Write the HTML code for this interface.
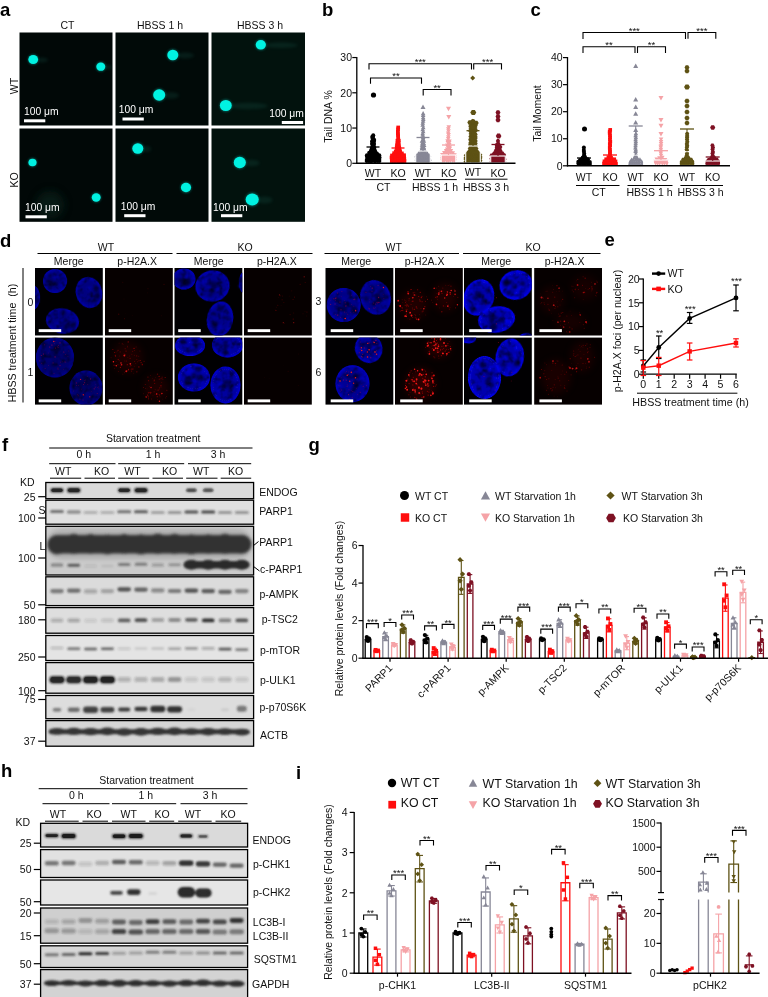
<!DOCTYPE html>
<html lang="en"><head><meta charset="utf-8"><title>Figure</title>
<style>
html,body{margin:0;padding:0;background:#fff}
svg{display:block}
svg text{font-family:"Liberation Sans",Arial,Helvetica,sans-serif;font-size:10.5px;fill:#111}
</style></head><body>
<svg width="768" height="997" viewBox="0 0 768 997">
<defs>
<filter id="b03" x="-20%" y="-20%" width="140%" height="140%"><feGaussianBlur stdDeviation="0.35"/></filter>
<filter id="b06" x="-30%" y="-30%" width="160%" height="160%"><feGaussianBlur stdDeviation="0.6"/></filter>
<filter id="b1" x="-30%" y="-50%" width="160%" height="200%"><feGaussianBlur stdDeviation="1"/></filter>
<filter id="b15" x="-30%" y="-60%" width="160%" height="220%"><feGaussianBlur stdDeviation="1.5"/></filter>
<filter id="b2" x="-30%" y="-60%" width="160%" height="220%"><feGaussianBlur stdDeviation="2.2"/></filter>
<filter id="b4" x="-50%" y="-50%" width="200%" height="200%"><feGaussianBlur stdDeviation="4"/></filter>
<filter id="mot" x="0" y="0" width="100%" height="100%"><feTurbulence type="fractalNoise" baseFrequency="0.17" numOctaves="2" seed="4" result="n"/><feColorMatrix in="n" type="matrix" values="0 0 0 0 0  0 0 0 0 0  2.8 0 0 0 -0.55  0 0 0 0 1" result="n2"/><feComposite in="SourceGraphic" in2="n2" operator="arithmetic" k1="1.0" k2="0.3" k3="0" k4="0"/></filter>
<clipPath id="ca00"><rect x="19.5" y="32.5" width="93" height="93"/></clipPath>
<clipPath id="ca01"><rect x="19.5" y="128.5" width="93" height="93.3"/></clipPath>
<clipPath id="ca10"><rect x="115.5" y="32.5" width="93" height="93"/></clipPath>
<clipPath id="ca11"><rect x="115.5" y="128.5" width="93" height="93.3"/></clipPath>
<clipPath id="ca20"><rect x="211.5" y="32.5" width="93.5" height="93"/></clipPath>
<clipPath id="ca21"><rect x="211.5" y="128.5" width="93.5" height="93.3"/></clipPath>
<clipPath id="cd000"><rect x="35" y="268" width="67.8" height="67.5"/></clipPath>
<clipPath id="cd001"><rect x="35" y="337.6" width="67.8" height="67"/></clipPath>
<clipPath id="cd010"><rect x="105" y="268" width="67.8" height="67.5"/></clipPath>
<clipPath id="cd011"><rect x="105" y="337.6" width="67.8" height="67"/></clipPath>
<clipPath id="cd020"><rect x="174.5" y="268" width="67.8" height="67.5"/></clipPath>
<clipPath id="cd021"><rect x="174.5" y="337.6" width="67.8" height="67"/></clipPath>
<clipPath id="cd030"><rect x="244" y="268" width="67.8" height="67.5"/></clipPath>
<clipPath id="cd031"><rect x="244" y="337.6" width="67.8" height="67"/></clipPath>
<clipPath id="cd100"><rect x="325.5" y="268" width="67.8" height="67.5"/></clipPath>
<clipPath id="cd101"><rect x="325.5" y="337.6" width="67.8" height="67"/></clipPath>
<clipPath id="cd110"><rect x="395" y="268" width="67.8" height="67.5"/></clipPath>
<clipPath id="cd111"><rect x="395" y="337.6" width="67.8" height="67"/></clipPath>
<clipPath id="cd120"><rect x="464" y="268" width="67.8" height="67.5"/></clipPath>
<clipPath id="cd121"><rect x="464" y="337.6" width="67.8" height="67"/></clipPath>
<clipPath id="cd130"><rect x="534.2" y="268" width="67.8" height="67.5"/></clipPath>
<clipPath id="cd131"><rect x="534.2" y="337.6" width="67.8" height="67"/></clipPath>
<clipPath id="cb1"><rect x="45.8" y="482.5" width="207.8" height="16.2"/></clipPath>
<clipPath id="cb2"><rect x="45.8" y="500.2" width="207.8" height="24"/></clipPath>
<clipPath id="cb3"><rect x="45.8" y="526.3" width="207.8" height="48.7"/></clipPath>
<clipPath id="cb4"><rect x="45.8" y="576.8" width="207.8" height="28.8"/></clipPath>
<clipPath id="cb5"><rect x="45.8" y="607.6" width="207.8" height="25.6"/></clipPath>
<clipPath id="cb6"><rect x="45.8" y="635.5" width="207.8" height="25"/></clipPath>
<clipPath id="cb7"><rect x="45.8" y="662.6" width="207.8" height="30.6"/></clipPath>
<clipPath id="cb8"><rect x="45.8" y="695.5" width="207.8" height="23.2"/></clipPath>
<clipPath id="cb9"><rect x="45.8" y="720.6" width="207.8" height="25.6"/></clipPath>
<clipPath id="cb10"><rect x="40.6" y="823.3" width="207" height="23.7"/></clipPath>
<clipPath id="cb11"><rect x="40.6" y="849.6" width="207" height="27.9"/></clipPath>
<clipPath id="cb12"><rect x="40.6" y="880" width="207" height="25"/></clipPath>
<clipPath id="cb13"><rect x="40.6" y="908" width="207" height="35.2"/></clipPath>
<clipPath id="cb14"><rect x="40.6" y="945.8" width="207" height="21.7"/></clipPath>
<clipPath id="cb15"><rect x="40.6" y="969.6" width="207" height="30.4"/></clipPath>
</defs>
<rect width="768" height="997" fill="#fff"/>
<text x="0" y="16" font-weight="bold" style="font-size:18.5px;fill:#000">a</text>
<rect x="19.5" y="32.5" width="93" height="93" fill="#010807"/>
<rect x="19.5" y="128.5" width="93" height="93.3" fill="#010807"/>
<rect x="115.5" y="32.5" width="93" height="93" fill="#010a08"/>
<rect x="115.5" y="128.5" width="93" height="93.3" fill="#010a08"/>
<rect x="211.5" y="32.5" width="93.5" height="93" fill="#02120d"/>
<rect x="211.5" y="128.5" width="93.5" height="93.3" fill="#02120d"/>
<text x="67.5" y="28.5" text-anchor="middle">CT</text>
<text x="160" y="28.5" text-anchor="middle">HBSS 1 h</text>
<text x="260" y="28.5" text-anchor="middle">HBSS 3 h</text>
<text x="18" y="86" text-anchor="middle" transform="rotate(-90 18 86)">WT</text>
<text x="18" y="180" text-anchor="middle" transform="rotate(-90 18 180)">KO</text>
<g clip-path="url(#ca01)"><circle cx="50" cy="205" r="14" fill="#0c2a22" opacity="0.55" filter="url(#b4)"/></g>
<g clip-path="url(#ca00)"><ellipse cx="41.9" cy="60" rx="6" ry="2.59" fill="#1c6a5c" opacity="0.2" filter="url(#b15)"/><circle cx="33.2" cy="59.5" r="5.3" fill="#0aa89c" opacity="0.5" filter="url(#b1)"/><ellipse cx="33.2" cy="59.5" rx="4.89" ry="4.56" fill="#00f2e2" filter="url(#b03)"/></g>
<g clip-path="url(#ca00)"><ellipse cx="107.6" cy="67.2" rx="4.5" ry="2.37" fill="#1c6a5c" opacity="0.2" filter="url(#b15)"/><circle cx="100.8" cy="66.7" r="4.9" fill="#0aa89c" opacity="0.5" filter="url(#b1)"/><ellipse cx="100.8" cy="66.7" rx="4.47" ry="4.17" fill="#00f2e2" filter="url(#b03)"/></g>
<g clip-path="url(#ca10)"><ellipse cx="185.1" cy="55.5" rx="9" ry="2.92" fill="#1c6a5c" opacity="0.2" filter="url(#b15)"/><circle cx="172.8" cy="55" r="5.9" fill="#0aa89c" opacity="0.5" filter="url(#b1)"/><ellipse cx="172.8" cy="55" rx="5.51" ry="5.14" fill="#00f2e2" filter="url(#b03)"/></g>
<g clip-path="url(#ca10)"><ellipse cx="171" cy="95.5" rx="8" ry="3.19" fill="#1c6a5c" opacity="0.2" filter="url(#b15)"/><circle cx="159.2" cy="95" r="6.4" fill="#0aa89c" opacity="0.5" filter="url(#b1)"/><ellipse cx="159.2" cy="95" rx="6.03" ry="5.63" fill="#00f2e2" filter="url(#b03)"/></g>
<g clip-path="url(#ca20)"><ellipse cx="280.7" cy="45.3" rx="17" ry="2.7" fill="#1c6a5c" opacity="0.2" filter="url(#b15)"/><circle cx="260.8" cy="44.8" r="5.5" fill="#0aa89c" opacity="0.5" filter="url(#b1)"/><ellipse cx="260.8" cy="44.8" rx="5.1" ry="4.75" fill="#00f2e2" filter="url(#b03)"/></g>
<g clip-path="url(#ca20)"><ellipse cx="248.5" cy="106" rx="19" ry="3.14" fill="#1c6a5c" opacity="0.2" filter="url(#b15)"/><circle cx="225.8" cy="105.5" r="6.3" fill="#0aa89c" opacity="0.5" filter="url(#b1)"/><ellipse cx="225.8" cy="105.5" rx="5.93" ry="5.53" fill="#00f2e2" filter="url(#b03)"/></g>
<g clip-path="url(#ca01)"><circle cx="32.5" cy="162.5" r="4.5" fill="#0aa89c" opacity="0.5" filter="url(#b1)"/><ellipse cx="32.5" cy="162.5" rx="4.06" ry="3.78" fill="#00f2e2" filter="url(#b03)"/></g>
<g clip-path="url(#ca01)"><circle cx="96.2" cy="197.5" r="4.9" fill="#0aa89c" opacity="0.5" filter="url(#b1)"/><ellipse cx="96.2" cy="197.5" rx="4.47" ry="4.17" fill="#00f2e2" filter="url(#b03)"/></g>
<g clip-path="url(#ca11)"><ellipse cx="146.1" cy="149" rx="5" ry="2.92" fill="#1c6a5c" opacity="0.2" filter="url(#b15)"/><circle cx="137.8" cy="148.5" r="5.9" fill="#0aa89c" opacity="0.5" filter="url(#b1)"/><ellipse cx="137.8" cy="148.5" rx="5.51" ry="5.14" fill="#00f2e2" filter="url(#b03)"/></g>
<g clip-path="url(#ca11)"><circle cx="186" cy="187.5" r="5.5" fill="#0aa89c" opacity="0.5" filter="url(#b1)"/><ellipse cx="186" cy="187.5" rx="5.1" ry="4.75" fill="#00f2e2" filter="url(#b03)"/></g>
<g clip-path="url(#ca21)"><ellipse cx="251.6" cy="163" rx="8" ry="3.19" fill="#1c6a5c" opacity="0.2" filter="url(#b15)"/><circle cx="239.8" cy="162.5" r="6.4" fill="#0aa89c" opacity="0.5" filter="url(#b1)"/><ellipse cx="239.8" cy="162.5" rx="6.03" ry="5.63" fill="#00f2e2" filter="url(#b03)"/></g>
<g clip-path="url(#ca21)"><ellipse cx="264.5" cy="200" rx="8" ry="3.47" fill="#1c6a5c" opacity="0.2" filter="url(#b15)"/><circle cx="252.2" cy="199.5" r="6.9" fill="#0aa89c" opacity="0.5" filter="url(#b1)"/><ellipse cx="252.2" cy="199.5" rx="6.55" ry="6.11" fill="#00f2e2" filter="url(#b03)"/></g>
<rect x="24" y="119.3" width="21.3" height="3" fill="#fff"/>
<text x="24" y="114.5" style="font-size:10.3px;fill:#fff">100 μm</text>
<rect x="122.5" y="117.5" width="21.3" height="3" fill="#fff"/>
<text x="118.8" y="113" style="font-size:10.3px;fill:#fff">100 μm</text>
<rect x="281.8" y="121" width="21.3" height="3" fill="#fff"/>
<text x="269.3" y="116.6" style="font-size:10.3px;fill:#fff">100 μm</text>
<rect x="25.5" y="215.3" width="21.3" height="3" fill="#fff"/>
<text x="25" y="211" style="font-size:10.3px;fill:#fff">100 μm</text>
<rect x="124.2" y="214.2" width="21.3" height="3" fill="#fff"/>
<text x="120.8" y="210" style="font-size:10.3px;fill:#fff">100 μm</text>
<rect x="221" y="214.2" width="21.3" height="3" fill="#fff"/>
<text x="213" y="210.7" style="font-size:10.3px;fill:#fff">100 μm</text>
<text x="322" y="16" font-weight="bold" style="font-size:18.5px;fill:#000">b</text>
<text x="332" y="116.5" text-anchor="middle" transform="rotate(-90 332 116.5)">Tail DNA %</text>
<line x1="352.3" y1="163.3" x2="356.8" y2="163.3" stroke="#000" stroke-width="1.2"/>
<text x="352" y="167" text-anchor="end">0</text>
<line x1="352.3" y1="128.05" x2="356.8" y2="128.05" stroke="#000" stroke-width="1.2"/>
<text x="352" y="131.75" text-anchor="end">10</text>
<line x1="352.3" y1="92.8" x2="356.8" y2="92.8" stroke="#000" stroke-width="1.2"/>
<text x="352" y="96.5" text-anchor="end">20</text>
<line x1="352.3" y1="57.55" x2="356.8" y2="57.55" stroke="#000" stroke-width="1.2"/>
<text x="352" y="61.25" text-anchor="end">30</text>
<circle cx="366.67" cy="161.06" r="2" fill="#000"/><circle cx="368.81" cy="161.02" r="2" fill="#000"/><circle cx="371.02" cy="161.45" r="2" fill="#000"/><circle cx="372.71" cy="160.83" r="2" fill="#000"/><circle cx="374.91" cy="161.31" r="2" fill="#000"/><circle cx="377.41" cy="161.12" r="2" fill="#000"/><circle cx="379.37" cy="161.12" r="2" fill="#000"/><circle cx="366.91" cy="159.38" r="2" fill="#000"/><circle cx="368.97" cy="158.81" r="2" fill="#000"/><circle cx="370.96" cy="158.91" r="2" fill="#000"/><circle cx="373.1" cy="159.45" r="2" fill="#000"/><circle cx="375.21" cy="159.03" r="2" fill="#000"/><circle cx="377" cy="159.48" r="2" fill="#000"/><circle cx="379.39" cy="159.12" r="2" fill="#000"/><circle cx="366.96" cy="156.8" r="2" fill="#000"/><circle cx="369.01" cy="156.76" r="2" fill="#000"/><circle cx="370.88" cy="156.86" r="2" fill="#000"/><circle cx="372.97" cy="156.75" r="2" fill="#000"/><circle cx="375.28" cy="157.42" r="2" fill="#000"/><circle cx="376.9" cy="157.33" r="2" fill="#000"/><circle cx="379.45" cy="157.15" r="2" fill="#000"/><circle cx="366.9" cy="155.26" r="2" fill="#000"/><circle cx="368.89" cy="155.19" r="2" fill="#000"/><circle cx="370.85" cy="155.03" r="2" fill="#000"/><circle cx="373.05" cy="154.78" r="2" fill="#000"/><circle cx="375.17" cy="154.76" r="2" fill="#000"/><circle cx="377.33" cy="154.71" r="2" fill="#000"/><circle cx="379.27" cy="155.37" r="2" fill="#000"/><circle cx="369.16" cy="152.73" r="2" fill="#000"/><circle cx="371.22" cy="153.04" r="2" fill="#000"/><circle cx="373.13" cy="153.33" r="2" fill="#000"/><circle cx="375.23" cy="153.04" r="2" fill="#000"/><circle cx="376.92" cy="153.45" r="2" fill="#000"/><circle cx="370.94" cy="150.71" r="2" fill="#000"/><circle cx="372.75" cy="150.86" r="2" fill="#000"/><circle cx="375.22" cy="151.38" r="2" fill="#000"/><circle cx="371.62" cy="148.88" r="2" fill="#000"/><circle cx="374.48" cy="149.46" r="2" fill="#000"/><circle cx="372.05" cy="147.46" r="2" fill="#000"/><circle cx="374.15" cy="147.24" r="2" fill="#000"/><circle cx="372.33" cy="144.72" r="2" fill="#000"/><circle cx="373.9" cy="144.7" r="2" fill="#000"/><circle cx="372.06" cy="143.44" r="2" fill="#000"/><circle cx="373.89" cy="143.47" r="2" fill="#000"/><circle cx="372.03" cy="141.17" r="2" fill="#000"/><circle cx="373.86" cy="141.38" r="2" fill="#000"/><circle cx="372.73" cy="138.81" r="2" fill="#000"/><circle cx="372.89" cy="136.73" r="2" fill="#000"/><circle cx="373.24" cy="135.2" r="2" fill="#000"/><circle cx="373.5" cy="95" r="2.6" fill="#000"/><circle cx="372.5" cy="137" r="2.3" fill="#000"/><circle cx="374" cy="140" r="2.2" fill="#000"/>
<line x1="373" y1="147" x2="373" y2="155" stroke="#000" stroke-width="1.1"/>
<line x1="366.5" y1="147" x2="379.5" y2="147" stroke="#000" stroke-width="1.3"/>
<rect x="389.96" y="159.24" width="3.68" height="3.68" fill="#ff0d0d"/><rect x="392.13" y="159.18" width="3.68" height="3.68" fill="#ff0d0d"/><rect x="394.14" y="159.16" width="3.68" height="3.68" fill="#ff0d0d"/><rect x="396.42" y="159.25" width="3.68" height="3.68" fill="#ff0d0d"/><rect x="398.18" y="159.08" width="3.68" height="3.68" fill="#ff0d0d"/><rect x="400.12" y="159.42" width="3.68" height="3.68" fill="#ff0d0d"/><rect x="402.62" y="159.24" width="3.68" height="3.68" fill="#ff0d0d"/><rect x="390.02" y="157.65" width="3.68" height="3.68" fill="#ff0d0d"/><rect x="391.99" y="157.2" width="3.68" height="3.68" fill="#ff0d0d"/><rect x="393.81" y="157.17" width="3.68" height="3.68" fill="#ff0d0d"/><rect x="396.24" y="157.61" width="3.68" height="3.68" fill="#ff0d0d"/><rect x="398.29" y="157.29" width="3.68" height="3.68" fill="#ff0d0d"/><rect x="400.38" y="157.38" width="3.68" height="3.68" fill="#ff0d0d"/><rect x="402.46" y="157.07" width="3.68" height="3.68" fill="#ff0d0d"/><rect x="389.7" y="155.61" width="3.68" height="3.68" fill="#ff0d0d"/><rect x="392.15" y="154.89" width="3.68" height="3.68" fill="#ff0d0d"/><rect x="393.95" y="155.29" width="3.68" height="3.68" fill="#ff0d0d"/><rect x="396.22" y="155.4" width="3.68" height="3.68" fill="#ff0d0d"/><rect x="398.14" y="155.41" width="3.68" height="3.68" fill="#ff0d0d"/><rect x="400.2" y="155.18" width="3.68" height="3.68" fill="#ff0d0d"/><rect x="402.21" y="155.36" width="3.68" height="3.68" fill="#ff0d0d"/><rect x="390.15" y="153.64" width="3.68" height="3.68" fill="#ff0d0d"/><rect x="392.09" y="153.07" width="3.68" height="3.68" fill="#ff0d0d"/><rect x="393.99" y="153.48" width="3.68" height="3.68" fill="#ff0d0d"/><rect x="396.34" y="153.47" width="3.68" height="3.68" fill="#ff0d0d"/><rect x="398.03" y="153.31" width="3.68" height="3.68" fill="#ff0d0d"/><rect x="400.39" y="153.58" width="3.68" height="3.68" fill="#ff0d0d"/><rect x="402.22" y="153.39" width="3.68" height="3.68" fill="#ff0d0d"/><rect x="392.31" y="151.31" width="3.68" height="3.68" fill="#ff0d0d"/><rect x="394.35" y="151.52" width="3.68" height="3.68" fill="#ff0d0d"/><rect x="396.06" y="151.14" width="3.68" height="3.68" fill="#ff0d0d"/><rect x="398.42" y="151.3" width="3.68" height="3.68" fill="#ff0d0d"/><rect x="400.05" y="151.56" width="3.68" height="3.68" fill="#ff0d0d"/><rect x="393.9" y="149.51" width="3.68" height="3.68" fill="#ff0d0d"/><rect x="396.34" y="148.99" width="3.68" height="3.68" fill="#ff0d0d"/><rect x="398.24" y="149.44" width="3.68" height="3.68" fill="#ff0d0d"/><rect x="395.08" y="147.15" width="3.68" height="3.68" fill="#ff0d0d"/><rect x="397.6" y="147.38" width="3.68" height="3.68" fill="#ff0d0d"/><rect x="394.91" y="145.43" width="3.68" height="3.68" fill="#ff0d0d"/><rect x="397.36" y="145.44" width="3.68" height="3.68" fill="#ff0d0d"/><rect x="395.17" y="143.33" width="3.68" height="3.68" fill="#ff0d0d"/><rect x="397.01" y="143.33" width="3.68" height="3.68" fill="#ff0d0d"/><rect x="395.58" y="141.54" width="3.68" height="3.68" fill="#ff0d0d"/><rect x="396.69" y="140.91" width="3.68" height="3.68" fill="#ff0d0d"/><rect x="395.6" y="138.87" width="3.68" height="3.68" fill="#ff0d0d"/><rect x="396.91" y="138.9" width="3.68" height="3.68" fill="#ff0d0d"/><rect x="396.42" y="137.48" width="3.68" height="3.68" fill="#ff0d0d"/><rect x="396.31" y="134.99" width="3.68" height="3.68" fill="#ff0d0d"/><rect x="396.26" y="133.24" width="3.68" height="3.68" fill="#ff0d0d"/><rect x="396.03" y="131.39" width="3.68" height="3.68" fill="#ff0d0d"/><rect x="396" y="129.61" width="3.68" height="3.68" fill="#ff0d0d"/><rect x="396.21" y="127.43" width="3.68" height="3.68" fill="#ff0d0d"/><rect x="396.35" y="125.62" width="3.68" height="3.68" fill="#ff0d0d"/>
<line x1="398" y1="148" x2="398" y2="156" stroke="#ff0d0d" stroke-width="1.1"/>
<line x1="391.5" y1="148" x2="404.5" y2="148" stroke="#ff0d0d" stroke-width="1.3"/>
<polygon points="417.07,158.65 419.37,162.79 414.77,162.79" fill="#878796"/><polygon points="419.14,158.48 421.44,162.62 416.84,162.62" fill="#878796"/><polygon points="421.18,158.74 423.48,162.88 418.88,162.88" fill="#878796"/><polygon points="422.71,158.6 425.01,162.74 420.41,162.74" fill="#878796"/><polygon points="424.86,158.96 427.16,163.1 422.56,163.1" fill="#878796"/><polygon points="427.21,158.78 429.51,162.92 424.91,162.92" fill="#878796"/><polygon points="429.12,158.45 431.42,162.59 426.82,162.59" fill="#878796"/><polygon points="416.9,156.93 419.2,161.07 414.6,161.07" fill="#878796"/><polygon points="418.74,156.51 421.04,160.65 416.44,160.65" fill="#878796"/><polygon points="420.93,156.57 423.23,160.71 418.63,160.71" fill="#878796"/><polygon points="422.91,157.04 425.21,161.18 420.61,161.18" fill="#878796"/><polygon points="425.08,156.55 427.38,160.69 422.78,160.69" fill="#878796"/><polygon points="426.92,156.57 429.22,160.71 424.62,160.71" fill="#878796"/><polygon points="429.42,156.56 431.72,160.7 427.12,160.7" fill="#878796"/><polygon points="417.02,155.19 419.32,159.33 414.72,159.33" fill="#878796"/><polygon points="418.96,154.51 421.26,158.65 416.66,158.65" fill="#878796"/><polygon points="420.67,154.98 422.97,159.12 418.37,159.12" fill="#878796"/><polygon points="422.86,154.78 425.16,158.92 420.56,158.92" fill="#878796"/><polygon points="425.01,154.82 427.31,158.96 422.71,158.96" fill="#878796"/><polygon points="427.28,155.2 429.58,159.34 424.98,159.34" fill="#878796"/><polygon points="428.9,155.1 431.2,159.24 426.6,159.24" fill="#878796"/><polygon points="416.6,153.15 418.9,157.29 414.3,157.29" fill="#878796"/><polygon points="419.17,152.52 421.47,156.66 416.87,156.66" fill="#878796"/><polygon points="420.69,152.8 422.99,156.94 418.39,156.94" fill="#878796"/><polygon points="422.89,152.95 425.19,157.09 420.59,157.09" fill="#878796"/><polygon points="424.97,152.68 427.27,156.82 422.67,156.82" fill="#878796"/><polygon points="427.17,152.91 429.47,157.05 424.87,157.05" fill="#878796"/><polygon points="428.99,152.94 431.29,157.08 426.69,157.08" fill="#878796"/><polygon points="418.72,150.76 421.02,154.9 416.42,154.9" fill="#878796"/><polygon points="421.1,150.9 423.4,155.04 418.8,155.04" fill="#878796"/><polygon points="422.75,151.06 425.05,155.2 420.45,155.2" fill="#878796"/><polygon points="424.95,150.72 427.25,154.86 422.65,154.86" fill="#878796"/><polygon points="427.22,150.9 429.52,155.04 424.92,155.04" fill="#878796"/><polygon points="420.91,148.7 423.21,152.84 418.61,152.84" fill="#878796"/><polygon points="422.96,148.9 425.26,153.04 420.66,153.04" fill="#878796"/><polygon points="425.27,148.64 427.57,152.78 422.97,152.78" fill="#878796"/><polygon points="421.69,146.64 423.99,150.78 419.39,150.78" fill="#878796"/><polygon points="424.24,147 426.54,151.14 421.94,151.14" fill="#878796"/><polygon points="422,144.64 424.3,148.78 419.7,148.78" fill="#878796"/><polygon points="423.77,144.86 426.07,149 421.47,149" fill="#878796"/><polygon points="422.06,142.5 424.36,146.64 419.76,146.64" fill="#878796"/><polygon points="424.16,142.9 426.46,147.04 421.86,147.04" fill="#878796"/><polygon points="422.41,140.57 424.71,144.71 420.11,144.71" fill="#878796"/><polygon points="423.69,140.83 425.99,144.97 421.39,144.97" fill="#878796"/><polygon points="421.98,138.55 424.28,142.69 419.68,142.69" fill="#878796"/><polygon points="423.89,138.49 426.19,142.63 421.59,142.63" fill="#878796"/><polygon points="423.18,136.67 425.48,140.81 420.88,140.81" fill="#878796"/><polygon points="423.14,134.75 425.44,138.89 420.84,138.89" fill="#878796"/><polygon points="422.76,132.73 425.06,136.87 420.46,136.87" fill="#878796"/><polygon points="422.7,131.09 425,135.23 420.4,135.23" fill="#878796"/><polygon points="423.16,129.16 425.46,133.3 420.86,133.3" fill="#878796"/><polygon points="422.76,127.12 425.06,131.26 420.46,131.26" fill="#878796"/><polygon points="423.23,125.06 425.53,129.2 420.93,129.2" fill="#878796"/><polygon points="422.71,122.53 425.01,126.67 420.41,126.67" fill="#878796"/><polygon points="422.77,120.52 425.07,124.66 420.47,124.66" fill="#878796"/><polygon points="423.1,118.53 425.4,122.67 420.8,122.67" fill="#878796"/><polygon points="423.27,116.74 425.57,120.88 420.97,120.88" fill="#878796"/><polygon points="423.18,115.17 425.48,119.31 420.88,119.31" fill="#878796"/><polygon points="423.16,112.79 425.46,116.93 420.86,116.93" fill="#878796"/><polygon points="423.13,111.11 425.43,115.25 420.83,115.25" fill="#878796"/><polygon points="423,104.47 425.53,109.02 420.47,109.02" fill="#878796"/>
<rect x="415.7" y="151" width="14.6" height="12" fill="none" stroke="#fff" stroke-width="1.1"/>
<line x1="423" y1="137.5" x2="423" y2="151" stroke="#878796" stroke-width="1.1"/>
<line x1="416.5" y1="137.5" x2="429.5" y2="137.5" stroke="#878796" stroke-width="1.3"/>
<polygon points="442.48,163.05 444.78,158.91 440.18,158.91" fill="#f5a3a7"/><polygon points="444.12,163.54 446.42,159.4 441.82,159.4" fill="#f5a3a7"/><polygon points="446.48,163.14 448.78,159 444.18,159" fill="#f5a3a7"/><polygon points="448.35,163.66 450.65,159.52 446.05,159.52" fill="#f5a3a7"/><polygon points="450.41,163.31 452.71,159.17 448.11,159.17" fill="#f5a3a7"/><polygon points="452.77,163.49 455.07,159.35 450.47,159.35" fill="#f5a3a7"/><polygon points="454.59,163.48 456.89,159.34 452.29,159.34" fill="#f5a3a7"/><polygon points="442.24,161.47 444.54,157.33 439.94,157.33" fill="#f5a3a7"/><polygon points="444.14,161.4 446.44,157.26 441.84,157.26" fill="#f5a3a7"/><polygon points="446.73,161.47 449.03,157.33 444.43,157.33" fill="#f5a3a7"/><polygon points="448.65,161.67 450.95,157.53 446.35,157.53" fill="#f5a3a7"/><polygon points="450.67,161.2 452.97,157.06 448.37,157.06" fill="#f5a3a7"/><polygon points="452.72,161.39 455.02,157.25 450.42,157.25" fill="#f5a3a7"/><polygon points="454.66,161.29 456.96,157.15 452.36,157.15" fill="#f5a3a7"/><polygon points="442.57,159.68 444.87,155.54 440.27,155.54" fill="#f5a3a7"/><polygon points="444.14,159.2 446.44,155.06 441.84,155.06" fill="#f5a3a7"/><polygon points="446.69,159.39 448.99,155.25 444.39,155.25" fill="#f5a3a7"/><polygon points="448.47,159.22 450.77,155.08 446.17,155.08" fill="#f5a3a7"/><polygon points="450.37,159.59 452.67,155.45 448.07,155.45" fill="#f5a3a7"/><polygon points="452.43,159.33 454.73,155.19 450.13,155.19" fill="#f5a3a7"/><polygon points="454.56,159.61 456.86,155.47 452.26,155.47" fill="#f5a3a7"/><polygon points="442.44,157.04 444.74,152.9 440.14,152.9" fill="#f5a3a7"/><polygon points="444.26,157.24 446.56,153.1 441.96,153.1" fill="#f5a3a7"/><polygon points="446.39,157.12 448.69,152.98 444.09,152.98" fill="#f5a3a7"/><polygon points="448.55,157.59 450.85,153.45 446.25,153.45" fill="#f5a3a7"/><polygon points="450.39,157.78 452.69,153.64 448.09,153.64" fill="#f5a3a7"/><polygon points="452.6,157.49 454.9,153.35 450.3,153.35" fill="#f5a3a7"/><polygon points="454.47,157.51 456.77,153.37 452.17,153.37" fill="#f5a3a7"/><polygon points="444.34,155.18 446.64,151.04 442.04,151.04" fill="#f5a3a7"/><polygon points="446.26,155.01 448.56,150.87 443.96,150.87" fill="#f5a3a7"/><polygon points="448.49,155.32 450.79,151.18 446.19,151.18" fill="#f5a3a7"/><polygon points="450.51,155.13 452.81,150.99 448.21,150.99" fill="#f5a3a7"/><polygon points="452.75,155.35 455.05,151.21 450.45,151.21" fill="#f5a3a7"/><polygon points="446.22,153.22 448.52,149.08 443.92,149.08" fill="#f5a3a7"/><polygon points="448.71,153.48 451.01,149.34 446.41,149.34" fill="#f5a3a7"/><polygon points="450.91,153.03 453.21,148.89 448.61,148.89" fill="#f5a3a7"/><polygon points="447.22,151.62 449.52,147.48 444.92,147.48" fill="#f5a3a7"/><polygon points="449.6,151.23 451.9,147.09 447.3,147.09" fill="#f5a3a7"/><polygon points="447.58,149.03 449.88,144.89 445.28,144.89" fill="#f5a3a7"/><polygon points="449.74,149.61 452.04,145.47 447.44,145.47" fill="#f5a3a7"/><polygon points="447.42,147.59 449.72,143.45 445.12,143.45" fill="#f5a3a7"/><polygon points="449.21,147.24 451.51,143.1 446.91,143.1" fill="#f5a3a7"/><polygon points="447.89,145.08 450.19,140.94 445.59,140.94" fill="#f5a3a7"/><polygon points="449.18,145.11 451.48,140.97 446.88,140.97" fill="#f5a3a7"/><polygon points="447.6,143.46 449.9,139.32 445.3,139.32" fill="#f5a3a7"/><polygon points="449.43,143.73 451.73,139.59 447.13,139.59" fill="#f5a3a7"/><polygon points="448.26,141.13 450.56,136.99 445.96,136.99" fill="#f5a3a7"/><polygon points="448.38,139.51 450.68,135.37 446.08,135.37" fill="#f5a3a7"/><polygon points="448.55,137.26 450.85,133.12 446.25,133.12" fill="#f5a3a7"/><polygon points="448.2,135.53 450.5,131.39 445.9,131.39" fill="#f5a3a7"/><polygon points="448.46,133.41 450.76,129.27 446.16,129.27" fill="#f5a3a7"/><polygon points="448.33,131.33 450.63,127.19 446.03,127.19" fill="#f5a3a7"/><polygon points="448.77,129.49 451.07,125.35 446.47,125.35" fill="#f5a3a7"/><polygon points="448.5,111.23 451.03,106.68 445.97,106.68" fill="#f5a3a7"/><polygon points="448.8,119.53 451.33,114.98 446.27,114.98" fill="#f5a3a7"/>
<rect x="441.2" y="155" width="14.6" height="8" fill="none" stroke="#fff" stroke-width="1.1"/>
<line x1="448.5" y1="145" x2="448.5" y2="155" stroke="#f5a3a7" stroke-width="1.1"/>
<line x1="442" y1="145" x2="455" y2="145" stroke="#f5a3a7" stroke-width="1.3"/>
<polygon points="466.03,158.9 468.53,161.4 466.03,163.9 463.53,161.4" fill="#5e5214"/><polygon points="467.86,158.47 470.36,160.97 467.86,163.47 465.36,160.97" fill="#5e5214"/><polygon points="469.77,158.29 472.27,160.79 469.77,163.29 467.27,160.79" fill="#5e5214"/><polygon points="472.25,158.92 474.75,161.42 472.25,163.92 469.75,161.42" fill="#5e5214"/><polygon points="474.26,158.7 476.76,161.2 474.26,163.7 471.76,161.2" fill="#5e5214"/><polygon points="476.16,158.39 478.66,160.89 476.16,163.39 473.66,160.89" fill="#5e5214"/><polygon points="477.88,158.46 480.38,160.96 477.88,163.46 475.38,160.96" fill="#5e5214"/><polygon points="480.09,158.36 482.59,160.86 480.09,163.36 477.59,160.86" fill="#5e5214"/><polygon points="465.86,156.4 468.36,158.9 465.86,161.4 463.36,158.9" fill="#5e5214"/><polygon points="468.28,156.46 470.78,158.96 468.28,161.46 465.78,158.96" fill="#5e5214"/><polygon points="470.02,156.91 472.52,159.41 470.02,161.91 467.52,159.41" fill="#5e5214"/><polygon points="472,156.72 474.5,159.22 472,161.72 469.5,159.22" fill="#5e5214"/><polygon points="474.13,156.46 476.63,158.96 474.13,161.46 471.63,158.96" fill="#5e5214"/><polygon points="476.04,156.85 478.54,159.35 476.04,161.85 473.54,159.35" fill="#5e5214"/><polygon points="478.09,156.5 480.59,159 478.09,161.5 475.59,159" fill="#5e5214"/><polygon points="479.81,156.29 482.31,158.79 479.81,161.29 477.31,158.79" fill="#5e5214"/><polygon points="466.09,154.9 468.59,157.4 466.09,159.9 463.59,157.4" fill="#5e5214"/><polygon points="468.26,154.89 470.76,157.39 468.26,159.89 465.76,157.39" fill="#5e5214"/><polygon points="469.9,154.42 472.4,156.92 469.9,159.42 467.4,156.92" fill="#5e5214"/><polygon points="472.06,154.56 474.56,157.06 472.06,159.56 469.56,157.06" fill="#5e5214"/><polygon points="474.09,154.63 476.59,157.13 474.09,159.63 471.59,157.13" fill="#5e5214"/><polygon points="475.89,154.86 478.39,157.36 475.89,159.86 473.39,157.36" fill="#5e5214"/><polygon points="477.74,154.43 480.24,156.93 477.74,159.43 475.24,156.93" fill="#5e5214"/><polygon points="480.15,154.57 482.65,157.07 480.15,159.57 477.65,157.07" fill="#5e5214"/><polygon points="466.14,152.71 468.64,155.21 466.14,157.71 463.64,155.21" fill="#5e5214"/><polygon points="467.86,152.69 470.36,155.19 467.86,157.69 465.36,155.19" fill="#5e5214"/><polygon points="470.22,152.97 472.72,155.47 470.22,157.97 467.72,155.47" fill="#5e5214"/><polygon points="472,152.8 474.5,155.3 472,157.8 469.5,155.3" fill="#5e5214"/><polygon points="474.16,152.72 476.66,155.22 474.16,157.72 471.66,155.22" fill="#5e5214"/><polygon points="475.9,152.68 478.4,155.18 475.9,157.68 473.4,155.18" fill="#5e5214"/><polygon points="478.02,152.38 480.52,154.88 478.02,157.38 475.52,154.88" fill="#5e5214"/><polygon points="479.91,152.32 482.41,154.82 479.91,157.32 477.41,154.82" fill="#5e5214"/><polygon points="467.6,150.78 470.1,153.28 467.6,155.78 465.1,153.28" fill="#5e5214"/><polygon points="469.66,150.91 472.16,153.41 469.66,155.91 467.16,153.41" fill="#5e5214"/><polygon points="472.13,150.42 474.63,152.92 472.13,155.42 469.63,152.92" fill="#5e5214"/><polygon points="473.84,150.85 476.34,153.35 473.84,155.85 471.34,153.35" fill="#5e5214"/><polygon points="476.05,150.41 478.55,152.91 476.05,155.41 473.55,152.91" fill="#5e5214"/><polygon points="478.36,150.4 480.86,152.9 478.36,155.4 475.86,152.9" fill="#5e5214"/><polygon points="469.21,148.88 471.71,151.38 469.21,153.88 466.71,151.38" fill="#5e5214"/><polygon points="471.02,148.85 473.52,151.35 471.02,153.85 468.52,151.35" fill="#5e5214"/><polygon points="473.02,148.55 475.52,151.05 473.02,153.55 470.52,151.05" fill="#5e5214"/><polygon points="474.74,148.8 477.24,151.3 474.74,153.8 472.24,151.3" fill="#5e5214"/><polygon points="477.02,148.98 479.52,151.48 477.02,153.98 474.52,151.48" fill="#5e5214"/><polygon points="470.14,146.29 472.64,148.79 470.14,151.29 467.64,148.79" fill="#5e5214"/><polygon points="472.25,146.69 474.75,149.19 472.25,151.69 469.75,149.19" fill="#5e5214"/><polygon points="474.05,146.53 476.55,149.03 474.05,151.53 471.55,149.03" fill="#5e5214"/><polygon points="476.13,146.22 478.63,148.72 476.13,151.22 473.63,148.72" fill="#5e5214"/><polygon points="470.67,144.76 473.17,147.26 470.67,149.76 468.17,147.26" fill="#5e5214"/><polygon points="473.22,144.61 475.72,147.11 473.22,149.61 470.72,147.11" fill="#5e5214"/><polygon points="475.5,144.42 478,146.92 475.5,149.42 473,146.92" fill="#5e5214"/><polygon points="470.4,142.38 472.9,144.88 470.4,147.38 467.9,144.88" fill="#5e5214"/><polygon points="473.1,142.61 475.6,145.11 473.1,147.61 470.6,145.11" fill="#5e5214"/><polygon points="475.31,142.63 477.81,145.13 475.31,147.63 472.81,145.13" fill="#5e5214"/><polygon points="470.59,140.58 473.09,143.08 470.59,145.58 468.09,143.08" fill="#5e5214"/><polygon points="472.72,140.6 475.22,143.1 472.72,145.6 470.22,143.1" fill="#5e5214"/><polygon points="475.31,140.64 477.81,143.14 475.31,145.64 472.81,143.14" fill="#5e5214"/><polygon points="470.86,138.23 473.36,140.73 470.86,143.23 468.36,140.73" fill="#5e5214"/><polygon points="473.24,138.89 475.74,141.39 473.24,143.89 470.74,141.39" fill="#5e5214"/><polygon points="475.36,138.5 477.86,141 475.36,143.5 472.86,141" fill="#5e5214"/><polygon points="470.57,136.71 473.07,139.21 470.57,141.71 468.07,139.21" fill="#5e5214"/><polygon points="472.84,136.94 475.34,139.44 472.84,141.94 470.34,139.44" fill="#5e5214"/><polygon points="475.18,136.26 477.68,138.76 475.18,141.26 472.68,138.76" fill="#5e5214"/><polygon points="470.75,134.3 473.25,136.8 470.75,139.3 468.25,136.8" fill="#5e5214"/><polygon points="473.12,134.89 475.62,137.39 473.12,139.89 470.62,137.39" fill="#5e5214"/><polygon points="475.36,134.52 477.86,137.02 475.36,139.52 472.86,137.02" fill="#5e5214"/><polygon points="471.12,132.43 473.62,134.93 471.12,137.43 468.62,134.93" fill="#5e5214"/><polygon points="473.14,132.73 475.64,135.23 473.14,137.73 470.64,135.23" fill="#5e5214"/><polygon points="475.32,132.25 477.82,134.75 475.32,137.25 472.82,134.75" fill="#5e5214"/><polygon points="471.08,130.65 473.58,133.15 471.08,135.65 468.58,133.15" fill="#5e5214"/><polygon points="473.15,130.61 475.65,133.11 473.15,135.61 470.65,133.11" fill="#5e5214"/><polygon points="474.9,130.97 477.4,133.47 474.9,135.97 472.4,133.47" fill="#5e5214"/><polygon points="470.61,128.84 473.11,131.34 470.61,133.84 468.11,131.34" fill="#5e5214"/><polygon points="472.8,128.6 475.3,131.1 472.8,133.6 470.3,131.1" fill="#5e5214"/><polygon points="475.25,128.57 477.75,131.07 475.25,133.57 472.75,131.07" fill="#5e5214"/><polygon points="470.82,126.48 473.32,128.98 470.82,131.48 468.32,128.98" fill="#5e5214"/><polygon points="472.88,126.63 475.38,129.13 472.88,131.63 470.38,129.13" fill="#5e5214"/><polygon points="475.29,126.68 477.79,129.18 475.29,131.68 472.79,129.18" fill="#5e5214"/><polygon points="470.67,124.28 473.17,126.78 470.67,129.28 468.17,126.78" fill="#5e5214"/><polygon points="473.13,124.71 475.63,127.21 473.13,129.71 470.63,127.21" fill="#5e5214"/><polygon points="475.06,124.58 477.56,127.08 475.06,129.58 472.56,127.08" fill="#5e5214"/><polygon points="470.92,122.82 473.42,125.32 470.92,127.82 468.42,125.32" fill="#5e5214"/><polygon points="472.7,122.83 475.2,125.33 472.7,127.83 470.2,125.33" fill="#5e5214"/><polygon points="475.3,122.89 477.8,125.39 475.3,127.89 472.8,125.39" fill="#5e5214"/><polygon points="472.98,120.84 475.48,123.34 472.98,125.84 470.48,123.34" fill="#5e5214"/><polygon points="472.83,118.86 475.33,121.36 472.83,123.86 470.33,121.36" fill="#5e5214"/><polygon points="472.7,75.5 475.2,78 472.7,80.5 470.2,78" fill="#5e5214"/><polygon points="476.32,112.5 474.81,115.12 471.79,115.12 470.28,112.5 471.79,109.88 474.81,109.88" fill="#5e5214"/><polygon points="472.7,122.5 471.35,124.84 468.65,124.84 467.3,122.5 468.65,120.16 471.35,120.16" fill="#5e5214"/><polygon points="478.7,123 477.35,125.34 474.65,125.34 473.3,123 474.65,120.66 477.35,120.66" fill="#5e5214"/><polygon points="475.7,121.5 474.35,123.84 471.65,123.84 470.3,121.5 471.65,119.16 474.35,119.16" fill="#5e5214"/><polygon points="475.7,127 474.35,129.34 471.65,129.34 470.3,127 471.65,124.66 474.35,124.66" fill="#5e5214"/>
<rect x="465.7" y="146" width="14.6" height="17" fill="none" stroke="#fff" stroke-width="1.1"/>
<line x1="473" y1="130.7" x2="473" y2="146" stroke="#5e5214" stroke-width="1.1"/>
<line x1="466.5" y1="130.7" x2="479.5" y2="130.7" stroke="#5e5214" stroke-width="1.3"/>
<polygon points="493.93,161.37 492.85,163.24 490.69,163.24 489.61,161.37 490.69,159.49 492.85,159.49" fill="#7e1123"/><polygon points="495.76,161.41 494.68,163.28 492.52,163.28 491.44,161.41 492.52,159.54 494.68,159.54" fill="#7e1123"/><polygon points="497.9,161.11 496.82,162.98 494.66,162.98 493.58,161.11 494.66,159.24 496.82,159.24" fill="#7e1123"/><polygon points="499.9,161.48 498.82,163.35 496.66,163.35 495.58,161.48 496.66,159.61 498.82,159.61" fill="#7e1123"/><polygon points="502.19,161.17 501.11,163.04 498.95,163.04 497.87,161.17 498.95,159.3 501.11,159.3" fill="#7e1123"/><polygon points="504.4,161.46 503.32,163.33 501.16,163.33 500.08,161.46 501.16,159.59 503.32,159.59" fill="#7e1123"/><polygon points="506.27,161.18 505.19,163.05 503.03,163.05 501.95,161.18 503.03,159.31 505.19,159.31" fill="#7e1123"/><polygon points="493.7,158.73 492.62,160.6 490.46,160.6 489.38,158.73 490.46,156.86 492.62,156.86" fill="#7e1123"/><polygon points="495.88,159.42 494.8,161.3 492.64,161.3 491.56,159.42 492.64,157.55 494.8,157.55" fill="#7e1123"/><polygon points="498.09,159.37 497.01,161.24 494.85,161.24 493.77,159.37 494.85,157.5 497.01,157.5" fill="#7e1123"/><polygon points="500.23,159.22 499.15,161.09 496.99,161.09 495.91,159.22 496.99,157.35 499.15,157.35" fill="#7e1123"/><polygon points="501.99,159.46 500.91,161.33 498.75,161.33 497.67,159.46 498.75,157.59 500.91,157.59" fill="#7e1123"/><polygon points="504.41,159.28 503.33,161.15 501.17,161.15 500.09,159.28 501.17,157.41 503.33,157.41" fill="#7e1123"/><polygon points="506.5,159.13 505.42,161 503.26,161 502.18,159.13 503.26,157.26 505.42,157.26" fill="#7e1123"/><polygon points="494.25,157.26 493.17,159.13 491.01,159.13 489.93,157.26 491.01,155.39 493.17,155.39" fill="#7e1123"/><polygon points="495.9,157.29 494.82,159.16 492.66,159.16 491.58,157.29 492.66,155.42 494.82,155.42" fill="#7e1123"/><polygon points="498.29,157 497.21,158.87 495.05,158.87 493.97,157 495.05,155.13 497.21,155.13" fill="#7e1123"/><polygon points="500.07,157.43 498.99,159.3 496.83,159.3 495.75,157.43 496.83,155.55 498.99,155.55" fill="#7e1123"/><polygon points="502.33,156.72 501.25,158.6 499.09,158.6 498.01,156.72 499.09,154.85 501.25,154.85" fill="#7e1123"/><polygon points="504.33,157.5 503.25,159.37 501.09,159.37 500.01,157.5 501.09,155.63 503.25,155.63" fill="#7e1123"/><polygon points="506.05,157.43 504.97,159.3 502.81,159.3 501.73,157.43 502.81,155.56 504.97,155.56" fill="#7e1123"/><polygon points="493.79,155.47 492.71,157.34 490.55,157.34 489.47,155.47 490.55,153.6 492.71,153.6" fill="#7e1123"/><polygon points="495.78,154.98 494.7,156.85 492.54,156.85 491.46,154.98 492.54,153.11 494.7,153.11" fill="#7e1123"/><polygon points="498.34,155.34 497.26,157.21 495.1,157.21 494.02,155.34 495.1,153.47 497.26,153.47" fill="#7e1123"/><polygon points="500.44,155.12 499.36,156.99 497.2,156.99 496.12,155.12 497.2,153.25 499.36,153.25" fill="#7e1123"/><polygon points="502.4,154.77 501.32,156.64 499.16,156.64 498.08,154.77 499.16,152.9 501.32,152.9" fill="#7e1123"/><polygon points="504.54,155.47 503.46,157.34 501.3,157.34 500.22,155.47 501.3,153.6 503.46,153.6" fill="#7e1123"/><polygon points="506.21,155.01 505.13,156.89 502.97,156.89 501.89,155.01 502.97,153.14 505.13,153.14" fill="#7e1123"/><polygon points="496.37,153.43 495.29,155.3 493.13,155.3 492.05,153.43 493.13,151.56 495.29,151.56" fill="#7e1123"/><polygon points="498.01,152.82 496.93,154.69 494.77,154.69 493.69,152.82 494.77,150.95 496.93,150.95" fill="#7e1123"/><polygon points="499.93,153.19 498.85,155.06 496.69,155.06 495.61,153.19 496.69,151.32 498.85,151.32" fill="#7e1123"/><polygon points="502.09,152.96 501.01,154.83 498.85,154.83 497.77,152.96 498.85,151.09 501.01,151.09" fill="#7e1123"/><polygon points="504.47,153.36 503.39,155.23 501.23,155.23 500.15,153.36 501.23,151.49 503.39,151.49" fill="#7e1123"/><polygon points="498.03,150.91 496.95,152.78 494.79,152.78 493.71,150.91 494.79,149.04 496.95,149.04" fill="#7e1123"/><polygon points="500.36,151.06 499.28,152.93 497.12,152.93 496.04,151.06 497.12,149.19 499.28,149.19" fill="#7e1123"/><polygon points="502.69,151.21 501.61,153.08 499.45,153.08 498.37,151.21 499.45,149.34 501.61,149.34" fill="#7e1123"/><polygon points="498.85,149.32 497.77,151.19 495.61,151.19 494.53,149.32 495.61,147.45 497.77,147.45" fill="#7e1123"/><polygon points="501.59,149.12 500.51,150.99 498.35,150.99 497.27,149.12 498.35,147.24 500.51,147.24" fill="#7e1123"/><polygon points="499,147.36 497.92,149.23 495.76,149.23 494.68,147.36 495.76,145.49 497.92,145.49" fill="#7e1123"/><polygon points="501.32,147.02 500.24,148.89 498.08,148.89 497,147.02 498.08,145.14 500.24,145.14" fill="#7e1123"/><polygon points="499.39,145.19 498.31,147.06 496.15,147.06 495.07,145.19 496.15,143.32 498.31,143.32" fill="#7e1123"/><polygon points="501.05,145.38 499.97,147.25 497.81,147.25 496.73,145.38 497.81,143.51 499.97,143.51" fill="#7e1123"/><polygon points="500.29,143.48 499.21,145.35 497.05,145.35 495.97,143.48 497.05,141.61 499.21,141.61" fill="#7e1123"/><polygon points="500.14,140.89 499.06,142.76 496.9,142.76 495.82,140.89 496.9,139.02 499.06,139.02" fill="#7e1123"/><polygon points="500.48,112.5 499.24,114.65 496.76,114.65 495.52,112.5 496.76,110.35 499.24,110.35" fill="#7e1123"/><polygon points="500.48,116.5 499.24,118.65 496.76,118.65 495.52,116.5 496.76,114.35 499.24,114.35" fill="#7e1123"/><polygon points="500.48,120 499.24,122.15 496.76,122.15 495.52,120 496.76,117.85 499.24,117.85" fill="#7e1123"/><polygon points="501.41,136 500,138.43 497.2,138.43 495.79,136 497.2,133.57 500,133.57" fill="#7e1123"/><polygon points="499.38,145 498.19,147.06 495.81,147.06 494.62,145 495.81,142.94 498.19,142.94" fill="#7e1123"/><polygon points="502.38,147 501.19,149.06 498.81,149.06 497.62,147 498.81,144.94 501.19,144.94" fill="#7e1123"/>
<rect x="490.7" y="156" width="14.6" height="7" fill="none" stroke="#fff" stroke-width="1.1"/>
<line x1="498" y1="144.5" x2="498" y2="156" stroke="#7e1123" stroke-width="1.1"/>
<line x1="491.5" y1="144.5" x2="504.5" y2="144.5" stroke="#7e1123" stroke-width="1.3"/>
<line x1="356.8" y1="57" x2="356.8" y2="163.9" stroke="#000" stroke-width="1.3"/>
<line x1="356.2" y1="163.3" x2="515.5" y2="163.3" stroke="#000" stroke-width="1.4"/>
<text x="373" y="177" text-anchor="middle">WT</text>
<text x="398" y="177" text-anchor="middle">KO</text>
<text x="423" y="177" text-anchor="middle">WT</text>
<text x="448.5" y="177" text-anchor="middle">KO</text>
<text x="473" y="176" text-anchor="middle">WT</text>
<text x="498" y="177" text-anchor="middle">KO</text>
<line x1="365" y1="179.6" x2="406" y2="179.6" stroke="#000" stroke-width="1"/>
<line x1="413" y1="179.6" x2="456.8" y2="179.6" stroke="#000" stroke-width="1"/>
<line x1="465" y1="179.2" x2="507.5" y2="179.2" stroke="#000" stroke-width="1"/>
<text x="383.5" y="190.5" text-anchor="middle">CT</text>
<text x="435" y="190.5" text-anchor="middle">HBSS 1 h</text>
<text x="486" y="190.5" text-anchor="middle">HBSS 3 h</text>
<path d="M369 69.5 V63.7 H471.5 V69.5" fill="none" stroke="#000" stroke-width="1.1"/>
<text x="420.25" y="65.1" text-anchor="middle" style="font-size:9.5px">***</text>
<path d="M473.7 69.5 V63.7 H501.5 V69.5" fill="none" stroke="#000" stroke-width="1.1"/>
<text x="487.6" y="65.1" text-anchor="middle" style="font-size:9.5px">***</text>
<path d="M370.5 83.8 V78 H421.5 V83.8" fill="none" stroke="#000" stroke-width="1.1"/>
<text x="396" y="79.4" text-anchor="middle" style="font-size:9.5px">**</text>
<path d="M423.2 95.5 V89.5 H451 V95.5" fill="none" stroke="#000" stroke-width="1.1"/>
<text x="437.1" y="90.9" text-anchor="middle" style="font-size:9.5px">**</text>
<text x="530.5" y="16" font-weight="bold" style="font-size:18.5px;fill:#000">c</text>
<text x="541" y="113.5" text-anchor="middle" transform="rotate(-90 541 113.5)">Tail Moment</text>
<line x1="563" y1="165.8" x2="567.5" y2="165.8" stroke="#000" stroke-width="1.2"/>
<text x="562.7" y="169.5" text-anchor="end">0</text>
<line x1="563" y1="138.75" x2="567.5" y2="138.75" stroke="#000" stroke-width="1.2"/>
<text x="562.7" y="142.45" text-anchor="end">10</text>
<line x1="563" y1="111.7" x2="567.5" y2="111.7" stroke="#000" stroke-width="1.2"/>
<text x="562.7" y="115.4" text-anchor="end">20</text>
<line x1="563" y1="84.65" x2="567.5" y2="84.65" stroke="#000" stroke-width="1.2"/>
<text x="562.7" y="88.35" text-anchor="end">30</text>
<line x1="563" y1="57.6" x2="567.5" y2="57.6" stroke="#000" stroke-width="1.2"/>
<text x="562.7" y="61.3" text-anchor="end">40</text>
<circle cx="578.41" cy="163.41" r="2" fill="#000"/><circle cx="580.78" cy="163.25" r="2" fill="#000"/><circle cx="583.01" cy="163.26" r="2" fill="#000"/><circle cx="584.85" cy="163.63" r="2" fill="#000"/><circle cx="587.67" cy="163.48" r="2" fill="#000"/><circle cx="589.91" cy="163.91" r="2" fill="#000"/><circle cx="578.31" cy="161.8" r="2" fill="#000"/><circle cx="580.63" cy="161.54" r="2" fill="#000"/><circle cx="582.57" cy="161.83" r="2" fill="#000"/><circle cx="585" cy="161.27" r="2" fill="#000"/><circle cx="587.56" cy="161.87" r="2" fill="#000"/><circle cx="589.84" cy="161.89" r="2" fill="#000"/><circle cx="580.01" cy="159.9" r="2" fill="#000"/><circle cx="581.67" cy="159.3" r="2" fill="#000"/><circle cx="583.83" cy="159.83" r="2" fill="#000"/><circle cx="586.32" cy="159.3" r="2" fill="#000"/><circle cx="587.93" cy="159.23" r="2" fill="#000"/><circle cx="582.72" cy="157.46" r="2" fill="#000"/><circle cx="585.12" cy="157.25" r="2" fill="#000"/><circle cx="584.11" cy="155.23" r="2" fill="#000"/><circle cx="584.24" cy="153.76" r="2" fill="#000"/><circle cx="583.92" cy="151.87" r="2" fill="#000"/><circle cx="583.79" cy="149.95" r="2" fill="#000"/><circle cx="583.88" cy="147.52" r="2" fill="#000"/><circle cx="584.5" cy="129" r="2.5" fill="#000"/>
<line x1="584" y1="158" x2="584" y2="164" stroke="#000" stroke-width="1.1"/>
<line x1="577" y1="158" x2="591" y2="158" stroke="#000" stroke-width="1.3"/>
<rect x="602.2" y="161.62" width="3.68" height="3.68" fill="#ff0d0d"/><rect x="604.66" y="161.91" width="3.68" height="3.68" fill="#ff0d0d"/><rect x="607.22" y="161.78" width="3.68" height="3.68" fill="#ff0d0d"/><rect x="609.18" y="161.78" width="3.68" height="3.68" fill="#ff0d0d"/><rect x="611.68" y="162.11" width="3.68" height="3.68" fill="#ff0d0d"/><rect x="614.11" y="162.14" width="3.68" height="3.68" fill="#ff0d0d"/><rect x="602.64" y="159.48" width="3.68" height="3.68" fill="#ff0d0d"/><rect x="604.47" y="159.53" width="3.68" height="3.68" fill="#ff0d0d"/><rect x="606.95" y="159.7" width="3.68" height="3.68" fill="#ff0d0d"/><rect x="609" y="160.12" width="3.68" height="3.68" fill="#ff0d0d"/><rect x="611.37" y="159.4" width="3.68" height="3.68" fill="#ff0d0d"/><rect x="613.64" y="159.56" width="3.68" height="3.68" fill="#ff0d0d"/><rect x="604.36" y="157.41" width="3.68" height="3.68" fill="#ff0d0d"/><rect x="606.04" y="157.88" width="3.68" height="3.68" fill="#ff0d0d"/><rect x="608.17" y="157.54" width="3.68" height="3.68" fill="#ff0d0d"/><rect x="609.95" y="157.56" width="3.68" height="3.68" fill="#ff0d0d"/><rect x="612.4" y="157.47" width="3.68" height="3.68" fill="#ff0d0d"/><rect x="606.58" y="155.4" width="3.68" height="3.68" fill="#ff0d0d"/><rect x="609.21" y="155.89" width="3.68" height="3.68" fill="#ff0d0d"/><rect x="608.23" y="153.43" width="3.68" height="3.68" fill="#ff0d0d"/><rect x="608.06" y="151.42" width="3.68" height="3.68" fill="#ff0d0d"/><rect x="608.19" y="149.91" width="3.68" height="3.68" fill="#ff0d0d"/><rect x="608.05" y="148.02" width="3.68" height="3.68" fill="#ff0d0d"/><rect x="607.91" y="146.04" width="3.68" height="3.68" fill="#ff0d0d"/><rect x="608.27" y="143.36" width="3.68" height="3.68" fill="#ff0d0d"/><rect x="607.96" y="142.12" width="3.68" height="3.68" fill="#ff0d0d"/><rect x="608.45" y="139.73" width="3.68" height="3.68" fill="#ff0d0d"/><rect x="608.1" y="137.97" width="3.68" height="3.68" fill="#ff0d0d"/><rect x="608.22" y="135.5" width="3.68" height="3.68" fill="#ff0d0d"/><rect x="608.13" y="133.82" width="3.68" height="3.68" fill="#ff0d0d"/><rect x="607.89" y="131.43" width="3.68" height="3.68" fill="#ff0d0d"/><rect x="607.88" y="129.77" width="3.68" height="3.68" fill="#ff0d0d"/><rect x="608.36" y="128.06" width="3.68" height="3.68" fill="#ff0d0d"/>
<line x1="610" y1="155" x2="610" y2="161" stroke="#ff0d0d" stroke-width="1.1"/>
<line x1="603" y1="155" x2="617" y2="155" stroke="#ff0d0d" stroke-width="1.3"/>
<polygon points="630.17,160.94 632.47,165.08 627.87,165.08" fill="#878796"/><polygon points="632.38,161.07 634.68,165.21 630.08,165.21" fill="#878796"/><polygon points="634.33,161.35 636.63,165.49 632.03,165.49" fill="#878796"/><polygon points="636.62,161.02 638.92,165.16 634.32,165.16" fill="#878796"/><polygon points="638.98,161.34 641.28,165.48 636.68,165.48" fill="#878796"/><polygon points="641.67,161.02 643.97,165.16 639.37,165.16" fill="#878796"/><polygon points="630.32,159.34 632.62,163.48 628.02,163.48" fill="#878796"/><polygon points="632.29,159.12 634.59,163.26 629.99,163.26" fill="#878796"/><polygon points="634.55,159.47 636.85,163.61 632.25,163.61" fill="#878796"/><polygon points="636.78,159.58 639.08,163.72 634.48,163.72" fill="#878796"/><polygon points="639.03,158.91 641.33,163.05 636.73,163.05" fill="#878796"/><polygon points="641.64,159.2 643.94,163.34 639.34,163.34" fill="#878796"/><polygon points="631.64,157.43 633.94,161.57 629.34,161.57" fill="#878796"/><polygon points="633.43,157.48 635.73,161.62 631.13,161.62" fill="#878796"/><polygon points="635.87,157.01 638.17,161.15 633.57,161.15" fill="#878796"/><polygon points="637.65,157.07 639.95,161.21 635.35,161.21" fill="#878796"/><polygon points="639.92,157.14 642.22,161.28 637.62,161.28" fill="#878796"/><polygon points="634.5,155.09 636.8,159.23 632.2,159.23" fill="#878796"/><polygon points="636.92,155.14 639.22,159.28 634.62,159.28" fill="#878796"/><polygon points="635.57,153.31 637.87,157.45 633.27,157.45" fill="#878796"/><polygon points="635.86,151.15 638.16,155.29 633.56,155.29" fill="#878796"/><polygon points="635.58,148.94 637.88,153.08 633.28,153.08" fill="#878796"/><polygon points="635.79,147.24 638.09,151.38 633.49,151.38" fill="#878796"/><polygon points="635.41,145.26 637.71,149.4 633.11,149.4" fill="#878796"/><polygon points="635.55,143.16 637.85,147.3 633.25,147.3" fill="#878796"/><polygon points="635.68,141.05 637.98,145.19 633.38,145.19" fill="#878796"/><polygon points="635.79,139.06 638.09,143.2 633.49,143.2" fill="#878796"/><polygon points="635.61,137.18 637.91,141.32 633.31,141.32" fill="#878796"/><polygon points="635.84,135.04 638.14,139.18 633.54,139.18" fill="#878796"/><polygon points="635.61,133.03 637.91,137.17 633.31,137.17" fill="#878796"/><polygon points="635.92,131.15 638.22,135.29 633.62,135.29" fill="#878796"/><polygon points="635.7,63.47 638.23,68.02 633.17,68.02" fill="#878796"/><polygon points="635.7,96.97 638.23,101.52 633.17,101.52" fill="#878796"/><polygon points="635.7,104.47 638.23,109.02 633.17,109.02" fill="#878796"/><polygon points="635.7,111.17 638.23,115.72 633.17,115.72" fill="#878796"/><polygon points="635.7,119.97 638.23,124.52 633.17,124.52" fill="#878796"/><polygon points="635.7,127.47 638.23,132.02 633.17,132.02" fill="#878796"/>
<rect x="627.7" y="155" width="16" height="10.5" fill="none" stroke="#fff" stroke-width="1.1"/>
<line x1="635.7" y1="126" x2="635.7" y2="155" stroke="#878796" stroke-width="1.1"/>
<line x1="628.7" y1="126" x2="642.7" y2="126" stroke="#878796" stroke-width="1.3"/>
<polygon points="655.62,165.53 657.92,161.39 653.32,161.39" fill="#f5a3a7"/><polygon points="657.61,165.88 659.91,161.74 655.31,161.74" fill="#f5a3a7"/><polygon points="659.67,165.63 661.97,161.49 657.37,161.49" fill="#f5a3a7"/><polygon points="662.4,165.92 664.7,161.78 660.1,161.78" fill="#f5a3a7"/><polygon points="664.51,165.72 666.81,161.58 662.21,161.58" fill="#f5a3a7"/><polygon points="666.8,166.16 669.1,162.02 664.5,162.02" fill="#f5a3a7"/><polygon points="655.5,163.84 657.8,159.7 653.2,159.7" fill="#f5a3a7"/><polygon points="657.7,163.96 660,159.82 655.4,159.82" fill="#f5a3a7"/><polygon points="659.94,163.68 662.24,159.54 657.64,159.54" fill="#f5a3a7"/><polygon points="662.22,163.72 664.52,159.58 659.92,159.58" fill="#f5a3a7"/><polygon points="664.12,164.17 666.42,160.03 661.82,160.03" fill="#f5a3a7"/><polygon points="666.63,163.78 668.93,159.64 664.33,159.64" fill="#f5a3a7"/><polygon points="656.77,161.75 659.07,157.61 654.47,157.61" fill="#f5a3a7"/><polygon points="659.05,162.27 661.35,158.13 656.75,158.13" fill="#f5a3a7"/><polygon points="660.98,162.12 663.28,157.98 658.68,157.98" fill="#f5a3a7"/><polygon points="662.76,162.19 665.06,158.05 660.46,158.05" fill="#f5a3a7"/><polygon points="664.95,162.15 667.25,158.01 662.65,158.01" fill="#f5a3a7"/><polygon points="659.52,160.27 661.82,156.13 657.22,156.13" fill="#f5a3a7"/><polygon points="662.28,160 664.58,155.86 659.98,155.86" fill="#f5a3a7"/><polygon points="661.07,157.83 663.37,153.69 658.77,153.69" fill="#f5a3a7"/><polygon points="660.84,155.58 663.14,151.44 658.54,151.44" fill="#f5a3a7"/><polygon points="660.7,153.98 663,149.84 658.4,149.84" fill="#f5a3a7"/><polygon points="660.87,151.97 663.17,147.83 658.57,147.83" fill="#f5a3a7"/><polygon points="660.77,149.63 663.07,145.49 658.47,145.49" fill="#f5a3a7"/><polygon points="660.92,148.27 663.22,144.13 658.62,144.13" fill="#f5a3a7"/><polygon points="661.07,146.22 663.37,142.08 658.77,142.08" fill="#f5a3a7"/><polygon points="661.03,144.03 663.33,139.89 658.73,139.89" fill="#f5a3a7"/><polygon points="661.05,141.53 663.35,137.39 658.75,137.39" fill="#f5a3a7"/><polygon points="661,100.53 663.53,95.98 658.47,95.98" fill="#f5a3a7"/><polygon points="661,122.53 663.53,117.98 658.47,117.98" fill="#f5a3a7"/><polygon points="661,128.23 663.53,123.68 658.47,123.68" fill="#f5a3a7"/><polygon points="661,136.53 663.53,131.98 658.47,131.98" fill="#f5a3a7"/>
<rect x="653" y="160" width="16" height="5.5" fill="none" stroke="#fff" stroke-width="1.1"/>
<line x1="661" y1="150.7" x2="661" y2="160" stroke="#f5a3a7" stroke-width="1.1"/>
<line x1="654" y1="150.7" x2="668" y2="150.7" stroke="#f5a3a7" stroke-width="1.3"/>
<polygon points="683.68,163.66 682.6,165.54 680.44,165.54 679.36,163.66 680.44,161.79 682.6,161.79" fill="#5e5214"/><polygon points="685.95,163.49 684.87,165.36 682.71,165.36 681.63,163.49 682.71,161.62 684.87,161.62" fill="#5e5214"/><polygon points="687.95,163.89 686.87,165.76 684.71,165.76 683.63,163.89 684.71,162.02 686.87,162.02" fill="#5e5214"/><polygon points="690.35,163.55 689.27,165.42 687.11,165.42 686.03,163.55 687.11,161.68 689.27,161.68" fill="#5e5214"/><polygon points="692.83,163.23 691.75,165.1 689.59,165.1 688.51,163.23 689.59,161.35 691.75,161.35" fill="#5e5214"/><polygon points="694.89,163.72 693.81,165.59 691.65,165.59 690.57,163.72 691.65,161.85 693.81,161.85" fill="#5e5214"/><polygon points="683.73,162 682.65,163.87 680.49,163.87 679.41,162 680.49,160.13 682.65,160.13" fill="#5e5214"/><polygon points="685.52,161.55 684.44,163.42 682.28,163.42 681.2,161.55 682.28,159.68 684.44,159.68" fill="#5e5214"/><polygon points="688.1,161.89 687.02,163.76 684.86,163.76 683.78,161.89 684.86,160.02 687.02,160.02" fill="#5e5214"/><polygon points="690.37,161.29 689.29,163.16 687.13,163.16 686.05,161.29 687.13,159.42 689.29,159.42" fill="#5e5214"/><polygon points="692.49,161.65 691.41,163.53 689.25,163.53 688.17,161.65 689.25,159.78 691.41,159.78" fill="#5e5214"/><polygon points="694.66,161.77 693.58,163.64 691.42,163.64 690.34,161.77 691.42,159.9 693.58,159.9" fill="#5e5214"/><polygon points="685.39,159.7 684.31,161.57 682.15,161.57 681.07,159.7 682.15,157.83 684.31,157.83" fill="#5e5214"/><polygon points="687.41,159.27 686.33,161.14 684.17,161.14 683.09,159.27 684.17,157.4 686.33,157.4" fill="#5e5214"/><polygon points="689.22,159.79 688.14,161.66 685.98,161.66 684.9,159.79 685.98,157.92 688.14,157.92" fill="#5e5214"/><polygon points="691.48,159.6 690.4,161.47 688.24,161.47 687.16,159.6 688.24,157.73 690.4,157.73" fill="#5e5214"/><polygon points="693.17,159.74 692.09,161.62 689.93,161.62 688.85,159.74 689.93,157.87 692.09,157.87" fill="#5e5214"/><polygon points="688.15,157.61 687.07,159.48 684.91,159.48 683.83,157.61 684.91,155.74 687.07,155.74" fill="#5e5214"/><polygon points="690.33,157.62 689.25,159.49 687.09,159.49 686.01,157.62 687.09,155.75 689.25,155.75" fill="#5e5214"/><polygon points="688.93,155.5 687.85,157.37 685.69,157.37 684.61,155.5 685.69,153.63 687.85,153.63" fill="#5e5214"/><polygon points="689.13,153.77 688.05,155.64 685.89,155.64 684.81,153.77 685.89,151.89 688.05,151.89" fill="#5e5214"/><polygon points="689.33,151.34 688.25,153.21 686.09,153.21 685.01,151.34 686.09,149.47 688.25,149.47" fill="#5e5214"/><polygon points="688.87,149.57 687.79,151.44 685.63,151.44 684.55,149.57 685.63,147.7 687.79,147.7" fill="#5e5214"/><polygon points="689.02,147.25 687.94,149.12 685.78,149.12 684.7,147.25 685.78,145.38 687.94,145.38" fill="#5e5214"/><polygon points="689.33,145.8 688.25,147.67 686.09,147.67 685.01,145.8 686.09,143.93 688.25,143.93" fill="#5e5214"/><polygon points="689.02,143.88 687.94,145.75 685.78,145.75 684.7,143.88 685.78,142.01 687.94,142.01" fill="#5e5214"/><polygon points="689.45,141.77 688.37,143.64 686.21,143.64 685.13,141.77 686.21,139.89 688.37,139.89" fill="#5e5214"/><polygon points="689.22,139.62 688.14,141.49 685.98,141.49 684.9,139.62 685.98,137.75 688.14,137.75" fill="#5e5214"/><polygon points="689.25,137.52 688.17,139.39 686.01,139.39 684.93,137.52 686.01,135.65 688.17,135.65" fill="#5e5214"/><polygon points="689.31,135.91 688.23,137.78 686.07,137.78 684.99,135.91 686.07,134.03 688.23,134.03" fill="#5e5214"/><polygon points="689.32,133.76 688.24,135.63 686.08,135.63 685,133.76 686.08,131.89 688.24,131.89" fill="#5e5214"/><polygon points="689.48,67.4 688.24,69.55 685.76,69.55 684.52,67.4 685.76,65.25 688.24,65.25" fill="#5e5214"/><polygon points="689.48,71 688.24,73.15 685.76,73.15 684.52,71 685.76,68.85 688.24,68.85" fill="#5e5214"/><polygon points="689.92,87 688.46,89.53 685.54,89.53 684.08,87 685.54,84.47 688.46,84.47" fill="#5e5214"/><polygon points="689.59,101 688.3,103.24 685.7,103.24 684.41,101 685.7,98.76 688.3,98.76" fill="#5e5214"/><polygon points="689.59,106 688.3,108.24 685.7,108.24 684.41,106 685.7,103.76 688.3,103.76" fill="#5e5214"/><polygon points="689.59,112 688.3,114.24 685.7,114.24 684.41,112 685.7,109.76 688.3,109.76" fill="#5e5214"/><polygon points="689.59,118 688.3,120.24 685.7,120.24 684.41,118 685.7,115.76 688.3,115.76" fill="#5e5214"/><polygon points="689.48,123 688.24,125.15 685.76,125.15 684.52,123 685.76,120.85 688.24,120.85" fill="#5e5214"/>
<rect x="679" y="151.6" width="16" height="13.9" fill="none" stroke="#fff" stroke-width="1.1"/>
<line x1="687" y1="129" x2="687" y2="151.6" stroke="#5e5214" stroke-width="1.1"/>
<line x1="680" y1="129" x2="694" y2="129" stroke="#5e5214" stroke-width="1.3"/>
<polygon points="709.21,163.73 708.13,165.6 705.97,165.6 704.89,163.73 705.97,161.86 708.13,161.86" fill="#7e1123"/><polygon points="711.34,163.58 710.26,165.45 708.1,165.45 707.02,163.58 708.1,161.71 710.26,161.71" fill="#7e1123"/><polygon points="713.71,163.71 712.63,165.58 710.47,165.58 709.39,163.71 710.47,161.84 712.63,161.84" fill="#7e1123"/><polygon points="716.14,163.53 715.06,165.4 712.9,165.4 711.82,163.53 712.9,161.66 715.06,161.66" fill="#7e1123"/><polygon points="717.98,163.8 716.9,165.67 714.74,165.67 713.66,163.8 714.74,161.93 716.9,161.93" fill="#7e1123"/><polygon points="720.5,163.27 719.42,165.14 717.26,165.14 716.18,163.27 717.26,161.4 719.42,161.4" fill="#7e1123"/><polygon points="709.43,161.56 708.35,163.43 706.19,163.43 705.11,161.56 706.19,159.69 708.35,159.69" fill="#7e1123"/><polygon points="711.17,161.38 710.09,163.25 707.93,163.25 706.85,161.38 707.93,159.51 710.09,159.51" fill="#7e1123"/><polygon points="713.68,161.54 712.6,163.41 710.44,163.41 709.36,161.54 710.44,159.67 712.6,159.67" fill="#7e1123"/><polygon points="716.12,161.49 715.04,163.36 712.88,163.36 711.8,161.49 712.88,159.62 715.04,159.62" fill="#7e1123"/><polygon points="718.25,161.27 717.17,163.14 715.01,163.14 713.93,161.27 715.01,159.4 717.17,159.4" fill="#7e1123"/><polygon points="720.46,161.69 719.38,163.56 717.22,163.56 716.14,161.69 717.22,159.82 719.38,159.82" fill="#7e1123"/><polygon points="711.01,159.84 709.93,161.71 707.77,161.71 706.69,159.84 707.77,157.97 709.93,157.97" fill="#7e1123"/><polygon points="712.71,159.34 711.63,161.21 709.47,161.21 708.39,159.34 709.47,157.47 711.63,157.47" fill="#7e1123"/><polygon points="714.6,159.33 713.52,161.2 711.36,161.2 710.28,159.33 711.36,157.46 713.52,157.46" fill="#7e1123"/><polygon points="717.01,159.65 715.93,161.52 713.77,161.52 712.69,159.65 713.77,157.78 715.93,157.78" fill="#7e1123"/><polygon points="718.79,159.38 717.71,161.25 715.55,161.25 714.47,159.38 715.55,157.5 717.71,157.5" fill="#7e1123"/><polygon points="713.81,157.89 712.73,159.76 710.57,159.76 709.49,157.89 710.57,156.02 712.73,156.02" fill="#7e1123"/><polygon points="716.15,157.56 715.07,159.43 712.91,159.43 711.83,157.56 712.91,155.69 715.07,155.69" fill="#7e1123"/><polygon points="714.86,155.74 713.78,157.61 711.62,157.61 710.54,155.74 711.62,153.86 713.78,153.86" fill="#7e1123"/><polygon points="714.65,153.53 713.57,155.4 711.41,155.4 710.33,153.53 711.41,151.66 713.57,151.66" fill="#7e1123"/><polygon points="715.05,151.95 713.97,153.82 711.81,153.82 710.73,151.95 711.81,150.07 713.97,150.07" fill="#7e1123"/><polygon points="714.7,149.34 713.62,151.21 711.46,151.21 710.38,149.34 711.46,147.47 713.62,147.47" fill="#7e1123"/><polygon points="715.04,147.47 713.96,149.34 711.8,149.34 710.72,147.47 711.8,145.6 713.96,145.6" fill="#7e1123"/><polygon points="714.58,145.42 713.5,147.29 711.34,147.29 710.26,145.42 711.34,143.55 713.5,143.55" fill="#7e1123"/><polygon points="715.29,127.5 714,129.74 711.4,129.74 710.11,127.5 711.4,125.26 714,125.26" fill="#7e1123"/>
<rect x="704.7" y="161" width="16" height="4.5" fill="none" stroke="#fff" stroke-width="1.1"/>
<line x1="712.7" y1="157" x2="712.7" y2="161" stroke="#7e1123" stroke-width="1.1"/>
<line x1="705.7" y1="157" x2="719.7" y2="157" stroke="#7e1123" stroke-width="1.3"/>
<line x1="567.5" y1="57" x2="567.5" y2="166.4" stroke="#000" stroke-width="1.3"/>
<line x1="566.9" y1="165.8" x2="730" y2="165.8" stroke="#000" stroke-width="1.4"/>
<text x="584" y="181.2" text-anchor="middle">WT</text>
<text x="610" y="181.2" text-anchor="middle">KO</text>
<text x="635.7" y="181.2" text-anchor="middle">WT</text>
<text x="661" y="181.2" text-anchor="middle">KO</text>
<text x="687" y="181.2" text-anchor="middle">WT</text>
<text x="712.7" y="181.2" text-anchor="middle">KO</text>
<line x1="576" y1="185.5" x2="619.5" y2="185.5" stroke="#000" stroke-width="1"/>
<line x1="627.5" y1="185.5" x2="672.5" y2="185.5" stroke="#000" stroke-width="1"/>
<line x1="680.4" y1="185.5" x2="723" y2="185.5" stroke="#000" stroke-width="1"/>
<text x="598.7" y="196.2" text-anchor="middle">CT</text>
<text x="649.5" y="196.2" text-anchor="middle">HBSS 1 h</text>
<text x="700.5" y="196.2" text-anchor="middle">HBSS 3 h</text>
<path d="M583 39 V32.5 H685.5 V39" fill="none" stroke="#000" stroke-width="1.1"/>
<text x="634.25" y="33.9" text-anchor="middle" style="font-size:9.5px">***</text>
<path d="M688 38.8 V32.5 H715.8 V38.8" fill="none" stroke="#000" stroke-width="1.1"/>
<text x="701.9" y="33.9" text-anchor="middle" style="font-size:9.5px">***</text>
<path d="M583 53 V46.7 H635 V53" fill="none" stroke="#000" stroke-width="1.1"/>
<text x="609" y="48.1" text-anchor="middle" style="font-size:9.5px">**</text>
<path d="M637.5 53 V46.7 H665.5 V53" fill="none" stroke="#000" stroke-width="1.1"/>
<text x="651.5" y="48.1" text-anchor="middle" style="font-size:9.5px">**</text>
<text x="0" y="247" font-weight="bold" style="font-size:18.5px;fill:#000">d</text>
<text x="106" y="250.6" text-anchor="middle">WT</text>
<line x1="37.5" y1="253.5" x2="172.5" y2="253.5" stroke="#000" stroke-width="1"/>
<text x="245" y="250.6" text-anchor="middle">KO</text>
<line x1="176.5" y1="253.5" x2="312.5" y2="253.5" stroke="#000" stroke-width="1"/>
<text x="393.7" y="250.6" text-anchor="middle">WT</text>
<line x1="324.5" y1="253.5" x2="459" y2="253.5" stroke="#000" stroke-width="1"/>
<text x="533" y="250.6" text-anchor="middle">KO</text>
<line x1="463" y1="253.5" x2="600.5" y2="253.5" stroke="#000" stroke-width="1"/>
<text x="68.7" y="264.5" text-anchor="middle">Merge</text>
<text x="137.2" y="264.5" text-anchor="middle">p-H2A.X</text>
<text x="208.7" y="264.5" text-anchor="middle">Merge</text>
<text x="276.8" y="264.5" text-anchor="middle">p-H2A.X</text>
<text x="356.2" y="264.5" text-anchor="middle">Merge</text>
<text x="424.6" y="264.5" text-anchor="middle">p-H2A.X</text>
<text x="496.2" y="264.5" text-anchor="middle">Merge</text>
<text x="564.6" y="264.5" text-anchor="middle">p-H2A.X</text>
<line x1="23" y1="268" x2="23" y2="402.5" stroke="#000" stroke-width="1"/>
<text x="16" y="343" text-anchor="middle" transform="rotate(-90 16 343)" style="font-size:10.6px">HBSS treatment time&#160;&#160;(h)</text>
<text x="30.5" y="306.3" text-anchor="middle">0</text>
<text x="30.5" y="375.5" text-anchor="middle">1</text>
<text x="318.3" y="305" text-anchor="middle">3</text>
<text x="318.3" y="375.5" text-anchor="middle">6</text>
<rect x="35" y="268" width="67.8" height="67.5" fill="#010002"/>
<rect x="35" y="337.6" width="67.8" height="67" fill="#010002"/>
<rect x="105" y="268" width="67.8" height="67.5" fill="#060000"/>
<rect x="105" y="337.6" width="67.8" height="67" fill="#060000"/>
<rect x="174.5" y="268" width="67.8" height="67.5" fill="#010002"/>
<rect x="174.5" y="337.6" width="67.8" height="67" fill="#010002"/>
<rect x="244" y="268" width="67.8" height="67.5" fill="#060000"/>
<rect x="244" y="337.6" width="67.8" height="67" fill="#060000"/>
<rect x="325.5" y="268" width="67.8" height="67.5" fill="#010002"/>
<rect x="325.5" y="337.6" width="67.8" height="67" fill="#010002"/>
<rect x="395" y="268" width="67.8" height="67.5" fill="#060000"/>
<rect x="395" y="337.6" width="67.8" height="67" fill="#060000"/>
<rect x="464" y="268" width="67.8" height="67.5" fill="#010002"/>
<rect x="464" y="337.6" width="67.8" height="67" fill="#010002"/>
<rect x="534.2" y="268" width="67.8" height="67.5" fill="#060000"/>
<rect x="534.2" y="337.6" width="67.8" height="67" fill="#060000"/>
<g clip-path="url(#cd000)"><g filter="url(#mot)"><g transform="rotate(0 55 281)"><ellipse cx="55" cy="281" rx="12" ry="12" fill="#0d0d96" filter="url(#b06)"/><ellipse cx="55" cy="281" rx="9.8" ry="9.8" fill="#08086c" opacity="0.9" filter="url(#b15)"/><ellipse cx="49.88" cy="282.59" rx="3.85" ry="2.35" fill="#010126" opacity="0.62" filter="url(#b1)"/><ellipse cx="49.44" cy="280.73" rx="1.85" ry="1.92" fill="#0d0d96" opacity="0.6" filter="url(#b1)"/><ellipse cx="50.13" cy="275.84" rx="2.19" ry="2.09" fill="#010126" opacity="0.62" filter="url(#b1)"/><ellipse cx="61.08" cy="284.89" rx="2.82" ry="1.26" fill="#0d0d96" opacity="0.6" filter="url(#b1)"/><ellipse cx="63.32" cy="280.04" rx="3.31" ry="2.58" fill="#010126" opacity="0.62" filter="url(#b1)"/><ellipse cx="55.72" cy="282.1" rx="2.5" ry="1.28" fill="#0d0d96" opacity="0.6" filter="url(#b1)"/><ellipse cx="56.1" cy="283.79" rx="2.06" ry="2.34" fill="#010126" opacity="0.62" filter="url(#b1)"/><ellipse cx="48.05" cy="283.74" rx="2.49" ry="2.1" fill="#0d0d96" opacity="0.6" filter="url(#b1)"/><ellipse cx="48.87" cy="281.02" rx="2.91" ry="2.05" fill="#010126" opacity="0.62" filter="url(#b1)"/><ellipse cx="63.61" cy="280.85" rx="3.1" ry="2.19" fill="#0d0d96" opacity="0.6" filter="url(#b1)"/><ellipse cx="53.84" cy="283.67" rx="2.58" ry="1.71" fill="#010126" opacity="0.62" filter="url(#b1)"/><ellipse cx="55.42" cy="276.84" rx="3.11" ry="1.74" fill="#0d0d96" opacity="0.6" filter="url(#b1)"/></g><g transform="rotate(-15 89 292.5)"><ellipse cx="89" cy="292.5" rx="13" ry="15.5" fill="#0d0d96" filter="url(#b06)"/><ellipse cx="89" cy="292.5" rx="10.8" ry="13.3" fill="#08086c" opacity="0.9" filter="url(#b15)"/><ellipse cx="96.84" cy="289.95" rx="2" ry="1.94" fill="#010126" opacity="0.62" filter="url(#b1)"/><ellipse cx="93.29" cy="289.24" rx="3.36" ry="1.76" fill="#0d0d96" opacity="0.6" filter="url(#b1)"/><ellipse cx="94.71" cy="295.86" rx="3.56" ry="2.03" fill="#010126" opacity="0.62" filter="url(#b1)"/><ellipse cx="92.4" cy="294.97" rx="3.33" ry="2.26" fill="#0d0d96" opacity="0.6" filter="url(#b1)"/><ellipse cx="91.42" cy="295.14" rx="2.2" ry="1.7" fill="#010126" opacity="0.62" filter="url(#b1)"/><ellipse cx="89.79" cy="289.38" rx="2.56" ry="1.83" fill="#0d0d96" opacity="0.6" filter="url(#b1)"/><ellipse cx="91.63" cy="300.49" rx="2.26" ry="2.63" fill="#010126" opacity="0.62" filter="url(#b1)"/><ellipse cx="92.49" cy="296.24" rx="1.9" ry="1.58" fill="#0d0d96" opacity="0.6" filter="url(#b1)"/><ellipse cx="96.64" cy="290.79" rx="2.61" ry="3.02" fill="#010126" opacity="0.62" filter="url(#b1)"/><ellipse cx="90.1" cy="297.68" rx="3.12" ry="2.1" fill="#0d0d96" opacity="0.6" filter="url(#b1)"/><ellipse cx="96.49" cy="299.02" rx="2.43" ry="2.01" fill="#010126" opacity="0.62" filter="url(#b1)"/><ellipse cx="89.55" cy="287.83" rx="2.06" ry="1.3" fill="#0d0d96" opacity="0.6" filter="url(#b1)"/></g><g transform="rotate(10 62.5 321)"><ellipse cx="62.5" cy="321" rx="16.5" ry="12.5" fill="#0d0d96" filter="url(#b06)"/><ellipse cx="62.5" cy="321" rx="14.3" ry="10.3" fill="#08086c" opacity="0.9" filter="url(#b15)"/><ellipse cx="68.92" cy="324.09" rx="2.49" ry="2.56" fill="#010126" opacity="0.62" filter="url(#b1)"/><ellipse cx="58.15" cy="324.44" rx="3.32" ry="1.88" fill="#0d0d96" opacity="0.6" filter="url(#b1)"/><ellipse cx="53.11" cy="317.42" rx="2.37" ry="1.85" fill="#010126" opacity="0.62" filter="url(#b1)"/><ellipse cx="70.89" cy="316.85" rx="1.97" ry="1.47" fill="#0d0d96" opacity="0.6" filter="url(#b1)"/><ellipse cx="61.73" cy="312.48" rx="2.39" ry="3.12" fill="#010126" opacity="0.62" filter="url(#b1)"/><ellipse cx="68.26" cy="316.99" rx="2.3" ry="1.35" fill="#0d0d96" opacity="0.6" filter="url(#b1)"/><ellipse cx="73.66" cy="323.1" rx="2.48" ry="2.73" fill="#010126" opacity="0.62" filter="url(#b1)"/><ellipse cx="62.07" cy="328.63" rx="2.63" ry="1.61" fill="#0d0d96" opacity="0.6" filter="url(#b1)"/><ellipse cx="66.58" cy="327.09" rx="2.14" ry="1.97" fill="#010126" opacity="0.62" filter="url(#b1)"/><ellipse cx="52.84" cy="318.15" rx="2.67" ry="1.59" fill="#0d0d96" opacity="0.6" filter="url(#b1)"/><ellipse cx="65.74" cy="319.59" rx="2.03" ry="2.03" fill="#010126" opacity="0.62" filter="url(#b1)"/><ellipse cx="60.36" cy="321.58" rx="1.83" ry="1.72" fill="#0d0d96" opacity="0.6" filter="url(#b1)"/></g><g transform="rotate(0 33 297.5)"><ellipse cx="33" cy="297.5" rx="7" ry="12" fill="#0d0d96" filter="url(#b06)"/><ellipse cx="33" cy="297.5" rx="4.8" ry="9.8" fill="#08086c" opacity="0.9" filter="url(#b15)"/><ellipse cx="31.86" cy="296.55" rx="2.72" ry="3.03" fill="#010126" opacity="0.62" filter="url(#b1)"/><ellipse cx="36.52" cy="296.74" rx="2.81" ry="2.02" fill="#0d0d96" opacity="0.6" filter="url(#b1)"/><ellipse cx="33.54" cy="298.63" rx="2.04" ry="3.06" fill="#010126" opacity="0.62" filter="url(#b1)"/><ellipse cx="31.51" cy="289.54" rx="1.54" ry="2.09" fill="#0d0d96" opacity="0.6" filter="url(#b1)"/><ellipse cx="29.15" cy="298.25" rx="2.64" ry="3.2" fill="#010126" opacity="0.62" filter="url(#b1)"/><ellipse cx="35.73" cy="299.9" rx="2.9" ry="2.46" fill="#0d0d96" opacity="0.6" filter="url(#b1)"/><ellipse cx="32.69" cy="291.09" rx="3.59" ry="3.06" fill="#010126" opacity="0.62" filter="url(#b1)"/><ellipse cx="30.81" cy="302.56" rx="3.21" ry="2.42" fill="#0d0d96" opacity="0.6" filter="url(#b1)"/><ellipse cx="29.42" cy="301.03" rx="3.73" ry="2.52" fill="#010126" opacity="0.62" filter="url(#b1)"/><ellipse cx="31.33" cy="294.65" rx="2.61" ry="2.05" fill="#0d0d96" opacity="0.6" filter="url(#b1)"/><ellipse cx="36.04" cy="300.38" rx="3.99" ry="3.01" fill="#010126" opacity="0.62" filter="url(#b1)"/><ellipse cx="32.67" cy="293.45" rx="2.9" ry="2.01" fill="#0d0d96" opacity="0.6" filter="url(#b1)"/></g></g></g>
<g clip-path="url(#cd020)"><g filter="url(#mot)"><g transform="rotate(0 184 279)"><ellipse cx="184" cy="279" rx="11.5" ry="10.5" fill="#0f0fa2" filter="url(#b06)"/><ellipse cx="184" cy="279" rx="9.3" ry="8.3" fill="#090978" opacity="0.9" filter="url(#b15)"/><ellipse cx="177.37" cy="281.38" rx="2.17" ry="2.8" fill="#010126" opacity="0.62" filter="url(#b1)"/><ellipse cx="189.34" cy="279.92" rx="2.41" ry="1.52" fill="#0f0fa2" opacity="0.6" filter="url(#b1)"/><ellipse cx="182.49" cy="274.94" rx="3.23" ry="3.07" fill="#010126" opacity="0.62" filter="url(#b1)"/><ellipse cx="183.96" cy="280.12" rx="2.07" ry="2.15" fill="#0f0fa2" opacity="0.6" filter="url(#b1)"/><ellipse cx="184.69" cy="281.06" rx="3.81" ry="2.66" fill="#010126" opacity="0.62" filter="url(#b1)"/><ellipse cx="176.99" cy="281.45" rx="2.12" ry="2.13" fill="#0f0fa2" opacity="0.6" filter="url(#b1)"/><ellipse cx="185.34" cy="282.65" rx="3.61" ry="3.06" fill="#010126" opacity="0.62" filter="url(#b1)"/><ellipse cx="186.83" cy="276.57" rx="2.61" ry="1.64" fill="#0f0fa2" opacity="0.6" filter="url(#b1)"/><ellipse cx="187.08" cy="282.23" rx="3.67" ry="2.96" fill="#010126" opacity="0.62" filter="url(#b1)"/><ellipse cx="182.07" cy="271.98" rx="2.03" ry="1.44" fill="#0f0fa2" opacity="0.6" filter="url(#b1)"/><ellipse cx="181.04" cy="279.87" rx="2.43" ry="2.26" fill="#010126" opacity="0.62" filter="url(#b1)"/><ellipse cx="180.71" cy="275.98" rx="2.1" ry="2.37" fill="#0f0fa2" opacity="0.6" filter="url(#b1)"/></g><g transform="rotate(-10 212.5 286)"><ellipse cx="212.5" cy="286" rx="17" ry="15.5" fill="#0f0fa2" filter="url(#b06)"/><ellipse cx="212.5" cy="286" rx="14.8" ry="13.3" fill="#090978" opacity="0.9" filter="url(#b15)"/><ellipse cx="218.93" cy="285.32" rx="2.15" ry="1.65" fill="#010126" opacity="0.62" filter="url(#b1)"/><ellipse cx="213.99" cy="284.6" rx="2.85" ry="2" fill="#0f0fa2" opacity="0.6" filter="url(#b1)"/><ellipse cx="208.87" cy="294.54" rx="2.04" ry="1.82" fill="#010126" opacity="0.62" filter="url(#b1)"/><ellipse cx="210.62" cy="286.5" rx="3.08" ry="1.53" fill="#0f0fa2" opacity="0.6" filter="url(#b1)"/><ellipse cx="213.89" cy="287.55" rx="3.26" ry="2.31" fill="#010126" opacity="0.62" filter="url(#b1)"/><ellipse cx="206.6" cy="280.29" rx="3.03" ry="2.54" fill="#0f0fa2" opacity="0.6" filter="url(#b1)"/><ellipse cx="210.97" cy="282.83" rx="2.95" ry="1.89" fill="#010126" opacity="0.62" filter="url(#b1)"/><ellipse cx="219.16" cy="286.41" rx="2.86" ry="1.45" fill="#0f0fa2" opacity="0.6" filter="url(#b1)"/><ellipse cx="211.76" cy="290.83" rx="3.39" ry="2.43" fill="#010126" opacity="0.62" filter="url(#b1)"/><ellipse cx="205.21" cy="280.21" rx="2.25" ry="2.31" fill="#0f0fa2" opacity="0.6" filter="url(#b1)"/><ellipse cx="214.67" cy="284.67" rx="3.87" ry="2.76" fill="#010126" opacity="0.62" filter="url(#b1)"/><ellipse cx="216.94" cy="290.3" rx="2.69" ry="2.47" fill="#0f0fa2" opacity="0.6" filter="url(#b1)"/></g><g transform="rotate(10 220 319)"><ellipse cx="220" cy="319" rx="13" ry="17.5" fill="#0f0fa2" filter="url(#b06)"/><ellipse cx="220" cy="319" rx="10.8" ry="15.3" fill="#090978" opacity="0.9" filter="url(#b15)"/><ellipse cx="215.8" cy="324.54" rx="3.76" ry="2.87" fill="#010126" opacity="0.62" filter="url(#b1)"/><ellipse cx="224.73" cy="316.65" rx="2.74" ry="1.49" fill="#0f0fa2" opacity="0.6" filter="url(#b1)"/><ellipse cx="218.6" cy="308.54" rx="3.28" ry="2.75" fill="#010126" opacity="0.62" filter="url(#b1)"/><ellipse cx="221.96" cy="330.21" rx="3.36" ry="2.57" fill="#0f0fa2" opacity="0.6" filter="url(#b1)"/><ellipse cx="212.53" cy="316.64" rx="2.64" ry="3.06" fill="#010126" opacity="0.62" filter="url(#b1)"/><ellipse cx="222.53" cy="314.64" rx="1.66" ry="1.82" fill="#0f0fa2" opacity="0.6" filter="url(#b1)"/><ellipse cx="212.88" cy="315.88" rx="2.97" ry="1.65" fill="#010126" opacity="0.62" filter="url(#b1)"/><ellipse cx="220.66" cy="316.72" rx="3.02" ry="1.44" fill="#0f0fa2" opacity="0.6" filter="url(#b1)"/><ellipse cx="216.11" cy="327.87" rx="2.28" ry="1.84" fill="#010126" opacity="0.62" filter="url(#b1)"/><ellipse cx="212.91" cy="318.02" rx="3.1" ry="2.17" fill="#0f0fa2" opacity="0.6" filter="url(#b1)"/><ellipse cx="224.96" cy="316.61" rx="3.9" ry="1.74" fill="#010126" opacity="0.62" filter="url(#b1)"/><ellipse cx="220.99" cy="326.34" rx="2.05" ry="2.22" fill="#0f0fa2" opacity="0.6" filter="url(#b1)"/></g><g transform="rotate(0 243 282.5)"><ellipse cx="243" cy="282.5" rx="4" ry="10" fill="#0f0fa2" filter="url(#b06)"/><ellipse cx="243" cy="282.5" rx="1.8" ry="7.8" fill="#090978" opacity="0.9" filter="url(#b15)"/><ellipse cx="241.91" cy="279.26" rx="3.69" ry="2.5" fill="#010126" opacity="0.62" filter="url(#b1)"/><ellipse cx="242.49" cy="285.62" rx="3.11" ry="2.46" fill="#0f0fa2" opacity="0.6" filter="url(#b1)"/><ellipse cx="243.65" cy="288.56" rx="3.94" ry="2.44" fill="#010126" opacity="0.62" filter="url(#b1)"/><ellipse cx="242.19" cy="281.51" rx="2.52" ry="1.9" fill="#0f0fa2" opacity="0.6" filter="url(#b1)"/><ellipse cx="242.63" cy="281.78" rx="3.94" ry="2.43" fill="#010126" opacity="0.62" filter="url(#b1)"/><ellipse cx="241.07" cy="286" rx="2.57" ry="1.89" fill="#0f0fa2" opacity="0.6" filter="url(#b1)"/><ellipse cx="242.79" cy="281.19" rx="3.08" ry="2.26" fill="#010126" opacity="0.62" filter="url(#b1)"/><ellipse cx="245.59" cy="280.68" rx="2.01" ry="1.86" fill="#0f0fa2" opacity="0.6" filter="url(#b1)"/><ellipse cx="244.03" cy="285.14" rx="3.63" ry="3.04" fill="#010126" opacity="0.62" filter="url(#b1)"/><ellipse cx="241.83" cy="282.94" rx="1.86" ry="2.07" fill="#0f0fa2" opacity="0.6" filter="url(#b1)"/><ellipse cx="243.64" cy="281.68" rx="3.56" ry="1.64" fill="#010126" opacity="0.62" filter="url(#b1)"/><ellipse cx="243.33" cy="284.76" rx="2.81" ry="1.65" fill="#0f0fa2" opacity="0.6" filter="url(#b1)"/></g></g></g>
<g clip-path="url(#cd010)"><g filter="url(#b03)"><circle cx="124.51" cy="318.65" r="0.55" fill="#f41818" opacity="0.17"/><circle cx="124.01" cy="299.04" r="0.51" fill="#d00808" opacity="0.1"/><circle cx="125.31" cy="313.59" r="0.4" fill="#d00808" opacity="0.08"/><circle cx="122.7" cy="282.42" r="0.61" fill="#d00808" opacity="0.11"/><circle cx="147.96" cy="288.64" r="0.59" fill="#d00808" opacity="0.14"/><circle cx="132.24" cy="315.42" r="0.42" fill="#d00808" opacity="0.14"/><circle cx="147.33" cy="292.85" r="0.57" fill="#d00808" opacity="0.08"/><circle cx="161.44" cy="315.66" r="0.59" fill="#d00808" opacity="0.07"/><circle cx="118.68" cy="314.27" r="0.66" fill="#f41818" opacity="0.2"/><circle cx="164.02" cy="284.32" r="0.6" fill="#f41818" opacity="0.2"/></g></g>
<g clip-path="url(#cd030)"><g filter="url(#b03)"><circle cx="275.1" cy="309.71" r="0.37" fill="#d00808" opacity="0.16"/><circle cx="303" cy="313.81" r="0.52" fill="#d00808" opacity="0.17"/><circle cx="293.25" cy="319.1" r="0.65" fill="#d00808" opacity="0.31"/><circle cx="293.7" cy="313.08" r="0.49" fill="#d00808" opacity="0.28"/><circle cx="284.3" cy="323.32" r="0.48" fill="#d00808" opacity="0.25"/><circle cx="305.02" cy="311.53" r="0.4" fill="#d00808" opacity="0.22"/><circle cx="289.21" cy="296.03" r="0.4" fill="#d00808" opacity="0.23"/><circle cx="306.93" cy="312.01" r="0.56" fill="#d00808" opacity="0.29"/><circle cx="282.11" cy="299.86" r="0.5" fill="#d00808" opacity="0.32"/><circle cx="293.07" cy="299.47" r="0.57" fill="#d00808" opacity="0.28"/><circle cx="294.5" cy="297.11" r="0.61" fill="#d00808" opacity="0.27"/><circle cx="291.67" cy="290.86" r="0.57" fill="#d00808" opacity="0.15"/><circle cx="283.3" cy="322.64" r="0.65" fill="#f41818" opacity="0.44"/><circle cx="283.82" cy="302.57" r="0.55" fill="#d00808" opacity="0.2"/><circle cx="282.68" cy="296.01" r="0.47" fill="#d00808" opacity="0.32"/><circle cx="280.53" cy="295.66" r="0.64" fill="#d00808" opacity="0.14"/><circle cx="278.4" cy="297.49" r="0.47" fill="#d00808" opacity="0.15"/><circle cx="293.71" cy="322.7" r="0.66" fill="#f41818" opacity="0.47"/><circle cx="277.8" cy="305.18" r="0.52" fill="#d00808" opacity="0.32"/><circle cx="279.5" cy="294.93" r="0.61" fill="#f41818" opacity="0.45"/><circle cx="306.67" cy="315.93" r="0.49" fill="#d00808" opacity="0.17"/><circle cx="275.93" cy="310.51" r="0.56" fill="#f41818" opacity="0.41"/><circle cx="276.27" cy="307.18" r="0.44" fill="#d00808" opacity="0.26"/><circle cx="281.1" cy="305.66" r="0.44" fill="#d00808" opacity="0.14"/><circle cx="290.12" cy="314.55" r="0.58" fill="#d00808" opacity="0.21"/><circle cx="304.14" cy="276.87" r="0.6" fill="#f41818" opacity="0.59"/><circle cx="305.11" cy="282.54" r="0.49" fill="#d00808" opacity="0.39"/><circle cx="300.17" cy="284.34" r="0.57" fill="#d00808" opacity="0.28"/></g></g>
<g clip-path="url(#cd001)"><g filter="url(#mot)"><g transform="rotate(0 55 357.5)"><ellipse cx="55" cy="357.5" rx="19" ry="20" fill="#0a0a7e" filter="url(#b06)"/><ellipse cx="55" cy="357.5" rx="16.8" ry="17.8" fill="#06065c" opacity="0.9" filter="url(#b15)"/><ellipse cx="66.41" cy="355.85" rx="3.21" ry="1.78" fill="#010126" opacity="0.62" filter="url(#b1)"/><ellipse cx="49.83" cy="352.13" rx="1.89" ry="1.27" fill="#0a0a7e" opacity="0.6" filter="url(#b1)"/><ellipse cx="51.69" cy="356.88" rx="2.89" ry="2.67" fill="#010126" opacity="0.62" filter="url(#b1)"/><ellipse cx="50.21" cy="358.95" rx="2.61" ry="1.79" fill="#0a0a7e" opacity="0.6" filter="url(#b1)"/><ellipse cx="56.41" cy="349.05" rx="4" ry="3.12" fill="#010126" opacity="0.62" filter="url(#b1)"/><ellipse cx="54.52" cy="352.57" rx="1.72" ry="2.45" fill="#0a0a7e" opacity="0.6" filter="url(#b1)"/><ellipse cx="56.96" cy="347.97" rx="2.72" ry="2.03" fill="#010126" opacity="0.62" filter="url(#b1)"/><ellipse cx="51.59" cy="349.24" rx="2.62" ry="2.09" fill="#0a0a7e" opacity="0.6" filter="url(#b1)"/><ellipse cx="55.08" cy="353.15" rx="2.5" ry="3.17" fill="#010126" opacity="0.62" filter="url(#b1)"/><ellipse cx="65.56" cy="350.95" rx="1.58" ry="1.29" fill="#0a0a7e" opacity="0.6" filter="url(#b1)"/><ellipse cx="54.1" cy="364.71" rx="3.25" ry="1.76" fill="#010126" opacity="0.62" filter="url(#b1)"/><ellipse cx="52.34" cy="356.75" rx="1.66" ry="2.15" fill="#0a0a7e" opacity="0.6" filter="url(#b1)"/></g><g transform="rotate(0 86 388)"><ellipse cx="86" cy="388" rx="16.5" ry="17.5" fill="#0a0a7e" filter="url(#b06)"/><ellipse cx="86" cy="388" rx="14.3" ry="15.3" fill="#06065c" opacity="0.9" filter="url(#b15)"/><ellipse cx="78.3" cy="385.33" rx="2.75" ry="2.37" fill="#010126" opacity="0.62" filter="url(#b1)"/><ellipse cx="87.27" cy="393.31" rx="2.92" ry="2.37" fill="#0a0a7e" opacity="0.6" filter="url(#b1)"/><ellipse cx="88.57" cy="389.37" rx="3.62" ry="2.6" fill="#010126" opacity="0.62" filter="url(#b1)"/><ellipse cx="86.44" cy="383.96" rx="2.31" ry="1.56" fill="#0a0a7e" opacity="0.6" filter="url(#b1)"/><ellipse cx="87.98" cy="382.64" rx="3.31" ry="3.18" fill="#010126" opacity="0.62" filter="url(#b1)"/><ellipse cx="82.69" cy="394.86" rx="2.92" ry="2.49" fill="#0a0a7e" opacity="0.6" filter="url(#b1)"/><ellipse cx="81.13" cy="390.53" rx="2.19" ry="3" fill="#010126" opacity="0.62" filter="url(#b1)"/><ellipse cx="88.2" cy="389.25" rx="2.57" ry="1.88" fill="#0a0a7e" opacity="0.6" filter="url(#b1)"/><ellipse cx="84.13" cy="383.42" rx="3.55" ry="1.72" fill="#010126" opacity="0.62" filter="url(#b1)"/><ellipse cx="87.93" cy="396.7" rx="1.66" ry="1.63" fill="#0a0a7e" opacity="0.6" filter="url(#b1)"/><ellipse cx="84.61" cy="378.84" rx="2.57" ry="1.83" fill="#010126" opacity="0.62" filter="url(#b1)"/><ellipse cx="80.32" cy="395.51" rx="2.2" ry="1.36" fill="#0a0a7e" opacity="0.6" filter="url(#b1)"/></g></g></g>
<g clip-path="url(#cd001)"><g filter="url(#b03)"><circle cx="51.92" cy="345.1" r="0.63" fill="#c0103a" opacity="0.68"/><circle cx="41.74" cy="363.31" r="0.45" fill="#c0103a" opacity="0.48"/><circle cx="68.86" cy="351.04" r="0.46" fill="#c0103a" opacity="0.46"/><circle cx="48.43" cy="365.6" r="0.41" fill="#c0103a" opacity="0.54"/><circle cx="58.4" cy="345.53" r="0.52" fill="#c0103a" opacity="0.39"/><circle cx="55.81" cy="341.57" r="0.36" fill="#c0103a" opacity="0.52"/><circle cx="43.4" cy="354.01" r="0.55" fill="#c0103a" opacity="0.64"/><circle cx="65.89" cy="362.42" r="0.38" fill="#c0103a" opacity="0.35"/><circle cx="53.73" cy="341.44" r="0.76" fill="#f41818" opacity="0.85"/><circle cx="54.63" cy="343.81" r="0.42" fill="#c0103a" opacity="0.62"/><circle cx="41.13" cy="355.52" r="0.45" fill="#c0103a" opacity="0.71"/><circle cx="49.71" cy="346.96" r="0.57" fill="#c0103a" opacity="0.6"/><circle cx="63.81" cy="351.93" r="0.55" fill="#c0103a" opacity="0.66"/><circle cx="59.99" cy="342.91" r="0.64" fill="#c0103a" opacity="0.57"/><circle cx="41.67" cy="355.38" r="0.48" fill="#c0103a" opacity="0.49"/><circle cx="63.37" cy="369.13" r="0.46" fill="#c0103a" opacity="0.38"/><circle cx="57.96" cy="368.13" r="0.64" fill="#c0103a" opacity="0.34"/><circle cx="53.06" cy="362.88" r="0.58" fill="#c0103a" opacity="0.39"/><circle cx="65.02" cy="361.89" r="0.62" fill="#c0103a" opacity="0.33"/><circle cx="60.33" cy="362.11" r="0.42" fill="#c0103a" opacity="0.61"/><circle cx="48.72" cy="353" r="0.43" fill="#c0103a" opacity="0.38"/><circle cx="55.4" cy="348.02" r="0.6" fill="#c0103a" opacity="0.51"/><circle cx="54.02" cy="373.48" r="0.45" fill="#c0103a" opacity="0.54"/><circle cx="65.7" cy="354.31" r="0.36" fill="#c0103a" opacity="0.7"/><circle cx="58.13" cy="347.49" r="0.5" fill="#c0103a" opacity="0.43"/><circle cx="67.95" cy="356.61" r="0.35" fill="#c0103a" opacity="0.51"/><circle cx="45.13" cy="368.47" r="0.53" fill="#c0103a" opacity="0.38"/><circle cx="60.02" cy="365.54" r="0.61" fill="#c0103a" opacity="0.52"/><circle cx="44.58" cy="344.68" r="0.51" fill="#c0103a" opacity="0.38"/><circle cx="55.07" cy="356.88" r="0.6" fill="#c0103a" opacity="0.65"/><circle cx="62.22" cy="361.87" r="0.38" fill="#c0103a" opacity="0.51"/><circle cx="39.67" cy="360.78" r="0.61" fill="#c0103a" opacity="0.44"/><circle cx="57.5" cy="346.85" r="0.38" fill="#c0103a" opacity="0.65"/><circle cx="58.05" cy="369.6" r="0.4" fill="#c0103a" opacity="0.65"/><circle cx="83.28" cy="394.72" r="0.68" fill="#f41818" opacity="0.83"/><circle cx="84.29" cy="380.39" r="0.38" fill="#c0103a" opacity="0.42"/><circle cx="73.59" cy="391.06" r="0.55" fill="#c0103a" opacity="0.28"/><circle cx="78.16" cy="395.65" r="0.52" fill="#c0103a" opacity="0.44"/><circle cx="98.92" cy="388.85" r="0.41" fill="#c0103a" opacity="0.5"/><circle cx="84.01" cy="395.72" r="0.44" fill="#c0103a" opacity="0.4"/><circle cx="77.74" cy="394.66" r="0.41" fill="#c0103a" opacity="0.54"/><circle cx="79.97" cy="399.1" r="0.57" fill="#c0103a" opacity="0.4"/><circle cx="87.83" cy="384.5" r="0.38" fill="#c0103a" opacity="0.52"/><circle cx="84.56" cy="382.68" r="0.6" fill="#c0103a" opacity="0.49"/><circle cx="91.22" cy="391.32" r="0.39" fill="#c0103a" opacity="0.43"/><circle cx="97.2" cy="393.5" r="0.5" fill="#c0103a" opacity="0.51"/><circle cx="87.22" cy="376.28" r="0.45" fill="#c0103a" opacity="0.43"/><circle cx="94.19" cy="388.8" r="0.64" fill="#c0103a" opacity="0.56"/><circle cx="80.56" cy="379.44" r="0.68" fill="#f41818" opacity="0.8"/><circle cx="83.52" cy="384.57" r="0.5" fill="#c0103a" opacity="0.56"/><circle cx="90.6" cy="378.94" r="0.58" fill="#c0103a" opacity="0.61"/><circle cx="78.63" cy="385.71" r="0.39" fill="#c0103a" opacity="0.54"/><circle cx="95.3" cy="387.2" r="0.6" fill="#c0103a" opacity="0.35"/><circle cx="95.67" cy="384.48" r="0.37" fill="#c0103a" opacity="0.37"/><circle cx="76.37" cy="383" r="0.63" fill="#c0103a" opacity="0.41"/><circle cx="81.55" cy="389.06" r="0.39" fill="#c0103a" opacity="0.61"/><circle cx="76.62" cy="385.39" r="0.43" fill="#c0103a" opacity="0.61"/><circle cx="97.74" cy="387.38" r="0.39" fill="#c0103a" opacity="0.58"/><circle cx="83.06" cy="399.96" r="0.52" fill="#c0103a" opacity="0.58"/><circle cx="89.79" cy="396.84" r="0.7" fill="#f41818" opacity="0.76"/><circle cx="98.55" cy="386.93" r="0.44" fill="#c0103a" opacity="0.52"/><circle cx="85.36" cy="379.99" r="0.59" fill="#c0103a" opacity="0.29"/></g></g>
<g clip-path="url(#cd011)"><ellipse cx="127.5" cy="357.5" rx="14.45" ry="15.3" fill="#6a0000" opacity="0.22" filter="url(#b4)"/><ellipse cx="156" cy="388" rx="11.9" ry="11.9" fill="#6a0000" opacity="0.22" filter="url(#b4)"/><g filter="url(#b03)"><circle cx="131.13" cy="369.2" r="0.47" fill="#d00808" opacity="0.52"/><circle cx="133.16" cy="369.01" r="0.52" fill="#d00808" opacity="0.42"/><circle cx="125.41" cy="354.78" r="0.39" fill="#d00808" opacity="0.66"/><circle cx="118.06" cy="350.26" r="0.54" fill="#d00808" opacity="0.56"/><circle cx="128.21" cy="341.91" r="0.65" fill="#d00808" opacity="0.62"/><circle cx="134.14" cy="348.39" r="0.52" fill="#d00808" opacity="0.64"/><circle cx="115.34" cy="355.4" r="0.62" fill="#d00808" opacity="0.42"/><circle cx="141.14" cy="362.66" r="0.57" fill="#d00808" opacity="0.53"/><circle cx="127.59" cy="347.56" r="0.37" fill="#d00808" opacity="0.35"/><circle cx="116.12" cy="361.69" r="0.37" fill="#d00808" opacity="0.56"/><circle cx="119.3" cy="356.07" r="0.47" fill="#d00808" opacity="0.39"/><circle cx="142.25" cy="364.66" r="0.55" fill="#d00808" opacity="0.63"/><circle cx="114.08" cy="365.18" r="0.57" fill="#d00808" opacity="0.51"/><circle cx="131.88" cy="354.26" r="0.39" fill="#d00808" opacity="0.5"/><circle cx="127.89" cy="357.37" r="0.44" fill="#d00808" opacity="0.42"/><circle cx="142.36" cy="364.03" r="0.47" fill="#d00808" opacity="0.43"/><circle cx="124.37" cy="355.53" r="0.97" fill="#f41818" opacity="0.84"/><circle cx="111.07" cy="357.7" r="0.49" fill="#d00808" opacity="0.38"/><circle cx="122.92" cy="374.1" r="0.41" fill="#d00808" opacity="0.62"/><circle cx="120.4" cy="367.33" r="0.61" fill="#d00808" opacity="0.68"/><circle cx="131.52" cy="371.17" r="0.61" fill="#d00808" opacity="0.32"/><circle cx="138.88" cy="366.98" r="0.62" fill="#d00808" opacity="0.63"/><circle cx="126.05" cy="351.07" r="0.63" fill="#d00808" opacity="0.47"/><circle cx="134.56" cy="361.55" r="0.56" fill="#d00808" opacity="0.37"/><circle cx="130.97" cy="365.42" r="0.59" fill="#d00808" opacity="0.44"/><circle cx="119.08" cy="343.11" r="0.42" fill="#d00808" opacity="0.41"/><circle cx="139.92" cy="350.93" r="0.54" fill="#d00808" opacity="0.33"/><circle cx="138.71" cy="356.19" r="0.51" fill="#d00808" opacity="0.31"/><circle cx="120.14" cy="351.89" r="0.59" fill="#d00808" opacity="0.33"/><circle cx="124.28" cy="372.77" r="0.43" fill="#d00808" opacity="0.51"/><circle cx="133.78" cy="373.2" r="0.36" fill="#d00808" opacity="0.47"/><circle cx="127.51" cy="346.34" r="0.5" fill="#d00808" opacity="0.37"/><circle cx="114.68" cy="352.54" r="0.55" fill="#d00808" opacity="0.6"/><circle cx="115.48" cy="356.18" r="0.56" fill="#d00808" opacity="0.5"/><circle cx="134.26" cy="355.23" r="0.4" fill="#d00808" opacity="0.53"/><circle cx="128.55" cy="369.39" r="0.59" fill="#d00808" opacity="0.6"/><circle cx="128.56" cy="370.04" r="0.52" fill="#d00808" opacity="0.49"/><circle cx="140.31" cy="360.56" r="0.52" fill="#d00808" opacity="0.63"/><circle cx="130.32" cy="363.84" r="0.85" fill="#f41818" opacity="0.88"/><circle cx="119.37" cy="360.82" r="0.37" fill="#d00808" opacity="0.64"/><circle cx="116.12" cy="351.96" r="0.42" fill="#d00808" opacity="0.35"/><circle cx="126.2" cy="360.94" r="0.54" fill="#d00808" opacity="0.5"/><circle cx="126.31" cy="371.25" r="0.95" fill="#f41818" opacity="0.81"/><circle cx="127.3" cy="364.69" r="0.6" fill="#d00808" opacity="0.6"/><circle cx="137.6" cy="361.82" r="0.41" fill="#d00808" opacity="0.67"/><circle cx="138.98" cy="360.79" r="0.65" fill="#d00808" opacity="0.35"/><circle cx="113.41" cy="361.83" r="0.77" fill="#f41818" opacity="0.99"/><circle cx="134.22" cy="366.26" r="0.48" fill="#d00808" opacity="0.33"/><circle cx="144.08" cy="361.34" r="0.57" fill="#d00808" opacity="0.39"/><circle cx="127.26" cy="370.87" r="0.49" fill="#d00808" opacity="0.65"/><circle cx="121.03" cy="365.39" r="0.53" fill="#d00808" opacity="0.31"/><circle cx="116.27" cy="365.82" r="0.8" fill="#f41818" opacity="0.94"/><circle cx="136.08" cy="347.07" r="0.49" fill="#d00808" opacity="0.45"/><circle cx="133.27" cy="348.22" r="0.41" fill="#d00808" opacity="0.43"/><circle cx="132.61" cy="369.7" r="0.41" fill="#d00808" opacity="0.38"/><circle cx="118.25" cy="359.53" r="0.65" fill="#d00808" opacity="0.56"/><circle cx="132.49" cy="351.3" r="0.37" fill="#d00808" opacity="0.56"/><circle cx="121.71" cy="364.67" r="0.75" fill="#f41818" opacity="0.83"/><circle cx="114.73" cy="368.29" r="0.43" fill="#d00808" opacity="0.44"/><circle cx="136.88" cy="371.81" r="0.58" fill="#d00808" opacity="0.57"/><circle cx="129.52" cy="356.08" r="0.47" fill="#d00808" opacity="0.33"/><circle cx="134.65" cy="350.56" r="0.51" fill="#d00808" opacity="0.32"/><circle cx="120.98" cy="362.94" r="0.75" fill="#f41818" opacity="0.92"/><circle cx="136.81" cy="359.49" r="0.51" fill="#d00808" opacity="0.35"/><circle cx="125.15" cy="348.66" r="0.55" fill="#d00808" opacity="0.35"/><circle cx="130.03" cy="366.65" r="0.47" fill="#d00808" opacity="0.45"/><circle cx="132.87" cy="351.1" r="0.45" fill="#d00808" opacity="0.38"/><circle cx="130.08" cy="358.21" r="0.52" fill="#d00808" opacity="0.61"/><circle cx="136.67" cy="355.97" r="0.63" fill="#d00808" opacity="0.38"/><circle cx="122.3" cy="343.87" r="0.61" fill="#d00808" opacity="0.39"/><circle cx="124.06" cy="353.52" r="0.47" fill="#d00808" opacity="0.32"/><circle cx="120.27" cy="364.41" r="0.43" fill="#d00808" opacity="0.36"/><circle cx="117.92" cy="364.65" r="0.55" fill="#d00808" opacity="0.39"/><circle cx="135.79" cy="363.31" r="0.4" fill="#d00808" opacity="0.52"/><circle cx="123.67" cy="344.74" r="0.36" fill="#d00808" opacity="0.45"/><circle cx="124.7" cy="360.9" r="0.37" fill="#d00808" opacity="0.49"/><circle cx="117.5" cy="351.19" r="0.43" fill="#d00808" opacity="0.31"/><circle cx="118.32" cy="371.44" r="0.43" fill="#d00808" opacity="0.55"/><circle cx="132.06" cy="368.84" r="0.64" fill="#d00808" opacity="0.44"/><circle cx="112.84" cy="349.48" r="0.54" fill="#d00808" opacity="0.53"/><circle cx="148.36" cy="392.8" r="0.6" fill="#d00808" opacity="0.6"/><circle cx="146.17" cy="397.04" r="0.71" fill="#f41818" opacity="0.84"/><circle cx="152.98" cy="395.84" r="0.39" fill="#d00808" opacity="0.35"/><circle cx="157.56" cy="399.44" r="0.35" fill="#d00808" opacity="0.48"/><circle cx="150.62" cy="392.24" r="0.55" fill="#d00808" opacity="0.48"/><circle cx="148.54" cy="380.63" r="0.64" fill="#d00808" opacity="0.4"/><circle cx="148.49" cy="398.83" r="0.56" fill="#d00808" opacity="0.53"/><circle cx="150.64" cy="375.34" r="0.4" fill="#d00808" opacity="0.5"/><circle cx="145.51" cy="388.63" r="0.44" fill="#d00808" opacity="0.55"/><circle cx="149.34" cy="386.57" r="0.45" fill="#d00808" opacity="0.34"/><circle cx="151.05" cy="387.58" r="0.71" fill="#f41818" opacity="0.74"/><circle cx="154.67" cy="383.49" r="0.58" fill="#d00808" opacity="0.45"/><circle cx="162.81" cy="399.11" r="0.37" fill="#d00808" opacity="0.37"/><circle cx="143.52" cy="387.44" r="0.56" fill="#d00808" opacity="0.37"/><circle cx="154.27" cy="380.18" r="0.58" fill="#d00808" opacity="0.58"/><circle cx="160.97" cy="378.7" r="0.56" fill="#d00808" opacity="0.5"/><circle cx="162.08" cy="377.04" r="0.46" fill="#d00808" opacity="0.52"/><circle cx="156.72" cy="393.97" r="0.76" fill="#f41818" opacity="0.95"/><circle cx="161.03" cy="387.04" r="0.48" fill="#d00808" opacity="0.51"/><circle cx="145.23" cy="396.19" r="0.36" fill="#d00808" opacity="0.54"/><circle cx="158.12" cy="389.95" r="0.57" fill="#d00808" opacity="0.64"/><circle cx="161.86" cy="393.51" r="0.75" fill="#f41818" opacity="0.84"/><circle cx="150.56" cy="393.57" r="0.6" fill="#d00808" opacity="0.38"/><circle cx="147.46" cy="394.93" r="0.64" fill="#d00808" opacity="0.42"/><circle cx="152.42" cy="378.3" r="0.39" fill="#d00808" opacity="0.34"/><circle cx="166.58" cy="396.43" r="0.5" fill="#d00808" opacity="0.32"/><circle cx="155.13" cy="389.74" r="0.39" fill="#d00808" opacity="0.51"/><circle cx="155" cy="394.6" r="0.46" fill="#d00808" opacity="0.37"/><circle cx="159.37" cy="389.12" r="0.44" fill="#d00808" opacity="0.31"/><circle cx="160.01" cy="396.87" r="0.41" fill="#d00808" opacity="0.59"/><circle cx="147.03" cy="388.9" r="0.47" fill="#d00808" opacity="0.3"/><circle cx="145.21" cy="384.48" r="0.43" fill="#d00808" opacity="0.62"/><circle cx="165.18" cy="377.48" r="0.6" fill="#d00808" opacity="0.54"/><circle cx="157.03" cy="390.05" r="0.39" fill="#d00808" opacity="0.31"/><circle cx="148.33" cy="397.42" r="0.5" fill="#d00808" opacity="0.28"/><circle cx="159.41" cy="401.28" r="0.75" fill="#f41818" opacity="0.91"/><circle cx="159.12" cy="376.41" r="0.59" fill="#d00808" opacity="0.58"/><circle cx="157.51" cy="374.18" r="0.64" fill="#d00808" opacity="0.42"/><circle cx="154.04" cy="381.27" r="0.36" fill="#d00808" opacity="0.49"/><circle cx="157.25" cy="396.64" r="0.55" fill="#d00808" opacity="0.57"/><circle cx="148.63" cy="396.41" r="0.43" fill="#d00808" opacity="0.61"/><circle cx="154.14" cy="391.87" r="0.57" fill="#d00808" opacity="0.36"/><circle cx="155.53" cy="377.66" r="0.4" fill="#d00808" opacity="0.32"/><circle cx="161.17" cy="394.48" r="0.35" fill="#d00808" opacity="0.46"/><circle cx="149.49" cy="392.54" r="0.64" fill="#d00808" opacity="0.35"/><circle cx="161.78" cy="382.57" r="0.38" fill="#d00808" opacity="0.64"/><circle cx="143.58" cy="393.86" r="0.47" fill="#d00808" opacity="0.53"/><circle cx="159.21" cy="394.58" r="0.63" fill="#d00808" opacity="0.4"/><circle cx="159.4" cy="395.64" r="0.39" fill="#d00808" opacity="0.51"/><circle cx="147.91" cy="395.8" r="0.53" fill="#d00808" opacity="0.6"/><circle cx="162.85" cy="379.27" r="0.52" fill="#d00808" opacity="0.32"/><circle cx="162.05" cy="378.07" r="0.55" fill="#d00808" opacity="0.43"/><circle cx="150.98" cy="392.46" r="0.52" fill="#d00808" opacity="0.47"/><circle cx="166.86" cy="390.23" r="0.53" fill="#d00808" opacity="0.49"/><circle cx="160.95" cy="385.71" r="0.65" fill="#d00808" opacity="0.55"/><circle cx="151.38" cy="399.09" r="0.47" fill="#d00808" opacity="0.59"/><circle cx="165.75" cy="397.95" r="0.42" fill="#d00808" opacity="0.58"/><circle cx="147.96" cy="377.09" r="0.59" fill="#d00808" opacity="0.46"/><circle cx="159.56" cy="387.85" r="0.56" fill="#d00808" opacity="0.37"/><circle cx="159.29" cy="379.16" r="0.61" fill="#d00808" opacity="0.35"/></g></g>
<g clip-path="url(#cd021)"><g filter="url(#mot)"><g transform="rotate(0 190 345.5)"><ellipse cx="190" cy="345.5" rx="15" ry="10.5" fill="#1212b8" filter="url(#b06)"/><ellipse cx="190" cy="345.5" rx="12.8" ry="8.3" fill="#0a0a88" opacity="0.9" filter="url(#b15)"/><ellipse cx="188.62" cy="350.65" rx="2.15" ry="2.49" fill="#010126" opacity="0.62" filter="url(#b1)"/><ellipse cx="191.39" cy="341.37" rx="1.96" ry="2.32" fill="#1212b8" opacity="0.6" filter="url(#b1)"/><ellipse cx="195.3" cy="340.7" rx="3.1" ry="3.05" fill="#010126" opacity="0.62" filter="url(#b1)"/><ellipse cx="190.84" cy="343.55" rx="2.2" ry="1.34" fill="#1212b8" opacity="0.6" filter="url(#b1)"/><ellipse cx="194.59" cy="346.26" rx="3.73" ry="2.93" fill="#010126" opacity="0.62" filter="url(#b1)"/><ellipse cx="192.36" cy="347" rx="2.24" ry="2.39" fill="#1212b8" opacity="0.6" filter="url(#b1)"/><ellipse cx="182.66" cy="340.87" rx="2.14" ry="3.18" fill="#010126" opacity="0.62" filter="url(#b1)"/><ellipse cx="191.98" cy="350.46" rx="3.17" ry="2.22" fill="#1212b8" opacity="0.6" filter="url(#b1)"/><ellipse cx="192.52" cy="350.6" rx="2.86" ry="1.62" fill="#010126" opacity="0.62" filter="url(#b1)"/><ellipse cx="187.64" cy="348.13" rx="2.7" ry="1.59" fill="#1212b8" opacity="0.6" filter="url(#b1)"/><ellipse cx="183.64" cy="342.15" rx="2.36" ry="1.8" fill="#010126" opacity="0.62" filter="url(#b1)"/><ellipse cx="187.97" cy="341.67" rx="1.75" ry="1.36" fill="#1212b8" opacity="0.6" filter="url(#b1)"/></g><g transform="rotate(0 227.5 345)"><ellipse cx="227.5" cy="345" rx="15.5" ry="12.5" fill="#1212b8" filter="url(#b06)"/><ellipse cx="227.5" cy="345" rx="13.3" ry="10.3" fill="#0a0a88" opacity="0.9" filter="url(#b15)"/><ellipse cx="234.4" cy="342.82" rx="2.72" ry="1.91" fill="#010126" opacity="0.62" filter="url(#b1)"/><ellipse cx="235.69" cy="344.76" rx="2.9" ry="1.7" fill="#1212b8" opacity="0.6" filter="url(#b1)"/><ellipse cx="225.48" cy="349.1" rx="2.29" ry="2.61" fill="#010126" opacity="0.62" filter="url(#b1)"/><ellipse cx="219.11" cy="348.47" rx="2.28" ry="1.84" fill="#1212b8" opacity="0.6" filter="url(#b1)"/><ellipse cx="216.91" cy="344.67" rx="2.69" ry="2.73" fill="#010126" opacity="0.62" filter="url(#b1)"/><ellipse cx="228.17" cy="350.71" rx="2.04" ry="2.42" fill="#1212b8" opacity="0.6" filter="url(#b1)"/><ellipse cx="225.29" cy="352.67" rx="3.35" ry="2.33" fill="#010126" opacity="0.62" filter="url(#b1)"/><ellipse cx="232.32" cy="343.27" rx="2.91" ry="2.04" fill="#1212b8" opacity="0.6" filter="url(#b1)"/><ellipse cx="225.45" cy="345.56" rx="2.84" ry="2.05" fill="#010126" opacity="0.62" filter="url(#b1)"/><ellipse cx="217.51" cy="348.15" rx="2.06" ry="2.17" fill="#1212b8" opacity="0.6" filter="url(#b1)"/><ellipse cx="225.66" cy="342.23" rx="2.82" ry="1.81" fill="#010126" opacity="0.62" filter="url(#b1)"/><ellipse cx="230.63" cy="343.04" rx="2.3" ry="1.68" fill="#1212b8" opacity="0.6" filter="url(#b1)"/></g><g transform="rotate(0 194 377.5)"><ellipse cx="194" cy="377.5" rx="16" ry="14" fill="#1212b8" filter="url(#b06)"/><ellipse cx="194" cy="377.5" rx="13.8" ry="11.8" fill="#0a0a88" opacity="0.9" filter="url(#b15)"/><ellipse cx="198.28" cy="369.56" rx="3.18" ry="2.47" fill="#010126" opacity="0.62" filter="url(#b1)"/><ellipse cx="202.51" cy="382.87" rx="1.67" ry="1.71" fill="#1212b8" opacity="0.6" filter="url(#b1)"/><ellipse cx="187.82" cy="382.95" rx="3.34" ry="2.15" fill="#010126" opacity="0.62" filter="url(#b1)"/><ellipse cx="202.81" cy="371.71" rx="1.54" ry="2.09" fill="#1212b8" opacity="0.6" filter="url(#b1)"/><ellipse cx="188.91" cy="378.38" rx="2.93" ry="2.11" fill="#010126" opacity="0.62" filter="url(#b1)"/><ellipse cx="190.36" cy="371.66" rx="3.34" ry="2.57" fill="#1212b8" opacity="0.6" filter="url(#b1)"/><ellipse cx="199.51" cy="377.26" rx="3.66" ry="2.64" fill="#010126" opacity="0.62" filter="url(#b1)"/><ellipse cx="190.49" cy="367.92" rx="1.63" ry="1.85" fill="#1212b8" opacity="0.6" filter="url(#b1)"/><ellipse cx="187.41" cy="381.63" rx="2.44" ry="3.18" fill="#010126" opacity="0.62" filter="url(#b1)"/><ellipse cx="195.33" cy="381.96" rx="1.77" ry="1.75" fill="#1212b8" opacity="0.6" filter="url(#b1)"/><ellipse cx="193.87" cy="375.38" rx="2.33" ry="2.64" fill="#010126" opacity="0.62" filter="url(#b1)"/><ellipse cx="187.57" cy="372.04" rx="1.98" ry="2.34" fill="#1212b8" opacity="0.6" filter="url(#b1)"/></g><g transform="rotate(0 225.5 385)"><ellipse cx="225.5" cy="385" rx="15" ry="18.5" fill="#1212b8" filter="url(#b06)"/><ellipse cx="225.5" cy="385" rx="12.8" ry="16.3" fill="#0a0a88" opacity="0.9" filter="url(#b15)"/><ellipse cx="224.43" cy="374.33" rx="2.24" ry="2.35" fill="#010126" opacity="0.62" filter="url(#b1)"/><ellipse cx="234.95" cy="386.16" rx="3.29" ry="2.45" fill="#1212b8" opacity="0.6" filter="url(#b1)"/><ellipse cx="230.21" cy="385.89" rx="3.07" ry="2.45" fill="#010126" opacity="0.62" filter="url(#b1)"/><ellipse cx="232.27" cy="392.01" rx="2.07" ry="1.91" fill="#1212b8" opacity="0.6" filter="url(#b1)"/><ellipse cx="230.31" cy="390.9" rx="2.26" ry="1.74" fill="#010126" opacity="0.62" filter="url(#b1)"/><ellipse cx="221.28" cy="384.61" rx="2.98" ry="1.55" fill="#1212b8" opacity="0.6" filter="url(#b1)"/><ellipse cx="223.78" cy="386.28" rx="2.44" ry="2.32" fill="#010126" opacity="0.62" filter="url(#b1)"/><ellipse cx="220.1" cy="382.47" rx="3.12" ry="1.35" fill="#1212b8" opacity="0.6" filter="url(#b1)"/><ellipse cx="227.22" cy="382.06" rx="3.94" ry="2.44" fill="#010126" opacity="0.62" filter="url(#b1)"/><ellipse cx="219.52" cy="389.93" rx="3.14" ry="2.55" fill="#1212b8" opacity="0.6" filter="url(#b1)"/><ellipse cx="224.13" cy="386.02" rx="2.31" ry="2.91" fill="#010126" opacity="0.62" filter="url(#b1)"/><ellipse cx="224.69" cy="375.03" rx="1.8" ry="1.94" fill="#1212b8" opacity="0.6" filter="url(#b1)"/></g></g></g>
<g clip-path="url(#cd031)"><g filter="url(#b03)"><circle cx="288.17" cy="371.48" r="0.64" fill="#d00808" opacity="0.1"/><circle cx="283.08" cy="365.6" r="0.37" fill="#d00808" opacity="0.07"/><circle cx="298.3" cy="385.47" r="0.5" fill="#d00808" opacity="0.1"/><circle cx="298.37" cy="354.06" r="0.5" fill="#d00808" opacity="0.11"/><circle cx="269.23" cy="378.43" r="0.43" fill="#d00808" opacity="0.08"/><circle cx="264.42" cy="377.45" r="0.48" fill="#d00808" opacity="0.08"/></g></g>
<g clip-path="url(#cd100)"><g filter="url(#mot)"><g transform="rotate(0 343.7 305)"><ellipse cx="343.7" cy="305" rx="17" ry="17" fill="#0e0e9c" filter="url(#b06)"/><ellipse cx="343.7" cy="305" rx="14.8" ry="14.8" fill="#080874" opacity="0.9" filter="url(#b15)"/><ellipse cx="353.7" cy="308.22" rx="2.12" ry="2.44" fill="#010126" opacity="0.62" filter="url(#b1)"/><ellipse cx="338.05" cy="303.27" rx="1.92" ry="1.34" fill="#0e0e9c" opacity="0.6" filter="url(#b1)"/><ellipse cx="340.23" cy="308.62" rx="2.97" ry="1.97" fill="#010126" opacity="0.62" filter="url(#b1)"/><ellipse cx="343.66" cy="298.16" rx="1.52" ry="1.77" fill="#0e0e9c" opacity="0.6" filter="url(#b1)"/><ellipse cx="345.43" cy="304.62" rx="3.19" ry="3.14" fill="#010126" opacity="0.62" filter="url(#b1)"/><ellipse cx="338.39" cy="310.99" rx="2.2" ry="1.62" fill="#0e0e9c" opacity="0.6" filter="url(#b1)"/><ellipse cx="337.57" cy="300" rx="2.63" ry="2.4" fill="#010126" opacity="0.62" filter="url(#b1)"/><ellipse cx="334.1" cy="304.04" rx="1.6" ry="1.33" fill="#0e0e9c" opacity="0.6" filter="url(#b1)"/><ellipse cx="343.65" cy="309.55" rx="3.59" ry="2.28" fill="#010126" opacity="0.62" filter="url(#b1)"/><ellipse cx="347.48" cy="300.41" rx="2.04" ry="2.15" fill="#0e0e9c" opacity="0.6" filter="url(#b1)"/><ellipse cx="354.07" cy="311.17" rx="3.66" ry="2.13" fill="#010126" opacity="0.62" filter="url(#b1)"/><ellipse cx="339.46" cy="314.43" rx="3" ry="2.1" fill="#0e0e9c" opacity="0.6" filter="url(#b1)"/></g><g transform="rotate(-20 375.5 297.5)"><ellipse cx="375.5" cy="297.5" rx="15" ry="17.5" fill="#0e0e9c" filter="url(#b06)"/><ellipse cx="375.5" cy="297.5" rx="12.8" ry="15.3" fill="#080874" opacity="0.9" filter="url(#b15)"/><ellipse cx="383.56" cy="301" rx="2.1" ry="2.6" fill="#010126" opacity="0.62" filter="url(#b1)"/><ellipse cx="365.91" cy="293.72" rx="2.71" ry="1.23" fill="#0e0e9c" opacity="0.6" filter="url(#b1)"/><ellipse cx="383.28" cy="293.5" rx="3.16" ry="1.61" fill="#010126" opacity="0.62" filter="url(#b1)"/><ellipse cx="375.04" cy="291.23" rx="2.79" ry="2.58" fill="#0e0e9c" opacity="0.6" filter="url(#b1)"/><ellipse cx="377.4" cy="296.21" rx="3.56" ry="2.3" fill="#010126" opacity="0.62" filter="url(#b1)"/><ellipse cx="375.54" cy="291.65" rx="2.35" ry="1.81" fill="#0e0e9c" opacity="0.6" filter="url(#b1)"/><ellipse cx="378.8" cy="301.02" rx="3.47" ry="1.71" fill="#010126" opacity="0.62" filter="url(#b1)"/><ellipse cx="382.41" cy="304.68" rx="2.77" ry="1.97" fill="#0e0e9c" opacity="0.6" filter="url(#b1)"/><ellipse cx="377.47" cy="299.48" rx="2.62" ry="3.13" fill="#010126" opacity="0.62" filter="url(#b1)"/><ellipse cx="366.13" cy="293.18" rx="1.9" ry="1.78" fill="#0e0e9c" opacity="0.6" filter="url(#b1)"/><ellipse cx="366.43" cy="295.06" rx="2.25" ry="3" fill="#010126" opacity="0.62" filter="url(#b1)"/><ellipse cx="373.74" cy="297.86" rx="2.32" ry="1.73" fill="#0e0e9c" opacity="0.6" filter="url(#b1)"/></g></g></g>
<g clip-path="url(#cd100)"><g filter="url(#b03)"><circle cx="337.5" cy="293.02" r="0.56" fill="#c0103a" opacity="0.47"/><circle cx="344.5" cy="300.53" r="0.4" fill="#c0103a" opacity="0.55"/><circle cx="346.15" cy="312.87" r="0.45" fill="#c0103a" opacity="0.55"/><circle cx="335.04" cy="303.92" r="0.6" fill="#c0103a" opacity="0.46"/><circle cx="335.3" cy="300.14" r="0.45" fill="#c0103a" opacity="0.6"/><circle cx="344.44" cy="312.12" r="0.52" fill="#c0103a" opacity="0.42"/><circle cx="355.4" cy="309.99" r="0.56" fill="#c0103a" opacity="0.49"/><circle cx="335.95" cy="297.96" r="0.62" fill="#c0103a" opacity="0.5"/><circle cx="336.99" cy="305.57" r="0.38" fill="#c0103a" opacity="0.44"/><circle cx="345.2" cy="302.85" r="0.52" fill="#c0103a" opacity="0.54"/><circle cx="340.99" cy="309.73" r="0.58" fill="#c0103a" opacity="0.64"/><circle cx="353.84" cy="312.14" r="0.41" fill="#c0103a" opacity="0.53"/><circle cx="339.94" cy="301.91" r="0.52" fill="#c0103a" opacity="0.68"/><circle cx="354.01" cy="299.62" r="0.64" fill="#c0103a" opacity="0.61"/><circle cx="340.42" cy="317.54" r="0.43" fill="#c0103a" opacity="0.42"/><circle cx="353.88" cy="306.31" r="0.44" fill="#c0103a" opacity="0.42"/><circle cx="350.31" cy="312.17" r="0.44" fill="#c0103a" opacity="0.43"/><circle cx="330.63" cy="304.26" r="0.61" fill="#c0103a" opacity="0.66"/><circle cx="335.71" cy="298.47" r="0.51" fill="#c0103a" opacity="0.58"/><circle cx="354.46" cy="298.98" r="0.37" fill="#c0103a" opacity="0.69"/><circle cx="335.63" cy="314.45" r="0.49" fill="#c0103a" opacity="0.47"/><circle cx="341.9" cy="291.52" r="0.52" fill="#c0103a" opacity="0.46"/><circle cx="345.23" cy="318.56" r="0.79" fill="#f41818" opacity="0.99"/><circle cx="355.67" cy="310.79" r="0.76" fill="#f41818" opacity="0.84"/><circle cx="351.47" cy="304.43" r="0.37" fill="#c0103a" opacity="0.58"/><circle cx="345.9" cy="306" r="0.64" fill="#c0103a" opacity="0.59"/><circle cx="351.29" cy="295.19" r="0.37" fill="#c0103a" opacity="0.53"/><circle cx="347.77" cy="314.31" r="0.5" fill="#c0103a" opacity="0.39"/><circle cx="341.16" cy="296.32" r="0.37" fill="#c0103a" opacity="0.51"/><circle cx="330.78" cy="300.14" r="0.39" fill="#c0103a" opacity="0.44"/><circle cx="337.7" cy="315.08" r="0.64" fill="#c0103a" opacity="0.7"/><circle cx="355.25" cy="299.1" r="0.36" fill="#c0103a" opacity="0.51"/><circle cx="333.93" cy="298.77" r="0.53" fill="#c0103a" opacity="0.69"/><circle cx="352.34" cy="310.21" r="0.36" fill="#c0103a" opacity="0.36"/><circle cx="383.46" cy="287.43" r="0.7" fill="#f41818" opacity="0.98"/><circle cx="372.22" cy="288.16" r="0.58" fill="#c0103a" opacity="0.61"/><circle cx="378.63" cy="297.52" r="0.64" fill="#c0103a" opacity="0.62"/><circle cx="369.69" cy="301.96" r="0.35" fill="#c0103a" opacity="0.59"/><circle cx="374.8" cy="308.18" r="0.45" fill="#c0103a" opacity="0.56"/><circle cx="369.92" cy="299.4" r="0.4" fill="#c0103a" opacity="0.35"/><circle cx="375.33" cy="307.19" r="0.45" fill="#c0103a" opacity="0.39"/><circle cx="372.03" cy="291.62" r="0.43" fill="#c0103a" opacity="0.63"/><circle cx="377.82" cy="303.68" r="0.45" fill="#c0103a" opacity="0.58"/><circle cx="370.58" cy="286.45" r="0.37" fill="#c0103a" opacity="0.59"/><circle cx="375.7" cy="304.03" r="0.65" fill="#c0103a" opacity="0.44"/><circle cx="368.41" cy="307.99" r="0.47" fill="#c0103a" opacity="0.35"/><circle cx="378.09" cy="285.49" r="0.59" fill="#c0103a" opacity="0.44"/><circle cx="373.37" cy="307.99" r="0.49" fill="#c0103a" opacity="0.61"/><circle cx="383.94" cy="298.36" r="0.37" fill="#c0103a" opacity="0.65"/><circle cx="378.88" cy="302.48" r="0.64" fill="#c0103a" opacity="0.65"/><circle cx="369.19" cy="308.82" r="0.56" fill="#c0103a" opacity="0.66"/><circle cx="377.06" cy="302.33" r="0.61" fill="#c0103a" opacity="0.58"/><circle cx="383.17" cy="294.52" r="0.39" fill="#c0103a" opacity="0.4"/><circle cx="378.47" cy="296.09" r="0.45" fill="#c0103a" opacity="0.32"/><circle cx="373.71" cy="303.11" r="0.51" fill="#c0103a" opacity="0.5"/><circle cx="365.95" cy="292.48" r="0.63" fill="#c0103a" opacity="0.33"/></g></g>
<g clip-path="url(#cd110)"><ellipse cx="413.5" cy="305" rx="13.6" ry="13.6" fill="#6a0000" opacity="0.25" filter="url(#b4)"/><ellipse cx="445" cy="297.5" rx="11.9" ry="13.6" fill="#6a0000" opacity="0.25" filter="url(#b4)"/><g filter="url(#b03)"><circle cx="414.25" cy="309.37" r="0.58" fill="#d00808" opacity="0.73"/><circle cx="407.09" cy="304.86" r="0.52" fill="#d00808" opacity="0.46"/><circle cx="417.65" cy="289.78" r="0.53" fill="#d00808" opacity="0.69"/><circle cx="406.68" cy="306.53" r="0.64" fill="#d00808" opacity="0.34"/><circle cx="414.28" cy="294.9" r="0.75" fill="#f41818" opacity="0.9"/><circle cx="412.85" cy="297.67" r="0.77" fill="#f41818" opacity="1"/><circle cx="400.57" cy="305.09" r="0.4" fill="#d00808" opacity="0.34"/><circle cx="412.41" cy="308.07" r="0.54" fill="#d00808" opacity="0.49"/><circle cx="401.05" cy="307.16" r="0.46" fill="#d00808" opacity="0.71"/><circle cx="404.47" cy="299.98" r="0.49" fill="#d00808" opacity="0.47"/><circle cx="420.11" cy="300.99" r="0.61" fill="#d00808" opacity="0.71"/><circle cx="419.46" cy="314.73" r="0.44" fill="#d00808" opacity="0.41"/><circle cx="412.19" cy="297.35" r="0.4" fill="#d00808" opacity="0.74"/><circle cx="412.45" cy="309.87" r="0.45" fill="#d00808" opacity="0.57"/><circle cx="398.13" cy="305.29" r="0.46" fill="#d00808" opacity="0.33"/><circle cx="405.2" cy="305.2" r="0.54" fill="#d00808" opacity="0.53"/><circle cx="423.03" cy="311.04" r="0.54" fill="#d00808" opacity="0.75"/><circle cx="411.51" cy="315.46" r="0.94" fill="#f41818" opacity="0.92"/><circle cx="420.28" cy="292.42" r="0.62" fill="#d00808" opacity="0.55"/><circle cx="402.84" cy="310.35" r="0.5" fill="#d00808" opacity="0.54"/><circle cx="409.81" cy="319.2" r="0.45" fill="#d00808" opacity="0.42"/><circle cx="416.68" cy="319.26" r="0.64" fill="#d00808" opacity="0.72"/><circle cx="407.81" cy="291.9" r="0.59" fill="#d00808" opacity="0.68"/><circle cx="419.96" cy="317.91" r="0.42" fill="#d00808" opacity="0.73"/><circle cx="424.83" cy="306.64" r="0.59" fill="#d00808" opacity="0.59"/><circle cx="426.58" cy="296.77" r="0.37" fill="#d00808" opacity="0.62"/><circle cx="425.76" cy="315.06" r="0.44" fill="#d00808" opacity="0.41"/><circle cx="408.69" cy="291.93" r="0.54" fill="#d00808" opacity="0.39"/><circle cx="412.93" cy="301.17" r="0.58" fill="#d00808" opacity="0.67"/><circle cx="421.94" cy="296.37" r="0.54" fill="#d00808" opacity="0.54"/><circle cx="406.39" cy="311.32" r="0.75" fill="#f41818" opacity="1"/><circle cx="415.23" cy="317.82" r="0.56" fill="#d00808" opacity="0.55"/><circle cx="410.14" cy="312.65" r="0.89" fill="#f41818" opacity="1"/><circle cx="422.09" cy="301.71" r="0.62" fill="#d00808" opacity="0.46"/><circle cx="425.51" cy="301.23" r="0.58" fill="#d00808" opacity="0.47"/><circle cx="411.39" cy="316.37" r="0.36" fill="#d00808" opacity="0.7"/><circle cx="402.76" cy="302.59" r="0.42" fill="#d00808" opacity="0.42"/><circle cx="406.62" cy="301.19" r="0.37" fill="#d00808" opacity="0.35"/><circle cx="406.37" cy="314.17" r="0.54" fill="#d00808" opacity="0.51"/><circle cx="407.04" cy="309.3" r="0.64" fill="#d00808" opacity="0.38"/><circle cx="401.42" cy="310.43" r="0.52" fill="#d00808" opacity="0.61"/><circle cx="427.56" cy="299.22" r="0.51" fill="#d00808" opacity="0.76"/><circle cx="406.64" cy="303.8" r="0.37" fill="#d00808" opacity="0.4"/><circle cx="405.57" cy="302.37" r="0.57" fill="#d00808" opacity="0.47"/><circle cx="414.84" cy="292.19" r="0.49" fill="#d00808" opacity="0.52"/><circle cx="422.15" cy="311.84" r="0.62" fill="#d00808" opacity="0.36"/><circle cx="420.99" cy="308.58" r="0.48" fill="#d00808" opacity="0.39"/><circle cx="402.69" cy="310.47" r="0.47" fill="#d00808" opacity="0.61"/><circle cx="408.22" cy="293.61" r="0.91" fill="#f41818" opacity="0.89"/><circle cx="423.87" cy="308.71" r="0.72" fill="#f41818" opacity="0.97"/><circle cx="408.4" cy="306.03" r="0.61" fill="#d00808" opacity="0.54"/><circle cx="405.84" cy="300.3" r="0.39" fill="#d00808" opacity="0.46"/><circle cx="416.21" cy="319.64" r="0.47" fill="#d00808" opacity="0.5"/><circle cx="419.64" cy="299.69" r="0.56" fill="#d00808" opacity="0.52"/><circle cx="406.48" cy="312.91" r="0.44" fill="#d00808" opacity="0.6"/><circle cx="406.03" cy="309.68" r="0.49" fill="#d00808" opacity="0.53"/><circle cx="421.32" cy="297.57" r="0.62" fill="#d00808" opacity="0.75"/><circle cx="415.73" cy="295.11" r="0.57" fill="#d00808" opacity="0.46"/><circle cx="410.93" cy="289.62" r="0.55" fill="#d00808" opacity="0.52"/><circle cx="409.15" cy="298.76" r="0.51" fill="#d00808" opacity="0.75"/><circle cx="406.16" cy="316.33" r="0.82" fill="#f41818" opacity="1"/><circle cx="412.76" cy="317.51" r="0.47" fill="#d00808" opacity="0.76"/><circle cx="418.54" cy="319.43" r="0.87" fill="#f41818" opacity="1"/><circle cx="418.7" cy="296.45" r="0.56" fill="#d00808" opacity="0.66"/><circle cx="413.21" cy="292.83" r="0.56" fill="#d00808" opacity="0.57"/><circle cx="398.21" cy="300.66" r="0.93" fill="#f41818" opacity="0.95"/><circle cx="411.18" cy="289.58" r="0.52" fill="#d00808" opacity="0.56"/><circle cx="406.96" cy="305.21" r="0.62" fill="#d00808" opacity="0.62"/><circle cx="410.02" cy="318.94" r="0.39" fill="#d00808" opacity="0.59"/><circle cx="402.22" cy="307.89" r="0.52" fill="#d00808" opacity="0.74"/><circle cx="405.13" cy="316.15" r="0.79" fill="#f41818" opacity="1"/><circle cx="408.13" cy="291.46" r="0.43" fill="#d00808" opacity="0.49"/><circle cx="411.08" cy="304.43" r="0.55" fill="#d00808" opacity="0.4"/><circle cx="407.91" cy="318.86" r="0.42" fill="#d00808" opacity="0.41"/><circle cx="416.96" cy="308.16" r="0.57" fill="#d00808" opacity="0.45"/><circle cx="400.19" cy="305.93" r="0.95" fill="#f41818" opacity="1"/><circle cx="416.74" cy="318.02" r="0.45" fill="#d00808" opacity="0.71"/><circle cx="415.68" cy="315.8" r="0.48" fill="#d00808" opacity="0.68"/><circle cx="402.19" cy="299.71" r="0.42" fill="#d00808" opacity="0.43"/><circle cx="408.96" cy="300.77" r="0.45" fill="#d00808" opacity="0.52"/><circle cx="400.29" cy="311.12" r="0.55" fill="#d00808" opacity="0.41"/><circle cx="405.26" cy="315.63" r="0.61" fill="#d00808" opacity="0.71"/><circle cx="414.93" cy="314.55" r="0.57" fill="#d00808" opacity="0.35"/><circle cx="412.15" cy="301.23" r="0.51" fill="#d00808" opacity="0.58"/><circle cx="416.28" cy="306.89" r="0.65" fill="#d00808" opacity="0.59"/><circle cx="447.26" cy="294.44" r="0.7" fill="#f41818" opacity="0.94"/><circle cx="448.27" cy="304.97" r="0.56" fill="#d00808" opacity="0.42"/><circle cx="437.63" cy="299.26" r="0.46" fill="#d00808" opacity="0.44"/><circle cx="445.06" cy="306.15" r="0.35" fill="#d00808" opacity="0.42"/><circle cx="438.92" cy="292.98" r="0.83" fill="#f41818" opacity="0.88"/><circle cx="437.2" cy="296.85" r="0.58" fill="#d00808" opacity="0.54"/><circle cx="438.7" cy="286.3" r="0.47" fill="#d00808" opacity="0.45"/><circle cx="435.42" cy="297.23" r="0.51" fill="#d00808" opacity="0.6"/><circle cx="450.16" cy="292.75" r="0.75" fill="#f41818" opacity="0.77"/><circle cx="448.14" cy="285.42" r="0.41" fill="#d00808" opacity="0.63"/><circle cx="450.94" cy="286.14" r="0.57" fill="#d00808" opacity="0.47"/><circle cx="436.69" cy="304.66" r="0.65" fill="#d00808" opacity="0.65"/><circle cx="446.94" cy="293.74" r="0.64" fill="#d00808" opacity="0.51"/><circle cx="437.24" cy="296.69" r="0.51" fill="#d00808" opacity="0.68"/><circle cx="457.41" cy="304.79" r="0.72" fill="#f41818" opacity="0.86"/><circle cx="442.01" cy="293.42" r="0.63" fill="#d00808" opacity="0.46"/><circle cx="445.81" cy="285.23" r="0.4" fill="#d00808" opacity="0.47"/><circle cx="454.3" cy="289.77" r="0.48" fill="#d00808" opacity="0.51"/><circle cx="439.49" cy="307.91" r="0.36" fill="#d00808" opacity="0.38"/><circle cx="441.4" cy="291.34" r="0.81" fill="#f41818" opacity="0.85"/><circle cx="455.09" cy="294.33" r="0.8" fill="#f41818" opacity="0.83"/><circle cx="449.66" cy="284.97" r="0.37" fill="#d00808" opacity="0.31"/><circle cx="446.54" cy="291.77" r="0.36" fill="#d00808" opacity="0.36"/><circle cx="431.49" cy="300.11" r="0.43" fill="#d00808" opacity="0.61"/><circle cx="449.47" cy="309.18" r="0.63" fill="#d00808" opacity="0.31"/><circle cx="437.01" cy="293.69" r="0.43" fill="#d00808" opacity="0.57"/><circle cx="448.9" cy="307.84" r="0.42" fill="#d00808" opacity="0.4"/><circle cx="454.97" cy="290.96" r="0.73" fill="#f41818" opacity="0.83"/><circle cx="441.82" cy="311.75" r="0.64" fill="#d00808" opacity="0.55"/><circle cx="438.97" cy="290.39" r="0.5" fill="#d00808" opacity="0.32"/><circle cx="436.34" cy="298.01" r="0.36" fill="#d00808" opacity="0.31"/><circle cx="453.48" cy="296.42" r="0.39" fill="#d00808" opacity="0.52"/><circle cx="450.1" cy="294.01" r="0.5" fill="#d00808" opacity="0.59"/><circle cx="438.72" cy="294.4" r="0.81" fill="#f41818" opacity="0.78"/><circle cx="446.68" cy="295.3" r="0.77" fill="#f41818" opacity="0.98"/><circle cx="436.15" cy="288.08" r="0.57" fill="#d00808" opacity="0.32"/><circle cx="447.44" cy="292.02" r="0.71" fill="#f41818" opacity="0.77"/><circle cx="451.17" cy="290.58" r="0.71" fill="#f41818" opacity="0.98"/><circle cx="434.22" cy="288.4" r="0.72" fill="#f41818" opacity="0.84"/><circle cx="446.7" cy="302.49" r="0.54" fill="#d00808" opacity="0.36"/><circle cx="450.02" cy="307.71" r="0.39" fill="#d00808" opacity="0.51"/><circle cx="436.29" cy="297.02" r="0.36" fill="#d00808" opacity="0.53"/><circle cx="447.83" cy="306.19" r="0.83" fill="#f41818" opacity="0.91"/><circle cx="436.98" cy="304.89" r="0.39" fill="#d00808" opacity="0.44"/><circle cx="442.76" cy="288.08" r="0.62" fill="#d00808" opacity="0.31"/><circle cx="443.38" cy="305.96" r="0.59" fill="#d00808" opacity="0.57"/><circle cx="450.36" cy="294.34" r="0.61" fill="#d00808" opacity="0.59"/><circle cx="455.53" cy="307.79" r="0.61" fill="#d00808" opacity="0.44"/><circle cx="434.18" cy="287.89" r="0.52" fill="#d00808" opacity="0.64"/><circle cx="457.82" cy="297.36" r="0.64" fill="#d00808" opacity="0.35"/><circle cx="436.36" cy="304.35" r="0.82" fill="#f41818" opacity="0.78"/><circle cx="439.88" cy="291.39" r="0.53" fill="#d00808" opacity="0.37"/><circle cx="432.74" cy="302.32" r="0.43" fill="#d00808" opacity="0.44"/><circle cx="442.88" cy="290.97" r="0.41" fill="#d00808" opacity="0.51"/><circle cx="444.75" cy="297.95" r="0.7" fill="#f41818" opacity="0.85"/></g></g>
<g clip-path="url(#cd120)"><g filter="url(#mot)"><g transform="rotate(20 478.7 297.5)"><ellipse cx="478.7" cy="297.5" rx="15" ry="18.5" fill="#1717d8" filter="url(#b06)"/><ellipse cx="478.7" cy="297.5" rx="12.8" ry="16.3" fill="#0b0b94" opacity="0.9" filter="url(#b15)"/><ellipse cx="477.02" cy="310.56" rx="3.28" ry="1.7" fill="#010126" opacity="0.62" filter="url(#b1)"/><ellipse cx="477.92" cy="293.09" rx="2.41" ry="2.21" fill="#1717d8" opacity="0.6" filter="url(#b1)"/><ellipse cx="485.01" cy="287.62" rx="2.84" ry="2.11" fill="#010126" opacity="0.62" filter="url(#b1)"/><ellipse cx="475.18" cy="300.77" rx="2.91" ry="1.85" fill="#1717d8" opacity="0.6" filter="url(#b1)"/><ellipse cx="477.55" cy="294.2" rx="3.57" ry="3.15" fill="#010126" opacity="0.62" filter="url(#b1)"/><ellipse cx="480.81" cy="306.03" rx="1.81" ry="1.25" fill="#1717d8" opacity="0.6" filter="url(#b1)"/><ellipse cx="475.95" cy="299.54" rx="3.46" ry="2.52" fill="#010126" opacity="0.62" filter="url(#b1)"/><ellipse cx="473.88" cy="285.99" rx="1.61" ry="1.34" fill="#1717d8" opacity="0.6" filter="url(#b1)"/><ellipse cx="484.33" cy="299.09" rx="3.65" ry="2.69" fill="#010126" opacity="0.62" filter="url(#b1)"/><ellipse cx="469.66" cy="294.07" rx="2.21" ry="1.36" fill="#1717d8" opacity="0.6" filter="url(#b1)"/><ellipse cx="477.6" cy="295.84" rx="2.46" ry="1.65" fill="#010126" opacity="0.62" filter="url(#b1)"/><ellipse cx="479.8" cy="299.69" rx="2.51" ry="1.38" fill="#1717d8" opacity="0.6" filter="url(#b1)"/></g><g transform="rotate(-15 516 285)"><ellipse cx="516" cy="285" rx="16.5" ry="14.5" fill="#1717d8" filter="url(#b06)"/><ellipse cx="516" cy="285" rx="14.3" ry="12.3" fill="#0b0b94" opacity="0.9" filter="url(#b15)"/><ellipse cx="507.96" cy="279.65" rx="2.69" ry="1.79" fill="#010126" opacity="0.62" filter="url(#b1)"/><ellipse cx="511.66" cy="277.97" rx="3.18" ry="1.98" fill="#1717d8" opacity="0.6" filter="url(#b1)"/><ellipse cx="506.87" cy="280.47" rx="3.35" ry="3.16" fill="#010126" opacity="0.62" filter="url(#b1)"/><ellipse cx="513.8" cy="293.19" rx="2.7" ry="1.86" fill="#1717d8" opacity="0.6" filter="url(#b1)"/><ellipse cx="522.51" cy="285.39" rx="2.53" ry="2.56" fill="#010126" opacity="0.62" filter="url(#b1)"/><ellipse cx="509.14" cy="284.65" rx="1.61" ry="1.38" fill="#1717d8" opacity="0.6" filter="url(#b1)"/><ellipse cx="509.24" cy="280.29" rx="3.98" ry="2.87" fill="#010126" opacity="0.62" filter="url(#b1)"/><ellipse cx="514.43" cy="290.37" rx="2.46" ry="2.33" fill="#1717d8" opacity="0.6" filter="url(#b1)"/><ellipse cx="507.28" cy="290.99" rx="2.97" ry="2.24" fill="#010126" opacity="0.62" filter="url(#b1)"/><ellipse cx="510.74" cy="285.6" rx="3.4" ry="1.26" fill="#1717d8" opacity="0.6" filter="url(#b1)"/><ellipse cx="514.01" cy="286.28" rx="3.36" ry="1.84" fill="#010126" opacity="0.62" filter="url(#b1)"/><ellipse cx="519.54" cy="289.23" rx="2.64" ry="2.27" fill="#1717d8" opacity="0.6" filter="url(#b1)"/></g><g transform="rotate(-10 496.5 319.5)"><ellipse cx="496.5" cy="319.5" rx="18.5" ry="13" fill="#1717d8" filter="url(#b06)"/><ellipse cx="496.5" cy="319.5" rx="16.3" ry="10.8" fill="#0b0b94" opacity="0.9" filter="url(#b15)"/><ellipse cx="491.58" cy="320.76" rx="2.74" ry="3.02" fill="#010126" opacity="0.62" filter="url(#b1)"/><ellipse cx="496.95" cy="320.85" rx="3.18" ry="1.88" fill="#1717d8" opacity="0.6" filter="url(#b1)"/><ellipse cx="498.8" cy="321.27" rx="3.78" ry="2.8" fill="#010126" opacity="0.62" filter="url(#b1)"/><ellipse cx="505.32" cy="322.15" rx="1.91" ry="1.82" fill="#1717d8" opacity="0.6" filter="url(#b1)"/><ellipse cx="494.57" cy="318.45" rx="3.87" ry="2.14" fill="#010126" opacity="0.62" filter="url(#b1)"/><ellipse cx="503.18" cy="325.46" rx="1.71" ry="1.25" fill="#1717d8" opacity="0.6" filter="url(#b1)"/><ellipse cx="492.3" cy="315.35" rx="3.8" ry="2.87" fill="#010126" opacity="0.62" filter="url(#b1)"/><ellipse cx="497.14" cy="321.1" rx="2.65" ry="1.86" fill="#1717d8" opacity="0.6" filter="url(#b1)"/><ellipse cx="492.61" cy="327.75" rx="2.42" ry="2.63" fill="#010126" opacity="0.62" filter="url(#b1)"/><ellipse cx="507.64" cy="323.39" rx="3.3" ry="2.07" fill="#1717d8" opacity="0.6" filter="url(#b1)"/><ellipse cx="492.17" cy="325.95" rx="3.81" ry="2.87" fill="#010126" opacity="0.62" filter="url(#b1)"/><ellipse cx="503.88" cy="320.86" rx="1.77" ry="1.96" fill="#1717d8" opacity="0.6" filter="url(#b1)"/></g><g transform="rotate(0 526 338.5)"><ellipse cx="526" cy="338.5" rx="8" ry="5" fill="#1717d8" filter="url(#b06)"/><ellipse cx="526" cy="338.5" rx="5.8" ry="2.8" fill="#0b0b94" opacity="0.9" filter="url(#b15)"/><ellipse cx="530.84" cy="337.51" rx="2.5" ry="2.48" fill="#010126" opacity="0.62" filter="url(#b1)"/><ellipse cx="525.33" cy="339.43" rx="2.91" ry="2.26" fill="#1717d8" opacity="0.6" filter="url(#b1)"/><ellipse cx="524.51" cy="340.04" rx="3.39" ry="2.76" fill="#010126" opacity="0.62" filter="url(#b1)"/><ellipse cx="524.65" cy="338.7" rx="1.68" ry="1.44" fill="#1717d8" opacity="0.6" filter="url(#b1)"/><ellipse cx="527.5" cy="336.69" rx="3.29" ry="2.18" fill="#010126" opacity="0.62" filter="url(#b1)"/><ellipse cx="524.86" cy="339.27" rx="3.35" ry="2.05" fill="#1717d8" opacity="0.6" filter="url(#b1)"/><ellipse cx="528.96" cy="340.44" rx="3.2" ry="2.58" fill="#010126" opacity="0.62" filter="url(#b1)"/><ellipse cx="526.47" cy="336.13" rx="3.17" ry="2.56" fill="#1717d8" opacity="0.6" filter="url(#b1)"/><ellipse cx="522.66" cy="339.89" rx="2.75" ry="2.26" fill="#010126" opacity="0.62" filter="url(#b1)"/><ellipse cx="523.33" cy="340.37" rx="2.17" ry="1.69" fill="#1717d8" opacity="0.6" filter="url(#b1)"/><ellipse cx="528.71" cy="336.05" rx="3.35" ry="2.95" fill="#010126" opacity="0.62" filter="url(#b1)"/><ellipse cx="522.99" cy="340.14" rx="1.98" ry="1.64" fill="#1717d8" opacity="0.6" filter="url(#b1)"/></g></g></g>
<g clip-path="url(#cd120)"><g filter="url(#b03)"><circle cx="515.02" cy="315.2" r="0.44" fill="#e0102a" opacity="0.42"/><circle cx="503.99" cy="308.32" r="0.62" fill="#e0102a" opacity="0.31"/><circle cx="496.39" cy="323.77" r="0.61" fill="#e0102a" opacity="0.41"/><circle cx="485.93" cy="303.88" r="0.48" fill="#e0102a" opacity="0.38"/><circle cx="496.42" cy="297.7" r="0.59" fill="#e0102a" opacity="0.4"/></g></g>
<g clip-path="url(#cd130)"><ellipse cx="552" cy="300" rx="11.9" ry="13.6" fill="#6a0000" opacity="0.16" filter="url(#b4)"/><ellipse cx="585" cy="288" rx="12.75" ry="11.9" fill="#6a0000" opacity="0.16" filter="url(#b4)"/><ellipse cx="570" cy="322" rx="15.3" ry="9.35" fill="#6a0000" opacity="0.16" filter="url(#b4)"/><g filter="url(#b06)"><circle cx="553.74" cy="305.17" r="0.94" fill="#f41818" opacity="0.65"/><circle cx="561.38" cy="301.02" r="0.45" fill="#d00808" opacity="0.22"/><circle cx="544.69" cy="304.54" r="0.46" fill="#d00808" opacity="0.46"/><circle cx="559.15" cy="291.04" r="0.59" fill="#d00808" opacity="0.23"/><circle cx="547.91" cy="298.25" r="0.82" fill="#f41818" opacity="0.57"/><circle cx="562.63" cy="299.35" r="0.64" fill="#d00808" opacity="0.41"/><circle cx="546.12" cy="291.29" r="0.55" fill="#d00808" opacity="0.25"/><circle cx="543.15" cy="298.09" r="0.56" fill="#d00808" opacity="0.4"/><circle cx="540.73" cy="293.99" r="0.38" fill="#d00808" opacity="0.25"/><circle cx="557.36" cy="301.87" r="0.44" fill="#d00808" opacity="0.33"/><circle cx="541.73" cy="302.61" r="0.58" fill="#d00808" opacity="0.3"/><circle cx="559.07" cy="288.15" r="0.86" fill="#f41818" opacity="0.56"/><circle cx="554.74" cy="297.18" r="0.58" fill="#d00808" opacity="0.37"/><circle cx="547.5" cy="291.1" r="0.41" fill="#d00808" opacity="0.33"/><circle cx="551.48" cy="313.14" r="0.39" fill="#d00808" opacity="0.26"/><circle cx="541.55" cy="297.52" r="1" fill="#f41818" opacity="0.69"/><circle cx="547.94" cy="304.38" r="0.64" fill="#d00808" opacity="0.26"/><circle cx="552.45" cy="285.54" r="0.41" fill="#d00808" opacity="0.24"/><circle cx="555.45" cy="306.61" r="0.62" fill="#d00808" opacity="0.34"/><circle cx="557.79" cy="306.82" r="0.54" fill="#d00808" opacity="0.4"/><circle cx="553.49" cy="289.56" r="0.49" fill="#d00808" opacity="0.31"/><circle cx="540.87" cy="303.71" r="0.45" fill="#d00808" opacity="0.36"/><circle cx="553.83" cy="302.69" r="0.46" fill="#d00808" opacity="0.22"/><circle cx="560.02" cy="305" r="0.6" fill="#d00808" opacity="0.22"/><circle cx="548.55" cy="308.88" r="0.39" fill="#d00808" opacity="0.37"/><circle cx="556.57" cy="291.61" r="0.38" fill="#d00808" opacity="0.21"/><circle cx="552.63" cy="292.35" r="0.59" fill="#d00808" opacity="0.23"/><circle cx="554.95" cy="308.33" r="0.57" fill="#d00808" opacity="0.29"/><circle cx="544.04" cy="302.85" r="0.59" fill="#d00808" opacity="0.28"/><circle cx="556.95" cy="285.73" r="0.64" fill="#d00808" opacity="0.46"/><circle cx="558.63" cy="314.01" r="0.59" fill="#d00808" opacity="0.24"/><circle cx="548.98" cy="310.06" r="0.55" fill="#d00808" opacity="0.27"/><circle cx="562.41" cy="291.05" r="0.37" fill="#d00808" opacity="0.29"/><circle cx="549.62" cy="309.99" r="0.53" fill="#d00808" opacity="0.43"/><circle cx="591.7" cy="291" r="0.45" fill="#d00808" opacity="0.27"/><circle cx="588.12" cy="289.22" r="0.51" fill="#d00808" opacity="0.32"/><circle cx="577.57" cy="285.01" r="0.9" fill="#f41818" opacity="0.6"/><circle cx="575.8" cy="288.48" r="0.37" fill="#d00808" opacity="0.29"/><circle cx="583.49" cy="292.53" r="0.84" fill="#f41818" opacity="0.54"/><circle cx="591.5" cy="282.19" r="0.51" fill="#d00808" opacity="0.22"/><circle cx="595.69" cy="295.38" r="0.5" fill="#d00808" opacity="0.3"/><circle cx="585.06" cy="278.07" r="0.6" fill="#d00808" opacity="0.45"/><circle cx="583.11" cy="276.64" r="0.51" fill="#d00808" opacity="0.37"/><circle cx="571.59" cy="286.02" r="0.37" fill="#d00808" opacity="0.41"/><circle cx="576.34" cy="280.79" r="0.36" fill="#d00808" opacity="0.34"/><circle cx="574.66" cy="297.63" r="0.52" fill="#d00808" opacity="0.25"/><circle cx="585.23" cy="278.21" r="0.44" fill="#d00808" opacity="0.45"/><circle cx="592.1" cy="288.29" r="0.61" fill="#d00808" opacity="0.42"/><circle cx="584.33" cy="291.93" r="0.57" fill="#d00808" opacity="0.23"/><circle cx="594.98" cy="283.92" r="0.84" fill="#f41818" opacity="0.6"/><circle cx="596.19" cy="296.03" r="0.39" fill="#d00808" opacity="0.33"/><circle cx="583.21" cy="299.36" r="0.45" fill="#d00808" opacity="0.32"/><circle cx="575.25" cy="289.59" r="0.63" fill="#d00808" opacity="0.46"/><circle cx="596.39" cy="280.96" r="0.42" fill="#d00808" opacity="0.33"/><circle cx="577.73" cy="279.47" r="0.65" fill="#d00808" opacity="0.29"/><circle cx="589.49" cy="288.51" r="0.57" fill="#d00808" opacity="0.44"/><circle cx="592.05" cy="289.77" r="0.59" fill="#d00808" opacity="0.45"/><circle cx="584.6" cy="292.46" r="0.64" fill="#d00808" opacity="0.4"/><circle cx="572.23" cy="290.09" r="0.5" fill="#d00808" opacity="0.28"/><circle cx="572.94" cy="286.23" r="0.54" fill="#d00808" opacity="0.25"/><circle cx="591.78" cy="286.81" r="0.64" fill="#d00808" opacity="0.47"/><circle cx="597.25" cy="282.16" r="0.6" fill="#d00808" opacity="0.36"/><circle cx="596.46" cy="293.39" r="0.6" fill="#d00808" opacity="0.22"/><circle cx="596.88" cy="292.49" r="0.62" fill="#d00808" opacity="0.48"/><circle cx="573.36" cy="291.78" r="0.56" fill="#d00808" opacity="0.31"/><circle cx="582.49" cy="285.2" r="0.57" fill="#d00808" opacity="0.43"/><circle cx="578.4" cy="289.5" r="0.55" fill="#d00808" opacity="0.36"/><circle cx="585.71" cy="288.54" r="0.42" fill="#d00808" opacity="0.27"/><circle cx="572.08" cy="328.98" r="0.62" fill="#d00808" opacity="0.39"/><circle cx="586.62" cy="323.33" r="0.57" fill="#d00808" opacity="0.38"/><circle cx="563.62" cy="327.08" r="0.9" fill="#f41818" opacity="0.55"/><circle cx="562.76" cy="312.48" r="0.53" fill="#d00808" opacity="0.43"/><circle cx="585.7" cy="319.48" r="0.49" fill="#d00808" opacity="0.21"/><circle cx="559.15" cy="316.23" r="0.53" fill="#d00808" opacity="0.31"/><circle cx="586.4" cy="322.3" r="0.65" fill="#d00808" opacity="0.37"/><circle cx="579.48" cy="314.26" r="0.49" fill="#d00808" opacity="0.45"/><circle cx="568.48" cy="322.71" r="0.46" fill="#d00808" opacity="0.48"/><circle cx="562.56" cy="325.54" r="0.38" fill="#d00808" opacity="0.29"/><circle cx="564.99" cy="324.38" r="0.48" fill="#d00808" opacity="0.43"/><circle cx="560.53" cy="331.21" r="0.51" fill="#d00808" opacity="0.27"/><circle cx="579.85" cy="322.54" r="0.44" fill="#d00808" opacity="0.34"/><circle cx="560.82" cy="321.16" r="0.37" fill="#d00808" opacity="0.3"/><circle cx="566.51" cy="331.7" r="0.56" fill="#d00808" opacity="0.37"/><circle cx="580.32" cy="314.94" r="0.74" fill="#f41818" opacity="0.67"/><circle cx="579.54" cy="312.74" r="0.4" fill="#d00808" opacity="0.36"/><circle cx="560.04" cy="315.99" r="0.64" fill="#d00808" opacity="0.35"/><circle cx="567.92" cy="332.82" r="0.37" fill="#d00808" opacity="0.39"/><circle cx="569.49" cy="327.13" r="0.53" fill="#d00808" opacity="0.3"/><circle cx="561.22" cy="313.01" r="0.62" fill="#d00808" opacity="0.46"/><circle cx="569.69" cy="331.98" r="0.87" fill="#f41818" opacity="0.55"/><circle cx="584.24" cy="328.25" r="0.57" fill="#d00808" opacity="0.35"/><circle cx="586.03" cy="322.07" r="0.97" fill="#f41818" opacity="0.69"/><circle cx="557.98" cy="322.18" r="0.91" fill="#f41818" opacity="0.55"/><circle cx="552.91" cy="320.29" r="0.38" fill="#d00808" opacity="0.4"/><circle cx="566.89" cy="315.98" r="0.52" fill="#d00808" opacity="0.32"/><circle cx="560.67" cy="321.08" r="0.62" fill="#d00808" opacity="0.3"/><circle cx="571.42" cy="315.39" r="0.35" fill="#d00808" opacity="0.47"/><circle cx="570.14" cy="311.1" r="0.37" fill="#d00808" opacity="0.25"/><circle cx="583.42" cy="324.62" r="0.64" fill="#d00808" opacity="0.29"/><circle cx="570.89" cy="327.14" r="0.36" fill="#d00808" opacity="0.34"/><circle cx="560.44" cy="325.22" r="0.44" fill="#d00808" opacity="0.43"/><circle cx="564.35" cy="321.29" r="0.88" fill="#f41818" opacity="0.7"/></g></g>
<g clip-path="url(#cd101)"><g filter="url(#mot)"><g transform="rotate(-20 368.7 348.5)"><ellipse cx="368.7" cy="348.5" rx="13.5" ry="14.5" fill="#1010ae" filter="url(#b06)"/><ellipse cx="368.7" cy="348.5" rx="11.3" ry="12.3" fill="#090980" opacity="0.9" filter="url(#b15)"/><ellipse cx="375.57" cy="350.91" rx="2.46" ry="2.7" fill="#010126" opacity="0.62" filter="url(#b1)"/><ellipse cx="372.39" cy="341.57" rx="1.96" ry="1.42" fill="#1010ae" opacity="0.6" filter="url(#b1)"/><ellipse cx="377.52" cy="346.49" rx="3.85" ry="2.47" fill="#010126" opacity="0.62" filter="url(#b1)"/><ellipse cx="372.91" cy="350.01" rx="3.23" ry="1.29" fill="#1010ae" opacity="0.6" filter="url(#b1)"/><ellipse cx="368.22" cy="350.26" rx="3.76" ry="2.17" fill="#010126" opacity="0.62" filter="url(#b1)"/><ellipse cx="372.47" cy="350.8" rx="1.89" ry="1.81" fill="#1010ae" opacity="0.6" filter="url(#b1)"/><ellipse cx="363.58" cy="343.6" rx="2.19" ry="2.46" fill="#010126" opacity="0.62" filter="url(#b1)"/><ellipse cx="373.44" cy="350.37" rx="3.04" ry="1.57" fill="#1010ae" opacity="0.6" filter="url(#b1)"/><ellipse cx="370.18" cy="345.22" rx="2.79" ry="2.87" fill="#010126" opacity="0.62" filter="url(#b1)"/><ellipse cx="374.69" cy="348.65" rx="2.52" ry="2.2" fill="#1010ae" opacity="0.6" filter="url(#b1)"/><ellipse cx="375.48" cy="346" rx="2.45" ry="1.92" fill="#010126" opacity="0.62" filter="url(#b1)"/><ellipse cx="365.02" cy="348.96" rx="2.55" ry="1.33" fill="#1010ae" opacity="0.6" filter="url(#b1)"/></g><g transform="rotate(0 352.5 383.7)"><ellipse cx="352.5" cy="383.7" rx="17" ry="18.5" fill="#1010ae" filter="url(#b06)"/><ellipse cx="352.5" cy="383.7" rx="14.8" ry="16.3" fill="#090980" opacity="0.9" filter="url(#b15)"/><ellipse cx="350.38" cy="377.48" rx="2.1" ry="1.79" fill="#010126" opacity="0.62" filter="url(#b1)"/><ellipse cx="362.27" cy="379.08" rx="3.17" ry="1.75" fill="#1010ae" opacity="0.6" filter="url(#b1)"/><ellipse cx="355.97" cy="383.32" rx="3.45" ry="3.11" fill="#010126" opacity="0.62" filter="url(#b1)"/><ellipse cx="352.95" cy="385.53" rx="1.74" ry="1.32" fill="#1010ae" opacity="0.6" filter="url(#b1)"/><ellipse cx="355.15" cy="375.38" rx="2.95" ry="1.78" fill="#010126" opacity="0.62" filter="url(#b1)"/><ellipse cx="350.53" cy="381.04" rx="1.75" ry="2.03" fill="#1010ae" opacity="0.6" filter="url(#b1)"/><ellipse cx="346.19" cy="375.06" rx="3.65" ry="1.82" fill="#010126" opacity="0.62" filter="url(#b1)"/><ellipse cx="351.43" cy="387" rx="2.43" ry="1.24" fill="#1010ae" opacity="0.6" filter="url(#b1)"/><ellipse cx="358.47" cy="376.54" rx="3.62" ry="2.38" fill="#010126" opacity="0.62" filter="url(#b1)"/><ellipse cx="361.42" cy="377.68" rx="3.08" ry="2.33" fill="#1010ae" opacity="0.6" filter="url(#b1)"/><ellipse cx="353.64" cy="389.38" rx="2.11" ry="2.82" fill="#010126" opacity="0.62" filter="url(#b1)"/><ellipse cx="340.57" cy="385.91" rx="2.05" ry="1.8" fill="#1010ae" opacity="0.6" filter="url(#b1)"/></g></g></g>
<g clip-path="url(#cd101)"><g filter="url(#b03)"><circle cx="375.91" cy="340.42" r="0.61" fill="#c0103a" opacity="0.69"/><circle cx="367.54" cy="357.06" r="0.77" fill="#f41818" opacity="1"/><circle cx="364.5" cy="348.35" r="0.37" fill="#c0103a" opacity="0.5"/><circle cx="374.93" cy="351.93" r="0.57" fill="#c0103a" opacity="0.66"/><circle cx="361.66" cy="350.44" r="0.78" fill="#f41818" opacity="0.96"/><circle cx="365.19" cy="350.8" r="0.37" fill="#c0103a" opacity="0.36"/><circle cx="375" cy="351.92" r="0.78" fill="#f41818" opacity="0.97"/><circle cx="374.17" cy="342.41" r="0.73" fill="#f41818" opacity="1"/><circle cx="361.08" cy="344.02" r="0.36" fill="#c0103a" opacity="0.4"/><circle cx="359.52" cy="352.73" r="0.53" fill="#c0103a" opacity="0.42"/><circle cx="376.57" cy="350.87" r="0.63" fill="#c0103a" opacity="0.4"/><circle cx="369.09" cy="349.83" r="0.78" fill="#f41818" opacity="1"/><circle cx="369.48" cy="349.62" r="0.42" fill="#c0103a" opacity="0.56"/><circle cx="376.77" cy="343.47" r="0.53" fill="#c0103a" opacity="0.43"/><circle cx="369.02" cy="342.92" r="0.55" fill="#c0103a" opacity="0.68"/><circle cx="362.63" cy="357.37" r="0.43" fill="#c0103a" opacity="0.58"/><circle cx="367.33" cy="351.94" r="0.76" fill="#f41818" opacity="0.88"/><circle cx="376.54" cy="354.2" r="0.78" fill="#f41818" opacity="0.88"/><circle cx="361.77" cy="356.55" r="0.6" fill="#c0103a" opacity="0.71"/><circle cx="360.23" cy="342.07" r="0.52" fill="#c0103a" opacity="0.45"/><circle cx="362.68" cy="354.22" r="0.54" fill="#c0103a" opacity="0.66"/><circle cx="367.72" cy="343.37" r="0.74" fill="#f41818" opacity="0.93"/><circle cx="373.32" cy="341.8" r="0.53" fill="#c0103a" opacity="0.54"/><circle cx="365.1" cy="341.12" r="0.42" fill="#c0103a" opacity="0.37"/><circle cx="359.08" cy="352.35" r="0.44" fill="#c0103a" opacity="0.55"/><circle cx="361.34" cy="347.66" r="0.78" fill="#f41818" opacity="0.83"/><circle cx="369.51" cy="354.25" r="0.41" fill="#c0103a" opacity="0.35"/><circle cx="364.19" cy="347.84" r="0.53" fill="#c0103a" opacity="0.57"/><circle cx="360.16" cy="349.57" r="0.49" fill="#c0103a" opacity="0.59"/><circle cx="370.74" cy="357.7" r="0.64" fill="#c0103a" opacity="0.56"/><circle cx="340.8" cy="381.05" r="0.46" fill="#c0103a" opacity="0.49"/><circle cx="351.32" cy="372.34" r="0.8" fill="#f41818" opacity="1"/><circle cx="338.54" cy="385.45" r="0.47" fill="#c0103a" opacity="0.35"/><circle cx="363.2" cy="386.26" r="0.53" fill="#c0103a" opacity="0.63"/><circle cx="341.4" cy="390.06" r="0.54" fill="#c0103a" opacity="0.54"/><circle cx="347.27" cy="375.28" r="0.77" fill="#f41818" opacity="1"/><circle cx="340.11" cy="391.48" r="0.4" fill="#c0103a" opacity="0.52"/><circle cx="348.93" cy="389.75" r="0.4" fill="#c0103a" opacity="0.6"/><circle cx="357.35" cy="394.45" r="0.38" fill="#c0103a" opacity="0.66"/><circle cx="366.33" cy="385.56" r="0.48" fill="#c0103a" opacity="0.57"/><circle cx="347.02" cy="386.52" r="0.48" fill="#c0103a" opacity="0.67"/><circle cx="360.25" cy="392.23" r="0.52" fill="#c0103a" opacity="0.64"/><circle cx="346.03" cy="380.03" r="0.53" fill="#c0103a" opacity="0.42"/><circle cx="340.03" cy="380.92" r="0.76" fill="#f41818" opacity="0.94"/><circle cx="351.18" cy="390.82" r="0.48" fill="#c0103a" opacity="0.49"/><circle cx="346.64" cy="380.37" r="0.49" fill="#c0103a" opacity="0.64"/><circle cx="354.77" cy="378.11" r="0.51" fill="#c0103a" opacity="0.45"/><circle cx="352.17" cy="397.66" r="0.56" fill="#c0103a" opacity="0.42"/><circle cx="357.08" cy="379.05" r="0.48" fill="#c0103a" opacity="0.48"/><circle cx="343.55" cy="379.94" r="0.52" fill="#c0103a" opacity="0.7"/><circle cx="352.3" cy="380.45" r="0.35" fill="#c0103a" opacity="0.34"/><circle cx="355.55" cy="377.83" r="0.72" fill="#f41818" opacity="0.94"/><circle cx="353.59" cy="383.24" r="0.7" fill="#f41818" opacity="0.82"/><circle cx="348.61" cy="394.65" r="0.54" fill="#c0103a" opacity="0.66"/><circle cx="341.24" cy="377.3" r="0.42" fill="#c0103a" opacity="0.47"/><circle cx="347.9" cy="385.64" r="0.49" fill="#c0103a" opacity="0.4"/><circle cx="339.96" cy="385.73" r="0.53" fill="#c0103a" opacity="0.35"/><circle cx="352.83" cy="391.48" r="0.56" fill="#c0103a" opacity="0.41"/><circle cx="348.46" cy="374.37" r="0.65" fill="#c0103a" opacity="0.45"/><circle cx="361.94" cy="384.74" r="0.4" fill="#c0103a" opacity="0.35"/><circle cx="349.75" cy="381.19" r="0.71" fill="#f41818" opacity="0.96"/><circle cx="354.9" cy="392.26" r="0.48" fill="#c0103a" opacity="0.37"/><circle cx="346.48" cy="371.5" r="0.48" fill="#c0103a" opacity="0.53"/><circle cx="348.72" cy="371.88" r="0.42" fill="#c0103a" opacity="0.63"/><circle cx="356.49" cy="388.26" r="0.41" fill="#c0103a" opacity="0.54"/><circle cx="349.63" cy="399.24" r="0.59" fill="#c0103a" opacity="0.7"/><circle cx="340.77" cy="388.88" r="0.47" fill="#c0103a" opacity="0.37"/><circle cx="345.17" cy="372.93" r="0.45" fill="#c0103a" opacity="0.53"/><circle cx="347.08" cy="392.37" r="0.35" fill="#c0103a" opacity="0.51"/><circle cx="347.15" cy="384.58" r="0.43" fill="#c0103a" opacity="0.48"/></g></g>
<g clip-path="url(#cd111)"><ellipse cx="438.5" cy="347.5" rx="11.05" ry="9.35" fill="#6a0000" opacity="0.4" filter="url(#b4)"/><ellipse cx="420.5" cy="384" rx="13.6" ry="14.45" fill="#6a0000" opacity="0.4" filter="url(#b4)"/><g filter="url(#b03)"><circle cx="438.64" cy="356" r="0.56" fill="#d00808" opacity="0.54"/><circle cx="440.5" cy="339.51" r="0.87" fill="#f41818" opacity="0.98"/><circle cx="434.76" cy="357.73" r="0.57" fill="#d00808" opacity="0.42"/><circle cx="435.42" cy="344.75" r="0.74" fill="#f41818" opacity="0.91"/><circle cx="449.15" cy="341.54" r="0.35" fill="#d00808" opacity="0.68"/><circle cx="437.05" cy="345.5" r="0.37" fill="#d00808" opacity="0.45"/><circle cx="440.52" cy="338.02" r="0.88" fill="#f41818" opacity="1"/><circle cx="431" cy="342.68" r="0.72" fill="#f41818" opacity="0.96"/><circle cx="428.58" cy="346.22" r="0.54" fill="#d00808" opacity="0.6"/><circle cx="433.4" cy="341.92" r="0.51" fill="#d00808" opacity="0.75"/><circle cx="450.28" cy="346.59" r="0.56" fill="#d00808" opacity="0.6"/><circle cx="438.57" cy="351.02" r="0.42" fill="#d00808" opacity="0.63"/><circle cx="428.85" cy="344.9" r="0.42" fill="#d00808" opacity="0.49"/><circle cx="434.46" cy="337.73" r="0.44" fill="#d00808" opacity="0.55"/><circle cx="429.17" cy="351.27" r="0.58" fill="#d00808" opacity="0.71"/><circle cx="436.5" cy="336.79" r="0.48" fill="#d00808" opacity="0.64"/><circle cx="433.89" cy="356.73" r="0.52" fill="#d00808" opacity="0.58"/><circle cx="437.62" cy="348.35" r="0.87" fill="#f41818" opacity="1"/><circle cx="446.55" cy="355.43" r="0.59" fill="#d00808" opacity="0.48"/><circle cx="450.61" cy="348.74" r="0.8" fill="#f41818" opacity="1"/><circle cx="433.03" cy="338.65" r="0.4" fill="#d00808" opacity="0.58"/><circle cx="445.13" cy="351.29" r="0.6" fill="#d00808" opacity="0.48"/><circle cx="436.04" cy="343.93" r="0.72" fill="#f41818" opacity="1"/><circle cx="429.08" cy="342.73" r="0.63" fill="#d00808" opacity="0.68"/><circle cx="427.44" cy="343.24" r="0.8" fill="#f41818" opacity="1"/><circle cx="428.18" cy="341.23" r="0.36" fill="#d00808" opacity="0.77"/><circle cx="432.73" cy="348.52" r="0.54" fill="#d00808" opacity="0.73"/><circle cx="432.26" cy="345.75" r="0.49" fill="#d00808" opacity="0.51"/><circle cx="434.11" cy="345.44" r="0.74" fill="#f41818" opacity="0.91"/><circle cx="427.47" cy="346.02" r="0.62" fill="#d00808" opacity="0.62"/><circle cx="434.7" cy="342.57" r="0.45" fill="#d00808" opacity="0.73"/><circle cx="438.98" cy="358.22" r="0.4" fill="#d00808" opacity="0.68"/><circle cx="443.02" cy="353.16" r="0.45" fill="#d00808" opacity="0.51"/><circle cx="442.88" cy="353.39" r="0.98" fill="#f41818" opacity="1"/><circle cx="436.48" cy="340.51" r="0.61" fill="#d00808" opacity="0.67"/><circle cx="445.19" cy="338.64" r="0.47" fill="#d00808" opacity="0.62"/><circle cx="445.62" cy="350.29" r="0.54" fill="#d00808" opacity="0.35"/><circle cx="438.58" cy="344.5" r="0.5" fill="#d00808" opacity="0.73"/><circle cx="435.13" cy="344.38" r="0.42" fill="#d00808" opacity="0.63"/><circle cx="427.63" cy="353.08" r="0.43" fill="#d00808" opacity="0.49"/><circle cx="445.9" cy="345.77" r="0.89" fill="#f41818" opacity="1"/><circle cx="441.91" cy="346.36" r="0.57" fill="#d00808" opacity="0.57"/><circle cx="434.62" cy="339.08" r="0.72" fill="#f41818" opacity="0.95"/><circle cx="436.66" cy="351.93" r="0.38" fill="#d00808" opacity="0.36"/><circle cx="427.31" cy="346.05" r="0.73" fill="#f41818" opacity="1"/><circle cx="442.77" cy="349.47" r="0.44" fill="#d00808" opacity="0.7"/><circle cx="429.1" cy="347.2" r="0.36" fill="#d00808" opacity="0.72"/><circle cx="429.42" cy="353.91" r="0.85" fill="#f41818" opacity="1"/><circle cx="440.5" cy="349.97" r="0.63" fill="#d00808" opacity="0.8"/><circle cx="427.8" cy="344.92" r="0.49" fill="#d00808" opacity="0.43"/><circle cx="433.05" cy="341.81" r="0.36" fill="#d00808" opacity="0.48"/><circle cx="447.12" cy="353.75" r="0.44" fill="#d00808" opacity="0.7"/><circle cx="431.55" cy="346.74" r="0.35" fill="#d00808" opacity="0.38"/><circle cx="450.91" cy="349.97" r="0.51" fill="#d00808" opacity="0.77"/><circle cx="428.09" cy="345.29" r="0.85" fill="#f41818" opacity="1"/><circle cx="429.67" cy="352.32" r="0.55" fill="#d00808" opacity="0.44"/><circle cx="430.01" cy="347.98" r="0.37" fill="#d00808" opacity="0.46"/><circle cx="437.35" cy="343.12" r="0.65" fill="#d00808" opacity="0.62"/><circle cx="437.33" cy="337.89" r="0.47" fill="#d00808" opacity="0.53"/><circle cx="438.56" cy="345.74" r="0.43" fill="#d00808" opacity="0.6"/><circle cx="437.16" cy="337.36" r="0.56" fill="#d00808" opacity="0.39"/><circle cx="431.74" cy="338.57" r="0.5" fill="#d00808" opacity="0.58"/><circle cx="433.83" cy="349.95" r="0.98" fill="#f41818" opacity="1"/><circle cx="448.4" cy="349.56" r="0.55" fill="#d00808" opacity="0.43"/><circle cx="443.79" cy="346.09" r="0.49" fill="#d00808" opacity="0.42"/><circle cx="437.91" cy="352.22" r="0.71" fill="#f41818" opacity="1"/><circle cx="435.22" cy="342.73" r="0.48" fill="#d00808" opacity="0.56"/><circle cx="447.89" cy="343.57" r="0.57" fill="#d00808" opacity="0.68"/><circle cx="437.28" cy="350.21" r="0.57" fill="#d00808" opacity="0.62"/><circle cx="446.82" cy="353.86" r="0.98" fill="#f41818" opacity="1"/><circle cx="436.17" cy="345.22" r="0.57" fill="#d00808" opacity="0.4"/><circle cx="446.61" cy="349.2" r="0.54" fill="#d00808" opacity="0.45"/><circle cx="448.86" cy="352.44" r="0.56" fill="#d00808" opacity="0.44"/><circle cx="438.5" cy="346.41" r="0.81" fill="#f41818" opacity="1"/><circle cx="443.58" cy="348.48" r="0.58" fill="#d00808" opacity="0.47"/><circle cx="449.16" cy="352.18" r="0.62" fill="#d00808" opacity="0.6"/><circle cx="448.13" cy="352.32" r="0.6" fill="#d00808" opacity="0.69"/><circle cx="425.65" cy="347.33" r="0.48" fill="#d00808" opacity="0.64"/><circle cx="440.85" cy="339.31" r="0.43" fill="#d00808" opacity="0.75"/><circle cx="444" cy="343.01" r="0.91" fill="#f41818" opacity="1"/><circle cx="447.9" cy="345.42" r="0.58" fill="#d00808" opacity="0.43"/><circle cx="434.19" cy="341.2" r="0.8" fill="#f41818" opacity="1"/><circle cx="437.55" cy="339.37" r="0.37" fill="#d00808" opacity="0.7"/><circle cx="438.76" cy="337.44" r="0.37" fill="#d00808" opacity="0.48"/><circle cx="431.61" cy="348.9" r="0.41" fill="#d00808" opacity="0.36"/><circle cx="435.72" cy="348.25" r="0.91" fill="#f41818" opacity="1"/><circle cx="435.17" cy="346.74" r="0.51" fill="#d00808" opacity="0.49"/><circle cx="439.37" cy="351.78" r="0.46" fill="#d00808" opacity="0.61"/><circle cx="435.35" cy="342.37" r="0.43" fill="#d00808" opacity="0.69"/><circle cx="441.36" cy="355.63" r="0.59" fill="#d00808" opacity="0.59"/><circle cx="434" cy="375.09" r="0.46" fill="#d00808" opacity="0.47"/><circle cx="416.48" cy="379.66" r="0.73" fill="#f41818" opacity="1"/><circle cx="408.85" cy="394.64" r="0.51" fill="#d00808" opacity="0.5"/><circle cx="418.93" cy="387.52" r="1.01" fill="#f41818" opacity="0.99"/><circle cx="436.32" cy="384.87" r="0.58" fill="#d00808" opacity="0.55"/><circle cx="424.95" cy="383.04" r="0.54" fill="#d00808" opacity="0.36"/><circle cx="428.57" cy="379.07" r="0.37" fill="#d00808" opacity="0.39"/><circle cx="432.67" cy="391.8" r="0.62" fill="#d00808" opacity="0.59"/><circle cx="432.35" cy="392.13" r="0.58" fill="#d00808" opacity="0.64"/><circle cx="414.45" cy="381.17" r="0.73" fill="#f41818" opacity="1"/><circle cx="416.73" cy="400.11" r="0.97" fill="#f41818" opacity="0.94"/><circle cx="432.75" cy="393.86" r="0.91" fill="#f41818" opacity="1"/><circle cx="412.88" cy="389.96" r="0.94" fill="#f41818" opacity="1"/><circle cx="408.82" cy="374.92" r="0.85" fill="#f41818" opacity="1"/><circle cx="431.96" cy="378.42" r="0.86" fill="#f41818" opacity="0.9"/><circle cx="416.29" cy="383.61" r="0.88" fill="#f41818" opacity="1"/><circle cx="423.34" cy="396.63" r="0.56" fill="#d00808" opacity="0.37"/><circle cx="426.3" cy="374.42" r="0.8" fill="#f41818" opacity="1"/><circle cx="433.14" cy="393.12" r="0.84" fill="#f41818" opacity="0.92"/><circle cx="405.41" cy="388.55" r="0.76" fill="#f41818" opacity="1"/><circle cx="416.63" cy="379.05" r="0.91" fill="#f41818" opacity="0.97"/><circle cx="433.63" cy="386.45" r="0.59" fill="#d00808" opacity="0.73"/><circle cx="422.58" cy="393.2" r="0.53" fill="#d00808" opacity="0.63"/><circle cx="413.19" cy="381.32" r="0.73" fill="#f41818" opacity="0.92"/><circle cx="416.39" cy="381.57" r="0.64" fill="#d00808" opacity="0.42"/><circle cx="432.84" cy="381.11" r="0.83" fill="#f41818" opacity="1"/><circle cx="419" cy="388.11" r="0.71" fill="#f41818" opacity="1"/><circle cx="412.85" cy="384.95" r="0.62" fill="#d00808" opacity="0.57"/><circle cx="423.51" cy="374.41" r="0.58" fill="#d00808" opacity="0.51"/><circle cx="419.9" cy="373.94" r="0.85" fill="#f41818" opacity="0.93"/><circle cx="418.88" cy="375.65" r="0.59" fill="#d00808" opacity="0.62"/><circle cx="431.93" cy="376.11" r="0.57" fill="#d00808" opacity="0.66"/><circle cx="431.25" cy="377.56" r="0.51" fill="#d00808" opacity="0.59"/><circle cx="428.66" cy="380.61" r="0.88" fill="#f41818" opacity="0.99"/><circle cx="417.62" cy="370.79" r="0.77" fill="#f41818" opacity="1"/><circle cx="410.02" cy="392.52" r="0.38" fill="#d00808" opacity="0.66"/><circle cx="425.28" cy="383.13" r="0.53" fill="#d00808" opacity="0.63"/><circle cx="409.12" cy="383.61" r="0.61" fill="#d00808" opacity="0.55"/><circle cx="425.52" cy="371.18" r="0.65" fill="#d00808" opacity="0.38"/><circle cx="422.32" cy="391.96" r="0.63" fill="#d00808" opacity="0.45"/><circle cx="405.47" cy="385.49" r="0.53" fill="#d00808" opacity="0.75"/><circle cx="424.78" cy="381.62" r="0.44" fill="#d00808" opacity="0.63"/><circle cx="420.65" cy="374.79" r="0.62" fill="#d00808" opacity="0.71"/><circle cx="425.34" cy="383.22" r="0.57" fill="#d00808" opacity="0.78"/><circle cx="419.18" cy="375.11" r="0.76" fill="#f41818" opacity="0.98"/><circle cx="412.28" cy="379.87" r="0.73" fill="#f41818" opacity="1"/><circle cx="422.71" cy="378.51" r="0.64" fill="#d00808" opacity="0.51"/><circle cx="406.43" cy="380.72" r="1.01" fill="#f41818" opacity="1"/><circle cx="419.67" cy="374.08" r="0.63" fill="#d00808" opacity="0.38"/><circle cx="431.63" cy="390.71" r="0.39" fill="#d00808" opacity="0.43"/><circle cx="406.74" cy="387.78" r="0.55" fill="#d00808" opacity="0.37"/><circle cx="424.34" cy="396.35" r="0.38" fill="#d00808" opacity="0.39"/><circle cx="416.45" cy="394.06" r="0.4" fill="#d00808" opacity="0.38"/><circle cx="410.93" cy="370.88" r="0.63" fill="#d00808" opacity="0.41"/><circle cx="413.27" cy="377.18" r="0.53" fill="#d00808" opacity="0.63"/><circle cx="433.91" cy="375.45" r="0.85" fill="#f41818" opacity="0.93"/><circle cx="413.46" cy="381.03" r="0.46" fill="#d00808" opacity="0.35"/><circle cx="424.83" cy="380.08" r="0.88" fill="#f41818" opacity="0.92"/><circle cx="422.35" cy="369.75" r="0.92" fill="#f41818" opacity="0.94"/><circle cx="415.7" cy="383.02" r="0.49" fill="#d00808" opacity="0.6"/><circle cx="411.73" cy="370.55" r="0.46" fill="#d00808" opacity="0.44"/><circle cx="419.73" cy="373.73" r="0.77" fill="#f41818" opacity="1"/><circle cx="425.95" cy="374.35" r="0.49" fill="#d00808" opacity="0.61"/><circle cx="420.16" cy="394.87" r="0.38" fill="#d00808" opacity="0.55"/><circle cx="420.35" cy="393.17" r="0.41" fill="#d00808" opacity="0.61"/><circle cx="428.06" cy="386.09" r="0.76" fill="#f41818" opacity="1"/><circle cx="414.61" cy="369.26" r="0.77" fill="#f41818" opacity="0.99"/><circle cx="405.91" cy="383.2" r="0.61" fill="#d00808" opacity="0.36"/><circle cx="429.65" cy="385.68" r="0.35" fill="#d00808" opacity="0.51"/><circle cx="430.89" cy="395.43" r="0.81" fill="#f41818" opacity="0.95"/><circle cx="423.6" cy="379.34" r="0.42" fill="#d00808" opacity="0.46"/><circle cx="434.01" cy="383.46" r="0.46" fill="#d00808" opacity="0.79"/><circle cx="432.94" cy="381.02" r="0.72" fill="#f41818" opacity="1"/><circle cx="405.69" cy="385.37" r="0.6" fill="#d00808" opacity="0.46"/><circle cx="432.96" cy="382.67" r="0.77" fill="#f41818" opacity="1"/><circle cx="424.36" cy="369.96" r="0.36" fill="#d00808" opacity="0.77"/><circle cx="416.35" cy="398.27" r="0.5" fill="#d00808" opacity="0.59"/><circle cx="433.23" cy="376.35" r="0.61" fill="#d00808" opacity="0.43"/><circle cx="415.22" cy="391.82" r="0.84" fill="#f41818" opacity="0.9"/><circle cx="434.68" cy="380.95" r="0.37" fill="#d00808" opacity="0.47"/><circle cx="421.71" cy="374.88" r="0.85" fill="#f41818" opacity="1"/><circle cx="427.39" cy="391.44" r="0.57" fill="#d00808" opacity="0.53"/><circle cx="428.58" cy="383.5" r="0.37" fill="#d00808" opacity="0.76"/><circle cx="414.1" cy="382.04" r="0.61" fill="#d00808" opacity="0.41"/><circle cx="432.05" cy="372.75" r="0.59" fill="#d00808" opacity="0.67"/><circle cx="411.4" cy="379.7" r="0.59" fill="#d00808" opacity="0.7"/><circle cx="424.43" cy="382.49" r="0.56" fill="#d00808" opacity="0.45"/><circle cx="435.49" cy="386.11" r="0.56" fill="#d00808" opacity="0.5"/><circle cx="407.16" cy="389.82" r="0.95" fill="#f41818" opacity="1"/><circle cx="405.31" cy="387.86" r="0.62" fill="#d00808" opacity="0.44"/><circle cx="413.26" cy="389.03" r="0.58" fill="#d00808" opacity="0.8"/><circle cx="432.97" cy="375.58" r="0.57" fill="#d00808" opacity="0.68"/><circle cx="429.09" cy="389.86" r="0.38" fill="#d00808" opacity="0.76"/><circle cx="415" cy="390.02" r="0.89" fill="#f41818" opacity="1"/><circle cx="432.56" cy="379.63" r="0.4" fill="#d00808" opacity="0.37"/><circle cx="415.73" cy="371.7" r="0.5" fill="#d00808" opacity="0.53"/><circle cx="423.63" cy="381.77" r="0.98" fill="#f41818" opacity="0.99"/><circle cx="415.34" cy="393.74" r="0.58" fill="#d00808" opacity="0.39"/><circle cx="407.78" cy="379.11" r="0.57" fill="#d00808" opacity="0.51"/><circle cx="416.82" cy="380.22" r="0.52" fill="#d00808" opacity="0.63"/><circle cx="417.5" cy="384.74" r="0.61" fill="#d00808" opacity="0.47"/><circle cx="423.78" cy="396.94" r="0.74" fill="#f41818" opacity="0.92"/><circle cx="409.85" cy="372.74" r="0.53" fill="#d00808" opacity="0.74"/><circle cx="425.29" cy="376.81" r="0.64" fill="#d00808" opacity="0.77"/><circle cx="412.44" cy="373.58" r="0.38" fill="#d00808" opacity="0.5"/><circle cx="422.04" cy="397.41" r="0.54" fill="#d00808" opacity="0.76"/><circle cx="427.76" cy="384.03" r="0.83" fill="#f41818" opacity="1"/><circle cx="406.49" cy="387.08" r="0.82" fill="#f41818" opacity="1"/><circle cx="416.85" cy="398" r="0.55" fill="#d00808" opacity="0.36"/><circle cx="410.38" cy="397" r="0.43" fill="#d00808" opacity="0.8"/><circle cx="409.21" cy="376.43" r="0.54" fill="#d00808" opacity="0.53"/><circle cx="419.16" cy="393.06" r="0.94" fill="#f41818" opacity="0.93"/><circle cx="428.95" cy="392.12" r="0.58" fill="#d00808" opacity="0.65"/><circle cx="420.1" cy="376.29" r="0.36" fill="#d00808" opacity="0.58"/><circle cx="425.83" cy="385.16" r="0.82" fill="#f41818" opacity="1"/><circle cx="421.39" cy="388.64" r="1.03" fill="#f41818" opacity="1"/><circle cx="425.56" cy="380.74" r="1.01" fill="#f41818" opacity="0.9"/><circle cx="428.16" cy="395.01" r="0.63" fill="#d00808" opacity="0.73"/><circle cx="414.87" cy="397.27" r="0.62" fill="#d00808" opacity="0.79"/><circle cx="421.55" cy="368.96" r="0.48" fill="#d00808" opacity="0.61"/></g></g>
<g clip-path="url(#cd121)"><g filter="url(#mot)"><g transform="rotate(0 484.5 377.5)"><ellipse cx="484.5" cy="377.5" rx="16.5" ry="21.5" fill="#1616d4" filter="url(#b06)"/><ellipse cx="484.5" cy="377.5" rx="14.3" ry="19.3" fill="#0b0b94" opacity="0.9" filter="url(#b15)"/><ellipse cx="491.27" cy="373.3" rx="2.05" ry="2.32" fill="#010126" opacity="0.62" filter="url(#b1)"/><ellipse cx="490.62" cy="369.07" rx="2.42" ry="2.51" fill="#1616d4" opacity="0.6" filter="url(#b1)"/><ellipse cx="484.64" cy="372.36" rx="3.4" ry="2.99" fill="#010126" opacity="0.62" filter="url(#b1)"/><ellipse cx="495.73" cy="378.11" rx="2.32" ry="2.39" fill="#1616d4" opacity="0.6" filter="url(#b1)"/><ellipse cx="489.41" cy="378" rx="2.61" ry="1.95" fill="#010126" opacity="0.62" filter="url(#b1)"/><ellipse cx="479.12" cy="366.84" rx="2.73" ry="2.47" fill="#1616d4" opacity="0.6" filter="url(#b1)"/><ellipse cx="487.96" cy="381.42" rx="2.8" ry="2.87" fill="#010126" opacity="0.62" filter="url(#b1)"/><ellipse cx="483.6" cy="362.19" rx="3.16" ry="1.94" fill="#1616d4" opacity="0.6" filter="url(#b1)"/><ellipse cx="483.82" cy="364.47" rx="3.04" ry="2.69" fill="#010126" opacity="0.62" filter="url(#b1)"/><ellipse cx="490.63" cy="366.94" rx="1.8" ry="1.24" fill="#1616d4" opacity="0.6" filter="url(#b1)"/><ellipse cx="481.81" cy="364.95" rx="2.38" ry="2.96" fill="#010126" opacity="0.62" filter="url(#b1)"/><ellipse cx="484.64" cy="373.16" rx="1.79" ry="2.12" fill="#1616d4" opacity="0.6" filter="url(#b1)"/></g><g transform="rotate(10 509.7 357.5)"><ellipse cx="509.7" cy="357.5" rx="14" ry="19" fill="#1616d4" filter="url(#b06)"/><ellipse cx="509.7" cy="357.5" rx="11.8" ry="16.8" fill="#0b0b94" opacity="0.9" filter="url(#b15)"/><ellipse cx="507.7" cy="354.86" rx="3.82" ry="1.94" fill="#010126" opacity="0.62" filter="url(#b1)"/><ellipse cx="514.48" cy="346.19" rx="1.73" ry="2.18" fill="#1616d4" opacity="0.6" filter="url(#b1)"/><ellipse cx="500.8" cy="353.62" rx="2.89" ry="2.26" fill="#010126" opacity="0.62" filter="url(#b1)"/><ellipse cx="510.63" cy="369.31" rx="2.11" ry="2.48" fill="#1616d4" opacity="0.6" filter="url(#b1)"/><ellipse cx="518.6" cy="360.16" rx="2.04" ry="2.76" fill="#010126" opacity="0.62" filter="url(#b1)"/><ellipse cx="513.68" cy="355.72" rx="2.62" ry="1.78" fill="#1616d4" opacity="0.6" filter="url(#b1)"/><ellipse cx="517.67" cy="362.19" rx="2.99" ry="2.88" fill="#010126" opacity="0.62" filter="url(#b1)"/><ellipse cx="512.44" cy="358.35" rx="1.94" ry="2.34" fill="#1616d4" opacity="0.6" filter="url(#b1)"/><ellipse cx="511.28" cy="357.82" rx="2.76" ry="2.22" fill="#010126" opacity="0.62" filter="url(#b1)"/><ellipse cx="514.72" cy="347.6" rx="1.96" ry="2.24" fill="#1616d4" opacity="0.6" filter="url(#b1)"/><ellipse cx="504.68" cy="366.04" rx="3.32" ry="1.71" fill="#010126" opacity="0.62" filter="url(#b1)"/><ellipse cx="504.72" cy="358.81" rx="2.37" ry="1.98" fill="#1616d4" opacity="0.6" filter="url(#b1)"/></g><g transform="rotate(10 467 337.5)"><ellipse cx="467" cy="337.5" rx="9" ry="5.5" fill="#1616d4" filter="url(#b06)"/><ellipse cx="467" cy="337.5" rx="6.8" ry="3.3" fill="#0b0b94" opacity="0.9" filter="url(#b15)"/><ellipse cx="465.85" cy="335.71" rx="3.04" ry="2.92" fill="#010126" opacity="0.62" filter="url(#b1)"/><ellipse cx="466.16" cy="336.4" rx="1.76" ry="1.58" fill="#1616d4" opacity="0.6" filter="url(#b1)"/><ellipse cx="469.92" cy="336.93" rx="3.76" ry="3.14" fill="#010126" opacity="0.62" filter="url(#b1)"/><ellipse cx="466.06" cy="335.79" rx="2.92" ry="1.9" fill="#1616d4" opacity="0.6" filter="url(#b1)"/><ellipse cx="470.53" cy="336.83" rx="3.27" ry="2.7" fill="#010126" opacity="0.62" filter="url(#b1)"/><ellipse cx="465.7" cy="336.66" rx="2.58" ry="1.8" fill="#1616d4" opacity="0.6" filter="url(#b1)"/><ellipse cx="464.77" cy="334.61" rx="2.41" ry="2.19" fill="#010126" opacity="0.62" filter="url(#b1)"/><ellipse cx="466.76" cy="341.33" rx="2.43" ry="1.83" fill="#1616d4" opacity="0.6" filter="url(#b1)"/><ellipse cx="472.13" cy="336.78" rx="3.72" ry="2.4" fill="#010126" opacity="0.62" filter="url(#b1)"/><ellipse cx="469.08" cy="338.8" rx="1.66" ry="1.76" fill="#1616d4" opacity="0.6" filter="url(#b1)"/><ellipse cx="463.59" cy="338.17" rx="3.96" ry="2.45" fill="#010126" opacity="0.62" filter="url(#b1)"/><ellipse cx="467.96" cy="338.5" rx="2.79" ry="1.92" fill="#1616d4" opacity="0.6" filter="url(#b1)"/></g></g></g>
<g clip-path="url(#cd121)"><g filter="url(#b03)"><circle cx="483.98" cy="376.47" r="0.55" fill="#e0102a" opacity="0.49"/><circle cx="511.77" cy="372.29" r="0.52" fill="#e0102a" opacity="0.45"/><circle cx="498.42" cy="342.5" r="0.54" fill="#e0102a" opacity="0.46"/><circle cx="511.25" cy="380.94" r="0.46" fill="#e0102a" opacity="0.49"/><circle cx="495.12" cy="390.13" r="0.64" fill="#e0102a" opacity="0.29"/></g></g>
<g clip-path="url(#cd131)"><ellipse cx="556" cy="377" rx="14.45" ry="17" fill="#6a0000" opacity="0.2" filter="url(#b4)"/><ellipse cx="582" cy="357" rx="11.05" ry="14.45" fill="#6a0000" opacity="0.2" filter="url(#b4)"/><g filter="url(#b06)"><circle cx="546.59" cy="379.54" r="0.54" fill="#d00808" opacity="0.4"/><circle cx="566.48" cy="372.06" r="0.57" fill="#d00808" opacity="0.39"/><circle cx="554.08" cy="396.07" r="0.37" fill="#d00808" opacity="0.38"/><circle cx="569.27" cy="367.1" r="0.53" fill="#d00808" opacity="0.38"/><circle cx="554.26" cy="384.86" r="0.6" fill="#d00808" opacity="0.39"/><circle cx="571.1" cy="374.86" r="0.53" fill="#d00808" opacity="0.35"/><circle cx="568.92" cy="366.89" r="0.62" fill="#d00808" opacity="0.43"/><circle cx="546.65" cy="390.3" r="0.56" fill="#d00808" opacity="0.38"/><circle cx="544.87" cy="362.96" r="0.49" fill="#d00808" opacity="0.34"/><circle cx="552.94" cy="361.07" r="0.9" fill="#f41818" opacity="0.64"/><circle cx="551.83" cy="370.46" r="0.43" fill="#d00808" opacity="0.31"/><circle cx="541.52" cy="369.58" r="0.54" fill="#d00808" opacity="0.45"/><circle cx="547.4" cy="385.3" r="0.41" fill="#d00808" opacity="0.45"/><circle cx="570.01" cy="368.02" r="1.07" fill="#f41818" opacity="0.63"/><circle cx="565.14" cy="388.46" r="0.4" fill="#d00808" opacity="0.41"/><circle cx="543.87" cy="373.69" r="0.54" fill="#d00808" opacity="0.45"/><circle cx="553.36" cy="360.48" r="0.49" fill="#d00808" opacity="0.41"/><circle cx="559.69" cy="380.72" r="0.55" fill="#d00808" opacity="0.3"/><circle cx="564.84" cy="374.26" r="0.49" fill="#d00808" opacity="0.51"/><circle cx="560.85" cy="385.25" r="0.46" fill="#d00808" opacity="0.33"/><circle cx="567.02" cy="391.1" r="0.52" fill="#d00808" opacity="0.3"/><circle cx="561.08" cy="374.43" r="0.37" fill="#d00808" opacity="0.38"/><circle cx="548.48" cy="394.38" r="0.6" fill="#d00808" opacity="0.24"/><circle cx="557.5" cy="396.79" r="0.36" fill="#d00808" opacity="0.3"/><circle cx="547.98" cy="388.04" r="0.44" fill="#d00808" opacity="0.37"/><circle cx="548.87" cy="378.66" r="0.52" fill="#d00808" opacity="0.4"/><circle cx="555.26" cy="363.57" r="0.63" fill="#d00808" opacity="0.26"/><circle cx="552.37" cy="389.19" r="0.41" fill="#d00808" opacity="0.48"/><circle cx="551.93" cy="391" r="0.39" fill="#d00808" opacity="0.35"/><circle cx="564.42" cy="387.9" r="0.61" fill="#d00808" opacity="0.5"/><circle cx="564.72" cy="385.85" r="0.46" fill="#d00808" opacity="0.5"/><circle cx="540.16" cy="377.68" r="0.86" fill="#f41818" opacity="0.72"/><circle cx="562.23" cy="364.99" r="0.58" fill="#d00808" opacity="0.35"/><circle cx="552.83" cy="363.12" r="0.62" fill="#d00808" opacity="0.47"/><circle cx="562.41" cy="370.9" r="0.36" fill="#d00808" opacity="0.37"/><circle cx="552.1" cy="390.46" r="0.51" fill="#d00808" opacity="0.35"/><circle cx="556.74" cy="360.8" r="0.41" fill="#d00808" opacity="0.3"/><circle cx="550.89" cy="388.56" r="0.58" fill="#d00808" opacity="0.51"/><circle cx="555.36" cy="387.84" r="0.35" fill="#d00808" opacity="0.41"/><circle cx="568.74" cy="380.61" r="0.46" fill="#d00808" opacity="0.52"/><circle cx="555.15" cy="379.43" r="0.42" fill="#d00808" opacity="0.44"/><circle cx="555.3" cy="365.13" r="0.4" fill="#d00808" opacity="0.29"/><circle cx="544.8" cy="370.71" r="0.44" fill="#d00808" opacity="0.49"/><circle cx="546.44" cy="364.78" r="0.41" fill="#d00808" opacity="0.39"/><circle cx="557.95" cy="376.13" r="0.44" fill="#d00808" opacity="0.3"/><circle cx="557.8" cy="361.04" r="0.56" fill="#d00808" opacity="0.48"/><circle cx="558.14" cy="378.1" r="0.61" fill="#d00808" opacity="0.39"/><circle cx="545.17" cy="376.54" r="0.62" fill="#d00808" opacity="0.4"/><circle cx="555.69" cy="363.36" r="0.58" fill="#d00808" opacity="0.38"/><circle cx="553.03" cy="387.39" r="0.54" fill="#d00808" opacity="0.25"/><circle cx="573.57" cy="355.58" r="0.44" fill="#d00808" opacity="0.49"/><circle cx="570.24" cy="358.71" r="0.62" fill="#d00808" opacity="0.39"/><circle cx="573.77" cy="353.87" r="0.52" fill="#d00808" opacity="0.38"/><circle cx="576.26" cy="365.71" r="0.48" fill="#d00808" opacity="0.3"/><circle cx="588.96" cy="361.77" r="0.9" fill="#f41818" opacity="0.6"/><circle cx="588.05" cy="351.6" r="0.51" fill="#d00808" opacity="0.31"/><circle cx="580.81" cy="347.76" r="0.36" fill="#d00808" opacity="0.24"/><circle cx="589.96" cy="347.48" r="0.54" fill="#d00808" opacity="0.33"/><circle cx="575.19" cy="356.55" r="0.54" fill="#d00808" opacity="0.48"/><circle cx="581.63" cy="369.82" r="0.61" fill="#d00808" opacity="0.37"/><circle cx="590.21" cy="344.67" r="0.47" fill="#d00808" opacity="0.51"/><circle cx="573.68" cy="351.08" r="0.53" fill="#d00808" opacity="0.38"/><circle cx="578.35" cy="349.73" r="0.35" fill="#d00808" opacity="0.44"/><circle cx="586.96" cy="343.94" r="0.58" fill="#d00808" opacity="0.26"/><circle cx="576.6" cy="371.72" r="0.61" fill="#d00808" opacity="0.46"/><circle cx="585.58" cy="363.22" r="0.55" fill="#d00808" opacity="0.24"/><circle cx="576.45" cy="355.64" r="0.51" fill="#d00808" opacity="0.23"/><circle cx="580.95" cy="358.06" r="0.62" fill="#d00808" opacity="0.44"/><circle cx="594.59" cy="357.24" r="0.55" fill="#d00808" opacity="0.45"/><circle cx="577.87" cy="354.92" r="0.57" fill="#d00808" opacity="0.26"/><circle cx="573.06" cy="368.52" r="0.4" fill="#d00808" opacity="0.42"/><circle cx="575.26" cy="369.27" r="0.6" fill="#d00808" opacity="0.47"/><circle cx="586.2" cy="368.31" r="0.39" fill="#d00808" opacity="0.49"/><circle cx="576.46" cy="368.14" r="0.99" fill="#f41818" opacity="0.78"/><circle cx="580.1" cy="351.38" r="0.49" fill="#d00808" opacity="0.37"/><circle cx="583" cy="363.49" r="0.53" fill="#d00808" opacity="0.45"/><circle cx="581.42" cy="346.26" r="0.44" fill="#d00808" opacity="0.42"/><circle cx="571.57" cy="363.36" r="0.46" fill="#d00808" opacity="0.25"/><circle cx="587.84" cy="358.91" r="0.83" fill="#f41818" opacity="0.66"/><circle cx="583.98" cy="354.62" r="0.38" fill="#d00808" opacity="0.47"/><circle cx="577.96" cy="363.56" r="0.46" fill="#d00808" opacity="0.23"/><circle cx="589.31" cy="367.24" r="0.65" fill="#d00808" opacity="0.3"/><circle cx="582.9" cy="347.12" r="0.43" fill="#d00808" opacity="0.35"/><circle cx="587.59" cy="352.6" r="0.62" fill="#d00808" opacity="0.36"/><circle cx="585.64" cy="345.52" r="0.57" fill="#d00808" opacity="0.42"/><circle cx="572.52" cy="368.6" r="0.95" fill="#f41818" opacity="0.73"/><circle cx="579.75" cy="345.68" r="0.36" fill="#d00808" opacity="0.42"/><circle cx="587.51" cy="348.87" r="0.56" fill="#d00808" opacity="0.37"/><circle cx="583.12" cy="345.26" r="0.51" fill="#d00808" opacity="0.45"/><circle cx="586.53" cy="366.91" r="0.35" fill="#d00808" opacity="0.48"/></g></g>
<rect x="38.7" y="329.2" width="22.5" height="2.9" fill="#fff"/>
<rect x="38.7" y="399.4" width="22.5" height="2.9" fill="#fff"/>
<rect x="108.7" y="329.2" width="22.5" height="2.9" fill="#fff"/>
<rect x="108.7" y="399.4" width="22.5" height="2.9" fill="#fff"/>
<rect x="178.2" y="329.2" width="22.5" height="2.9" fill="#fff"/>
<rect x="178.2" y="399.4" width="22.5" height="2.9" fill="#fff"/>
<rect x="247.7" y="329.2" width="22.5" height="2.9" fill="#fff"/>
<rect x="247.7" y="399.4" width="22.5" height="2.9" fill="#fff"/>
<rect x="330.7" y="329.2" width="22.5" height="2.9" fill="#fff"/>
<rect x="330.7" y="399.4" width="22.5" height="2.9" fill="#fff"/>
<rect x="400.2" y="329.2" width="22.5" height="2.9" fill="#fff"/>
<rect x="400.2" y="399.4" width="22.5" height="2.9" fill="#fff"/>
<rect x="469.2" y="329.2" width="22.5" height="2.9" fill="#fff"/>
<rect x="469.2" y="399.4" width="22.5" height="2.9" fill="#fff"/>
<rect x="539.4" y="329.2" width="22.5" height="2.9" fill="#fff"/>
<rect x="539.4" y="399.4" width="22.5" height="2.9" fill="#fff"/>
<text x="604.5" y="246.3" font-weight="bold" style="font-size:18.5px;fill:#000">e</text>
<text x="620.8" y="331" text-anchor="middle" transform="rotate(-90 620.8 331)" style="font-size:10.6px">p-H2A.X foci (per nuclear)</text>
<line x1="638.8" y1="374.2" x2="643.3" y2="374.2" stroke="#000" stroke-width="1.2"/>
<text x="639.7" y="377.9" text-anchor="end" style="font-size:10.6px">0</text>
<line x1="638.8" y1="350.4" x2="643.3" y2="350.4" stroke="#000" stroke-width="1.2"/>
<text x="639.7" y="354.1" text-anchor="end" style="font-size:10.6px">5</text>
<line x1="638.8" y1="326.6" x2="643.3" y2="326.6" stroke="#000" stroke-width="1.2"/>
<text x="639.7" y="330.3" text-anchor="end" style="font-size:10.6px">10</text>
<line x1="638.8" y1="302.8" x2="643.3" y2="302.8" stroke="#000" stroke-width="1.2"/>
<text x="639.7" y="306.5" text-anchor="end" style="font-size:10.6px">15</text>
<line x1="638.8" y1="279" x2="643.3" y2="279" stroke="#000" stroke-width="1.2"/>
<text x="639.7" y="282.7" text-anchor="end" style="font-size:10.6px">20</text>
<line x1="643.3" y1="374.2" x2="643.3" y2="378.7" stroke="#000" stroke-width="1.2"/>
<text x="643.3" y="388.2" text-anchor="middle" style="font-size:10.6px">0</text>
<line x1="658.75" y1="374.2" x2="658.75" y2="378.7" stroke="#000" stroke-width="1.2"/>
<text x="658.75" y="388.2" text-anchor="middle" style="font-size:10.6px">1</text>
<line x1="674.2" y1="374.2" x2="674.2" y2="378.7" stroke="#000" stroke-width="1.2"/>
<text x="674.2" y="388.2" text-anchor="middle" style="font-size:10.6px">2</text>
<line x1="689.65" y1="374.2" x2="689.65" y2="378.7" stroke="#000" stroke-width="1.2"/>
<text x="689.65" y="388.2" text-anchor="middle" style="font-size:10.6px">3</text>
<line x1="705.1" y1="374.2" x2="705.1" y2="378.7" stroke="#000" stroke-width="1.2"/>
<text x="705.1" y="388.2" text-anchor="middle" style="font-size:10.6px">4</text>
<line x1="720.55" y1="374.2" x2="720.55" y2="378.7" stroke="#000" stroke-width="1.2"/>
<text x="720.55" y="388.2" text-anchor="middle" style="font-size:10.6px">5</text>
<line x1="736" y1="374.2" x2="736" y2="378.7" stroke="#000" stroke-width="1.2"/>
<text x="736" y="388.2" text-anchor="middle" style="font-size:10.6px">6</text>
<line x1="643.3" y1="278.4" x2="643.3" y2="374.8" stroke="#000" stroke-width="1.3"/>
<line x1="642.7" y1="374.2" x2="736.8" y2="374.2" stroke="#000" stroke-width="1.3"/>
<line x1="637" y1="393.2" x2="737.4" y2="393.2" stroke="#000" stroke-width="1"/>
<text x="690.5" y="406" text-anchor="middle" style="font-size:10.7px">HBSS treatment time (h)</text>
<polyline points="643.3,366 658.75,347.5 689.65,318.4 736,297.9" fill="none" stroke="#000" stroke-width="1.4"/>
<line x1="643.3" y1="360" x2="643.3" y2="372" stroke="#000" stroke-width="1.2"/>
<line x1="640.5" y1="360" x2="646.1" y2="360" stroke="#000" stroke-width="1.2"/>
<line x1="640.5" y1="372" x2="646.1" y2="372" stroke="#000" stroke-width="1.2"/>
<circle cx="643.3" cy="366" r="2.4" fill="#000"/>
<line x1="658.75" y1="336" x2="658.75" y2="358.5" stroke="#000" stroke-width="1.2"/>
<line x1="655.95" y1="336" x2="661.55" y2="336" stroke="#000" stroke-width="1.2"/>
<line x1="655.95" y1="358.5" x2="661.55" y2="358.5" stroke="#000" stroke-width="1.2"/>
<circle cx="658.75" cy="347.5" r="2.4" fill="#000"/>
<line x1="689.65" y1="312.5" x2="689.65" y2="323.4" stroke="#000" stroke-width="1.2"/>
<line x1="686.85" y1="312.5" x2="692.45" y2="312.5" stroke="#000" stroke-width="1.2"/>
<line x1="686.85" y1="323.4" x2="692.45" y2="323.4" stroke="#000" stroke-width="1.2"/>
<circle cx="689.65" cy="318.4" r="2.4" fill="#000"/>
<line x1="736" y1="285" x2="736" y2="310.8" stroke="#000" stroke-width="1.2"/>
<line x1="733.2" y1="285" x2="738.8" y2="285" stroke="#000" stroke-width="1.2"/>
<line x1="733.2" y1="310.8" x2="738.8" y2="310.8" stroke="#000" stroke-width="1.2"/>
<circle cx="736" cy="297.9" r="2.4" fill="#000"/>
<polyline points="643.3,367.6 658.75,365.7 689.65,351.4 736,343" fill="none" stroke="#ff0d0d" stroke-width="1.4"/>
<line x1="643.3" y1="360.6" x2="643.3" y2="375.5" stroke="#ff0d0d" stroke-width="1.2"/>
<line x1="640.5" y1="360.6" x2="646.1" y2="360.6" stroke="#ff0d0d" stroke-width="1.2"/>
<line x1="640.5" y1="375.5" x2="646.1" y2="375.5" stroke="#ff0d0d" stroke-width="1.2"/>
<rect x="641.09" y="365.39" width="4.42" height="4.42" fill="#ff0d0d"/>
<line x1="658.75" y1="357.4" x2="658.75" y2="375.5" stroke="#ff0d0d" stroke-width="1.2"/>
<line x1="655.95" y1="357.4" x2="661.55" y2="357.4" stroke="#ff0d0d" stroke-width="1.2"/>
<line x1="655.95" y1="375.5" x2="661.55" y2="375.5" stroke="#ff0d0d" stroke-width="1.2"/>
<rect x="656.54" y="363.49" width="4.42" height="4.42" fill="#ff0d0d"/>
<line x1="689.65" y1="343" x2="689.65" y2="360" stroke="#ff0d0d" stroke-width="1.2"/>
<line x1="686.85" y1="343" x2="692.45" y2="343" stroke="#ff0d0d" stroke-width="1.2"/>
<line x1="686.85" y1="360" x2="692.45" y2="360" stroke="#ff0d0d" stroke-width="1.2"/>
<rect x="687.44" y="349.19" width="4.42" height="4.42" fill="#ff0d0d"/>
<line x1="736" y1="338.8" x2="736" y2="347" stroke="#ff0d0d" stroke-width="1.2"/>
<line x1="733.2" y1="338.8" x2="738.8" y2="338.8" stroke="#ff0d0d" stroke-width="1.2"/>
<line x1="733.2" y1="347" x2="738.8" y2="347" stroke="#ff0d0d" stroke-width="1.2"/>
<rect x="733.79" y="340.79" width="4.42" height="4.42" fill="#ff0d0d"/>
<line x1="652" y1="273.6" x2="665.2" y2="273.6" stroke="#000" stroke-width="2.4"/>
<circle cx="658.6" cy="273.6" r="2.3" fill="#000"/>
<text x="667.4" y="277.4" style="font-size:10.6px">WT</text>
<line x1="652" y1="288.9" x2="665.2" y2="288.9" stroke="#ff0d0d" stroke-width="2.4"/>
<rect x="656.3" y="286.6" width="4.6" height="4.6" fill="#ff0d0d"/>
<text x="667.4" y="292.6" style="font-size:10.6px">KO</text>
<text x="659.6" y="335.8" text-anchor="middle" style="font-size:9.5px">**</text>
<text x="690.2" y="312.1" text-anchor="middle" style="font-size:9.5px">***</text>
<text x="736.5" y="284.3" text-anchor="middle" style="font-size:9.5px">***</text>
<text x="2" y="451" font-weight="bold" style="font-size:18.5px;fill:#000">f</text>
<text x="153.2" y="442" text-anchor="middle">Starvation treatment</text>
<line x1="49.2" y1="448" x2="252.5" y2="448" stroke="#000" stroke-width="1"/>
<text x="83.7" y="457.6" text-anchor="middle">0 h</text>
<line x1="49.2" y1="463.7" x2="115.5" y2="463.7" stroke="#000" stroke-width="1"/>
<text x="153" y="457.6" text-anchor="middle">1 h</text>
<line x1="118.2" y1="463.7" x2="184.2" y2="463.7" stroke="#000" stroke-width="1"/>
<text x="218" y="457.6" text-anchor="middle">3 h</text>
<line x1="188" y1="463.7" x2="251.2" y2="463.7" stroke="#000" stroke-width="1"/>
<text x="63.2" y="474.5" text-anchor="middle">WT</text>
<line x1="50" y1="478.2" x2="81.2" y2="478.2" stroke="#000" stroke-width="1"/>
<text x="101.7" y="474.5" text-anchor="middle">KO</text>
<line x1="84.5" y1="478.2" x2="115" y2="478.2" stroke="#000" stroke-width="1"/>
<text x="132.5" y="474.5" text-anchor="middle">WT</text>
<line x1="118.2" y1="478.2" x2="149.2" y2="478.2" stroke="#000" stroke-width="1"/>
<text x="169.5" y="474.5" text-anchor="middle">KO</text>
<line x1="152.5" y1="478.2" x2="183" y2="478.2" stroke="#000" stroke-width="1"/>
<text x="201.2" y="474.5" text-anchor="middle">WT</text>
<line x1="186.2" y1="478.2" x2="217.5" y2="478.2" stroke="#000" stroke-width="1"/>
<text x="235.7" y="474.5" text-anchor="middle">KO</text>
<line x1="220.7" y1="478.2" x2="251.2" y2="478.2" stroke="#000" stroke-width="1"/>
<text x="20" y="486">KD</text>
<rect x="45.8" y="482.5" width="207.8" height="16.2" fill="#dadada"/>
<rect x="45.8" y="500.2" width="207.8" height="24" fill="#e0e0e0"/>
<rect x="45.8" y="526.3" width="207.8" height="48.7" fill="#cbcbcb"/>
<rect x="45.8" y="576.8" width="207.8" height="28.8" fill="#dbdbdb"/>
<rect x="45.8" y="607.6" width="207.8" height="25.6" fill="#dedede"/>
<rect x="45.8" y="635.5" width="207.8" height="25" fill="#e4e4e4"/>
<rect x="45.8" y="662.6" width="207.8" height="30.6" fill="#e1e1e1"/>
<rect x="45.8" y="695.5" width="207.8" height="23.2" fill="#dddddd"/>
<rect x="45.8" y="720.6" width="207.8" height="25.6" fill="#d6d6d6"/>
<g clip-path="url(#cb1)" filter="url(#b1)"><rect x="50.5" y="487.9" width="13" height="4.6" rx="2.3" fill="#222" opacity="0.95"/><rect x="67.05" y="487.7" width="13.5" height="5" rx="2.5" fill="#222" opacity="1"/><rect x="117.95" y="488" width="12.5" height="4.4" rx="2.2" fill="#222" opacity="0.92"/><rect x="134.25" y="487.7" width="13.5" height="5" rx="2.5" fill="#222" opacity="1"/><rect x="186.4" y="488.5" width="10" height="3.4" rx="1.7" fill="#222" opacity="0.8"/><rect x="203.2" y="488.5" width="10" height="3.4" rx="1.7" fill="#222" opacity="0.75"/></g>
<g clip-path="url(#cb1)" filter="url(#b06)"><rect x="51.5" y="488.5" width="11" height="3.4" rx="1.7" fill="#222" opacity="0.8"/><rect x="68.3" y="488.5" width="11" height="3.4" rx="1.7" fill="#222" opacity="0.9"/><rect x="118.7" y="488.5" width="11" height="3.4" rx="1.7" fill="#222" opacity="0.8"/><rect x="135.5" y="488.5" width="11" height="3.4" rx="1.7" fill="#222" opacity="0.9"/><rect x="185.9" y="488.5" width="11" height="3.4" rx="1.7" fill="#222" opacity="0.2"/><rect x="202.7" y="488.5" width="11" height="3.4" rx="1.7" fill="#222" opacity="0.2"/></g>
<g clip-path="url(#cb2)" filter="url(#b1)"><rect x="50" y="510" width="14" height="3" rx="1.5" fill="#2a2a2a" opacity="0.6"/><rect x="66.8" y="510.5" width="14" height="3" rx="1.5" fill="#2a2a2a" opacity="0.5"/><rect x="83.6" y="511.1" width="14" height="3" rx="1.5" fill="#2a2a2a" opacity="0.28"/><rect x="100.4" y="511.1" width="14" height="3" rx="1.5" fill="#2a2a2a" opacity="0.28"/><rect x="117.2" y="510.2" width="14" height="3" rx="1.5" fill="#2a2a2a" opacity="0.62"/><rect x="134" y="510.2" width="14" height="3" rx="1.5" fill="#2a2a2a" opacity="0.72"/><rect x="150.8" y="510.9" width="14" height="3" rx="1.5" fill="#2a2a2a" opacity="0.35"/><rect x="167.6" y="511.1" width="14" height="3" rx="1.5" fill="#2a2a2a" opacity="0.42"/><rect x="184.4" y="510.5" width="14" height="3" rx="1.5" fill="#2a2a2a" opacity="0.8"/><rect x="201.2" y="510.5" width="14" height="3" rx="1.5" fill="#2a2a2a" opacity="0.85"/><rect x="218" y="511.1" width="14" height="3" rx="1.5" fill="#2a2a2a" opacity="0.4"/><rect x="234.8" y="510.9" width="14" height="3" rx="1.5" fill="#2a2a2a" opacity="0.42"/></g>
<g clip-path="url(#cb3)"><rect x="46.8" y="529" width="204.8" height="30" rx="14" fill="#9a9a9a" opacity="0.55" filter="url(#b2)"/><g filter="url(#b15)"><rect x="49.3" y="535" width="199.3" height="18.6" rx="9" fill="#333"/><ellipse cx="57" cy="544.66" rx="9.6" ry="9.63" fill="#303030"/><ellipse cx="73.8" cy="543.99" rx="9.6" ry="10.12" fill="#303030"/><ellipse cx="90.6" cy="543.84" rx="9.6" ry="9.78" fill="#303030"/><ellipse cx="107.4" cy="544.37" rx="9.6" ry="9.91" fill="#303030"/><ellipse cx="124.2" cy="543.87" rx="9.6" ry="9.93" fill="#303030"/><ellipse cx="141" cy="544.3" rx="9.6" ry="10.15" fill="#303030"/><ellipse cx="157.8" cy="543.73" rx="9.6" ry="10.26" fill="#303030"/><ellipse cx="174.6" cy="543.91" rx="9.6" ry="10.11" fill="#303030"/><ellipse cx="191.4" cy="544.31" rx="9.6" ry="10.14" fill="#303030"/><ellipse cx="208.2" cy="543.92" rx="9.6" ry="9.62" fill="#303030"/><ellipse cx="225" cy="543.8" rx="9.6" ry="10.08" fill="#303030"/><ellipse cx="241.8" cy="544.34" rx="9.6" ry="9.5" fill="#303030"/></g><g filter="url(#b1)"><rect x="184.5" y="561" width="62" height="7.6" rx="3.8" fill="#2e2e2e"/><ellipse cx="191.4" cy="564.8" rx="8" ry="5" fill="#2c2c2c"/><ellipse cx="208.2" cy="564.8" rx="8" ry="5" fill="#2c2c2c"/><ellipse cx="225" cy="564.8" rx="8" ry="5" fill="#2c2c2c"/><ellipse cx="241.8" cy="564.8" rx="8" ry="5" fill="#2c2c2c"/></g></g>
<g clip-path="url(#cb3)" filter="url(#b1)"><rect x="50.75" y="563.5" width="12.5" height="3" rx="1.5" fill="#2a2a2a" opacity="0.45"/><rect x="67.55" y="563.8" width="12.5" height="3" rx="1.5" fill="#2a2a2a" opacity="0.7"/><rect x="84.35" y="564.5" width="12.5" height="3" rx="1.5" fill="#2a2a2a" opacity="0.1"/><rect x="101.15" y="564.5" width="12.5" height="3" rx="1.5" fill="#2a2a2a" opacity="0.08"/><rect x="117.95" y="563" width="12.5" height="3" rx="1.5" fill="#2a2a2a" opacity="0.5"/><rect x="134.75" y="562.7" width="12.5" height="3" rx="1.5" fill="#2a2a2a" opacity="0.5"/><rect x="151.55" y="563.5" width="12.5" height="3" rx="1.5" fill="#2a2a2a" opacity="0.3"/><rect x="168.35" y="563.3" width="12.5" height="3" rx="1.5" fill="#2a2a2a" opacity="0.36"/></g>
<g clip-path="url(#cb4)" filter="url(#b1)"><rect x="50.25" y="589" width="13.5" height="4.2" rx="2.1" fill="#2a2a2a" opacity="0.55"/><rect x="67.05" y="588.5" width="13.5" height="4.2" rx="2.1" fill="#2a2a2a" opacity="0.62"/><rect x="83.85" y="589.3" width="13.5" height="4.2" rx="2.1" fill="#2a2a2a" opacity="0.3"/><rect x="100.65" y="589" width="13.5" height="4.2" rx="2.1" fill="#2a2a2a" opacity="0.32"/><rect x="117.45" y="587.2" width="13.5" height="4.2" rx="2.1" fill="#2a2a2a" opacity="0.78"/><rect x="134.25" y="587.5" width="13.5" height="4.2" rx="2.1" fill="#2a2a2a" opacity="0.68"/><rect x="151.05" y="588.3" width="13.5" height="4.2" rx="2.1" fill="#2a2a2a" opacity="0.46"/><rect x="167.85" y="588.9" width="13.5" height="4.2" rx="2.1" fill="#2a2a2a" opacity="0.55"/><rect x="184.65" y="588.5" width="13.5" height="4.2" rx="2.1" fill="#2a2a2a" opacity="0.78"/><rect x="201.45" y="589" width="13.5" height="4.2" rx="2.1" fill="#2a2a2a" opacity="0.72"/><rect x="218.25" y="589.7" width="13.5" height="4.2" rx="2.1" fill="#2a2a2a" opacity="0.66"/><rect x="235.05" y="589" width="13.5" height="4.2" rx="2.1" fill="#2a2a2a" opacity="0.5"/></g>
<g clip-path="url(#cb5)" filter="url(#b1)"><rect x="50.75" y="618.5" width="12.5" height="3.8" rx="1.9" fill="#262626" opacity="0.26"/><rect x="67.55" y="618.5" width="12.5" height="3.8" rx="1.9" fill="#262626" opacity="0.3"/><rect x="84.35" y="618.8" width="12.5" height="3.8" rx="1.9" fill="#262626" opacity="0.12"/><rect x="101.15" y="618.5" width="12.5" height="3.8" rx="1.9" fill="#262626" opacity="0.16"/><rect x="117.95" y="618.5" width="12.5" height="3.8" rx="1.9" fill="#262626" opacity="0.7"/><rect x="134.75" y="618.3" width="12.5" height="3.8" rx="1.9" fill="#262626" opacity="0.78"/><rect x="151.55" y="618.1" width="12.5" height="3.8" rx="1.9" fill="#262626" opacity="0.34"/><rect x="168.35" y="618.1" width="12.5" height="3.8" rx="1.9" fill="#262626" opacity="0.45"/><rect x="185.15" y="617.9" width="12.5" height="3.8" rx="1.9" fill="#262626" opacity="0.7"/><rect x="201.95" y="618.5" width="12.5" height="3.8" rx="1.9" fill="#262626" opacity="0.95"/><rect x="218.75" y="618.5" width="12.5" height="3.8" rx="1.9" fill="#262626" opacity="0.5"/><rect x="235.55" y="618.5" width="12.5" height="3.8" rx="1.9" fill="#262626" opacity="0.75"/></g>
<g clip-path="url(#cb6)" filter="url(#b1)"><rect x="50.5" y="646.7" width="13" height="2.6" rx="1.3" fill="#262626" opacity="0.22"/><rect x="67.3" y="647.5" width="13" height="2.6" rx="1.3" fill="#262626" opacity="0.6"/><rect x="84.1" y="647.7" width="13" height="2.6" rx="1.3" fill="#262626" opacity="0.68"/><rect x="100.9" y="647.5" width="13" height="2.6" rx="1.3" fill="#262626" opacity="0.68"/><rect x="117.7" y="647.5" width="13" height="2.6" rx="1.3" fill="#262626" opacity="0.16"/><rect x="134.5" y="647.2" width="13" height="2.6" rx="1.3" fill="#262626" opacity="0.12"/><rect x="151.3" y="647.2" width="13" height="2.6" rx="1.3" fill="#262626" opacity="0.16"/><rect x="168.1" y="647.5" width="13" height="2.6" rx="1.3" fill="#262626" opacity="0.36"/><rect x="184.9" y="647.1" width="13" height="2.6" rx="1.3" fill="#262626" opacity="0.4"/><rect x="201.7" y="647.1" width="13" height="2.6" rx="1.3" fill="#262626" opacity="0.3"/><rect x="218.5" y="647.8" width="13" height="2.6" rx="1.3" fill="#262626" opacity="0.72"/><rect x="235.3" y="648.3" width="13" height="2.6" rx="1.3" fill="#262626" opacity="0.55"/></g>
<g clip-path="url(#cb7)" filter="url(#b1)"><rect x="117.45" y="677.1" width="13.5" height="5" rx="2.5" fill="#2a2a2a" opacity="0.24"/><rect x="134.25" y="677.1" width="13.5" height="5" rx="2.5" fill="#2a2a2a" opacity="0.26"/><rect x="151.05" y="677.1" width="13.5" height="5" rx="2.5" fill="#2a2a2a" opacity="0.3"/><rect x="167.85" y="677.1" width="13.5" height="5" rx="2.5" fill="#2a2a2a" opacity="0.42"/><rect x="184.65" y="677.1" width="13.5" height="5" rx="2.5" fill="#2a2a2a" opacity="0.14"/><rect x="201.45" y="677.1" width="13.5" height="5" rx="2.5" fill="#2a2a2a" opacity="0.14"/><rect x="218.25" y="677.1" width="13.5" height="5" rx="2.5" fill="#2a2a2a" opacity="0.22"/><rect x="235.05" y="677.1" width="13.5" height="5" rx="2.5" fill="#2a2a2a" opacity="0.14"/></g>
<g clip-path="url(#cb7)" filter="url(#b1)"><rect x="49.25" y="676" width="15.5" height="7.6" rx="3.8" fill="#222" opacity="0.95"/><rect x="66.05" y="676" width="15.5" height="7.6" rx="3.8" fill="#222" opacity="0.9"/><rect x="82.85" y="676" width="15.5" height="7.6" rx="3.8" fill="#222" opacity="1"/><rect x="99.65" y="676" width="15.5" height="7.6" rx="3.8" fill="#222" opacity="1"/></g>
<g clip-path="url(#cb7)" filter="url(#b06)"><rect x="50.5" y="677.05" width="13" height="5.5" rx="2.75" fill="#222" opacity="0.7"/><rect x="67.3" y="677.05" width="13" height="5.5" rx="2.75" fill="#222" opacity="0.5"/><rect x="84.1" y="677.05" width="13" height="5.5" rx="2.75" fill="#222" opacity="0.8"/><rect x="100.9" y="677.05" width="13" height="5.5" rx="2.75" fill="#222" opacity="0.8"/></g>
<g clip-path="url(#cb8)" filter="url(#b1)"><rect x="52.75" y="708.1" width="8.5" height="3.4" rx="1.7" fill="#262626" opacity="0.55"/><rect x="67.8" y="707.6" width="12" height="4.4" rx="2.2" fill="#262626" opacity="0.62"/><rect x="83.1" y="706.5" width="15" height="6.6" rx="3.3" fill="#262626" opacity="0.85"/><rect x="100.4" y="707.1" width="14" height="5.4" rx="2.7" fill="#262626" opacity="0.85"/><rect x="118.2" y="707.6" width="12" height="3.8" rx="1.9" fill="#262626" opacity="0.88"/><rect x="134.5" y="706.7" width="13" height="4.6" rx="2.3" fill="#262626" opacity="0.9"/><rect x="150.3" y="705.8" width="15" height="6.4" rx="3.2" fill="#262626" opacity="0.95"/><rect x="167.1" y="706.2" width="15" height="6.2" rx="3.1" fill="#262626" opacity="0.95"/><rect x="187.4" y="708.3" width="8" height="3" rx="1.5" fill="#262626" opacity="0.04"/><rect x="221" y="708.3" width="8" height="3" rx="1.5" fill="#262626" opacity="0.08"/><rect x="236.8" y="705.8" width="10" height="6" rx="3" fill="#262626" opacity="0.55"/></g>
<g clip-path="url(#cb9)" filter="url(#b1)"><rect x="48.8" y="729.2" width="199.8" height="5" rx="2.5" fill="#383838"/><ellipse cx="57" cy="731.45" rx="8.4" ry="3.35" fill="#343434"/><ellipse cx="73.8" cy="731.46" rx="8.4" ry="3.64" fill="#343434"/><ellipse cx="90.6" cy="731.65" rx="8.4" ry="3.72" fill="#343434"/><ellipse cx="107.4" cy="731.36" rx="8.4" ry="3.8" fill="#343434"/><ellipse cx="124.2" cy="732.09" rx="8.4" ry="3.74" fill="#343434"/><ellipse cx="141" cy="731.89" rx="8.4" ry="3.81" fill="#343434"/><ellipse cx="157.8" cy="731.38" rx="8.4" ry="3.58" fill="#343434"/><ellipse cx="174.6" cy="731.36" rx="8.4" ry="3.77" fill="#343434"/><ellipse cx="191.4" cy="731.73" rx="8.4" ry="3.36" fill="#343434"/><ellipse cx="208.2" cy="731.66" rx="8.4" ry="3.77" fill="#343434"/><ellipse cx="225" cy="731.74" rx="8.4" ry="3.37" fill="#343434"/><ellipse cx="241.8" cy="732.05" rx="8.4" ry="3.33" fill="#343434"/></g>
<rect x="45.8" y="482.5" width="207.8" height="16.2" fill="none" stroke="#000" stroke-width="1.3"/>
<rect x="45.8" y="500.2" width="207.8" height="24" fill="none" stroke="#000" stroke-width="1.3"/>
<rect x="45.8" y="526.3" width="207.8" height="48.7" fill="none" stroke="#000" stroke-width="1.3"/>
<rect x="45.8" y="576.8" width="207.8" height="28.8" fill="none" stroke="#000" stroke-width="1.3"/>
<rect x="45.8" y="607.6" width="207.8" height="25.6" fill="none" stroke="#000" stroke-width="1.3"/>
<rect x="45.8" y="635.5" width="207.8" height="25" fill="none" stroke="#000" stroke-width="1.3"/>
<rect x="45.8" y="662.6" width="207.8" height="30.6" fill="none" stroke="#000" stroke-width="1.3"/>
<rect x="45.8" y="695.5" width="207.8" height="23.2" fill="none" stroke="#000" stroke-width="1.3"/>
<rect x="45.8" y="720.6" width="207.8" height="25.6" fill="none" stroke="#000" stroke-width="1.3"/>
<line x1="38.2" y1="496.7" x2="45.8" y2="496.7" stroke="#000" stroke-width="1.2"/>
<text x="35.5" y="500.5" text-anchor="end">25</text>
<line x1="38.2" y1="518" x2="45.8" y2="518" stroke="#000" stroke-width="1.2"/>
<text x="35.5" y="521.8" text-anchor="end">100</text>
<line x1="38.2" y1="558" x2="45.8" y2="558" stroke="#000" stroke-width="1.2"/>
<text x="35.5" y="561.8" text-anchor="end">100</text>
<line x1="38.2" y1="604.8" x2="45.8" y2="604.8" stroke="#000" stroke-width="1.2"/>
<text x="35.5" y="608.6" text-anchor="end">50</text>
<line x1="38.2" y1="619.8" x2="45.8" y2="619.8" stroke="#000" stroke-width="1.2"/>
<text x="35.5" y="623.6" text-anchor="end">180</text>
<line x1="38.2" y1="657" x2="45.8" y2="657" stroke="#000" stroke-width="1.2"/>
<text x="35.5" y="660.8" text-anchor="end">250</text>
<line x1="38.2" y1="690.7" x2="45.8" y2="690.7" stroke="#000" stroke-width="1.2"/>
<text x="35.5" y="694.5" text-anchor="end">100</text>
<line x1="38.2" y1="699.5" x2="45.8" y2="699.5" stroke="#000" stroke-width="1.2"/>
<text x="35.5" y="703.3" text-anchor="end">75</text>
<line x1="38.2" y1="741.2" x2="45.8" y2="741.2" stroke="#000" stroke-width="1.2"/>
<text x="35.5" y="745" text-anchor="end">37</text>
<text x="38.6" y="514">S</text>
<text x="39.6" y="550">L</text>
<text x="259.2" y="495.7">ENDOG</text>
<text x="259.2" y="515">PARP1</text>
<text x="259.2" y="545.5">PARP1</text>
<text x="260" y="572.5">c-PARP1</text>
<text x="259.5" y="598">p-AMPK</text>
<text x="261.7" y="623">p-TSC2</text>
<text x="260" y="653.7">p-mTOR</text>
<text x="260" y="683.7">p-ULK1</text>
<text x="259.5" y="710.5">p-p70S6K</text>
<text x="260" y="739">ACTB</text>
<line x1="253.6" y1="545.5" x2="258.5" y2="541.5" stroke="#000" stroke-width="1"/>
<line x1="253.6" y1="566.5" x2="259.5" y2="571" stroke="#000" stroke-width="1"/>
<text x="1" y="777" font-weight="bold" style="font-size:18.5px;fill:#000">h</text>
<text x="146.5" y="783.7" text-anchor="middle">Starvation treatment</text>
<line x1="38.7" y1="788.7" x2="247.5" y2="788.7" stroke="#000" stroke-width="1"/>
<text x="76.2" y="798.8" text-anchor="middle">0 h</text>
<line x1="42.5" y1="803.7" x2="109.5" y2="803.7" stroke="#000" stroke-width="1"/>
<text x="145.7" y="798.8" text-anchor="middle">1 h</text>
<line x1="112" y1="803.7" x2="176.2" y2="803.7" stroke="#000" stroke-width="1"/>
<text x="210" y="798.8" text-anchor="middle">3 h</text>
<line x1="180.5" y1="803.7" x2="247.5" y2="803.7" stroke="#000" stroke-width="1"/>
<text x="58" y="817.5" text-anchor="middle">WT</text>
<line x1="45" y1="821.2" x2="78.7" y2="821.2" stroke="#000" stroke-width="1"/>
<text x="94.2" y="817.5" text-anchor="middle">KO</text>
<line x1="82.5" y1="821.2" x2="108" y2="821.2" stroke="#000" stroke-width="1"/>
<text x="128.7" y="817.5" text-anchor="middle">WT</text>
<line x1="112" y1="821.2" x2="145.5" y2="821.2" stroke="#000" stroke-width="1"/>
<text x="162" y="817.5" text-anchor="middle">KO</text>
<line x1="149.2" y1="821.2" x2="174.2" y2="821.2" stroke="#000" stroke-width="1"/>
<text x="193" y="817.5" text-anchor="middle">WT</text>
<line x1="178.2" y1="821.2" x2="211.7" y2="821.2" stroke="#000" stroke-width="1"/>
<text x="228" y="817.5" text-anchor="middle">KO</text>
<line x1="215.5" y1="821.2" x2="241.2" y2="821.2" stroke="#000" stroke-width="1"/>
<text x="15.5" y="825.5">KD</text>
<rect x="40.6" y="823.3" width="207" height="23.7" fill="#dadada"/>
<rect x="40.6" y="849.6" width="207" height="27.9" fill="#e1e1e1"/>
<rect x="40.6" y="880" width="207" height="25" fill="#e6e6e6"/>
<rect x="40.6" y="908" width="207" height="35.2" fill="#cfcfcf"/>
<rect x="40.6" y="945.8" width="207" height="21.7" fill="#d6d6d6"/>
<rect x="40.6" y="969.6" width="207" height="30.4" fill="#d3d3d3"/>
<g clip-path="url(#cb10)" filter="url(#b1)"><rect x="44.8" y="833.8" width="14" height="3.6" rx="1.8" fill="#1e1e1e" opacity="0.95"/><rect x="61.1" y="833.4" width="15" height="5" rx="2.5" fill="#1e1e1e" opacity="1"/><rect x="112" y="834" width="14" height="4.4" rx="2.2" fill="#1e1e1e" opacity="1"/><rect x="128.3" y="833.4" width="15" height="5" rx="2.5" fill="#1e1e1e" opacity="1"/><rect x="179.7" y="834" width="13" height="3.8" rx="1.9" fill="#1e1e1e" opacity="0.95"/><rect x="198" y="835.1" width="10" height="2.6" rx="1.3" fill="#1e1e1e" opacity="0.75"/></g>
<g clip-path="url(#cb10)" filter="url(#b06)"><rect x="45.8" y="834.2" width="12" height="2.8" rx="1.4" fill="#1e1e1e" opacity="0.9"/><rect x="62.1" y="833.9" width="13" height="4" rx="2" fill="#1e1e1e" opacity="1"/><rect x="113" y="834.5" width="12" height="3.4" rx="1.7" fill="#1e1e1e" opacity="1"/><rect x="129.3" y="833.9" width="13" height="4" rx="2" fill="#1e1e1e" opacity="1"/><rect x="180.7" y="834.4" width="11" height="3" rx="1.5" fill="#1e1e1e" opacity="0.8"/><rect x="199" y="835.4" width="8" height="2" rx="1" fill="#1e1e1e" opacity="0.3"/></g>
<g clip-path="url(#cb11)" filter="url(#b1)"><rect x="44.8" y="861.1" width="14" height="4.4" rx="2.2" fill="#2a2a2a" opacity="0.58"/><rect x="61.6" y="860.8" width="14" height="4.4" rx="2.2" fill="#2a2a2a" opacity="0.58"/><rect x="78.4" y="861.8" width="14" height="4.4" rx="2.2" fill="#2a2a2a" opacity="0.16"/><rect x="95.2" y="860.8" width="14" height="4.4" rx="2.2" fill="#2a2a2a" opacity="0.28"/><rect x="112" y="859.8" width="14" height="4.4" rx="2.2" fill="#2a2a2a" opacity="0.72"/><rect x="128.8" y="860" width="14" height="4.4" rx="2.2" fill="#2a2a2a" opacity="0.66"/><rect x="145.6" y="860.8" width="14" height="4.4" rx="2.2" fill="#2a2a2a" opacity="0.22"/><rect x="162.4" y="861.1" width="14" height="4.4" rx="2.2" fill="#2a2a2a" opacity="0.34"/><rect x="179.2" y="860.8" width="14" height="4.4" rx="2.2" fill="#2a2a2a" opacity="0.92"/><rect x="196" y="861.6" width="14" height="4.4" rx="2.2" fill="#2a2a2a" opacity="0.88"/><rect x="212.8" y="862.4" width="14" height="4.4" rx="2.2" fill="#2a2a2a" opacity="0.68"/><rect x="229.6" y="863.4" width="14" height="4.4" rx="2.2" fill="#2a2a2a" opacity="0.68"/></g>
<g clip-path="url(#cb11)" filter="url(#b1)"><rect x="179.2" y="861.1" width="14" height="4.6" rx="2.3" fill="#2a2a2a" opacity="0.6"/><rect x="196" y="861.9" width="14" height="4.6" rx="2.3" fill="#2a2a2a" opacity="0.5"/></g>
<g clip-path="url(#cb12)" filter="url(#b1)"><rect x="110.25" y="891.1" width="12.5" height="3.6" rx="1.8" fill="#262626" opacity="0.85"/><rect x="127.05" y="889.3" width="13.5" height="5.6" rx="2.8" fill="#262626" opacity="0.95"/></g>
<g clip-path="url(#cb12)" filter="url(#b1)"><rect x="148.1" y="892" width="9" height="3" rx="1.5" fill="#262626" opacity="0.07"/></g>
<g clip-path="url(#cb12)" filter="url(#b1)"><rect x="177.65" y="887.05" width="17.5" height="10.5" rx="5.25" fill="#2c2c2c" opacity="1"/><rect x="195.15" y="888.4" width="16.5" height="9" rx="4.5" fill="#2c2c2c" opacity="1"/></g>
<g clip-path="url(#cb12)" filter="url(#b1)"><rect x="179.9" y="888.8" width="13" height="7" rx="3.5" fill="#2c2c2c" opacity="0.8"/><rect x="197.4" y="889.9" width="12" height="6" rx="3" fill="#2c2c2c" opacity="0.7"/></g>
<g clip-path="url(#cb13)" filter="url(#b1)"><rect x="44.8" y="919.3" width="14" height="4.8" rx="2.4" fill="#2a2a2a" opacity="0.16"/><rect x="61.6" y="919.3" width="14" height="4.8" rx="2.4" fill="#2a2a2a" opacity="0.24"/><rect x="78.4" y="918.1" width="14" height="4.8" rx="2.4" fill="#2a2a2a" opacity="0.36"/><rect x="95.2" y="918.8" width="14" height="4.8" rx="2.4" fill="#2a2a2a" opacity="0.3"/><rect x="112" y="919.6" width="14" height="4.8" rx="2.4" fill="#2a2a2a" opacity="0.68"/><rect x="128.8" y="920.1" width="14" height="4.8" rx="2.4" fill="#2a2a2a" opacity="0.6"/><rect x="145.6" y="919.3" width="14" height="4.8" rx="2.4" fill="#2a2a2a" opacity="0.88"/><rect x="162.4" y="919.3" width="14" height="4.8" rx="2.4" fill="#2a2a2a" opacity="0.7"/><rect x="179.2" y="919.6" width="14" height="4.8" rx="2.4" fill="#2a2a2a" opacity="0.62"/><rect x="196" y="918.8" width="14" height="4.8" rx="2.4" fill="#2a2a2a" opacity="0.85"/><rect x="212.8" y="919.5" width="14" height="4.8" rx="2.4" fill="#2a2a2a" opacity="0.82"/><rect x="229.6" y="918.1" width="14" height="4.8" rx="2.4" fill="#2a2a2a" opacity="0.95"/></g>
<g clip-path="url(#cb13)" filter="url(#b1)"><rect x="44.55" y="928.3" width="14.5" height="5" rx="2.5" fill="#2a2a2a" opacity="0.34"/><rect x="61.35" y="928.5" width="14.5" height="5" rx="2.5" fill="#2a2a2a" opacity="0.34"/><rect x="78.15" y="929.1" width="14.5" height="5" rx="2.5" fill="#2a2a2a" opacity="0.15"/><rect x="94.95" y="929.1" width="14.5" height="5" rx="2.5" fill="#2a2a2a" opacity="0.24"/><rect x="111.75" y="929.1" width="14.5" height="5" rx="2.5" fill="#2a2a2a" opacity="0.85"/><rect x="128.55" y="929.5" width="14.5" height="5" rx="2.5" fill="#2a2a2a" opacity="0.78"/><rect x="145.35" y="929.1" width="14.5" height="5" rx="2.5" fill="#2a2a2a" opacity="0.64"/><rect x="162.15" y="929.1" width="14.5" height="5" rx="2.5" fill="#2a2a2a" opacity="0.64"/><rect x="178.95" y="929.1" width="14.5" height="5" rx="2.5" fill="#2a2a2a" opacity="0.6"/><rect x="195.75" y="929.1" width="14.5" height="5" rx="2.5" fill="#2a2a2a" opacity="0.72"/><rect x="212.55" y="929.4" width="14.5" height="5" rx="2.5" fill="#2a2a2a" opacity="0.52"/><rect x="229.35" y="929.3" width="14.5" height="5" rx="2.5" fill="#2a2a2a" opacity="0.52"/></g>
<g clip-path="url(#cb14)" filter="url(#b1)"><rect x="44.8" y="953.2" width="14" height="3" rx="1.5" fill="#262626" opacity="0.55"/><rect x="61.6" y="952.9" width="14" height="3" rx="1.5" fill="#262626" opacity="0.62"/><rect x="78.4" y="952.3" width="14" height="3" rx="1.5" fill="#262626" opacity="1"/><rect x="95.2" y="952.1" width="14" height="3" rx="1.5" fill="#262626" opacity="0.85"/><rect x="112" y="951.7" width="14" height="3" rx="1.5" fill="#262626" opacity="0.32"/><rect x="128.8" y="951.5" width="14" height="3" rx="1.5" fill="#262626" opacity="0.32"/><rect x="145.6" y="950.7" width="14" height="3" rx="1.5" fill="#262626" opacity="0.5"/><rect x="162.4" y="950.7" width="14" height="3" rx="1.5" fill="#262626" opacity="0.5"/><rect x="179.2" y="951.4" width="14" height="3" rx="1.5" fill="#262626" opacity="0.32"/><rect x="196" y="951.4" width="14" height="3" rx="1.5" fill="#262626" opacity="0.4"/><rect x="212.8" y="951.4" width="14" height="3" rx="1.5" fill="#262626" opacity="0.62"/><rect x="229.6" y="951.4" width="14" height="3" rx="1.5" fill="#262626" opacity="0.62"/></g>
<g clip-path="url(#cb15)" filter="url(#b1)"><rect x="44.6" y="981.4" width="195" height="3.6" rx="1.8" fill="#333"/><ellipse cx="51.8" cy="983.1" rx="8" ry="2.94" fill="#2e2e2e"/><ellipse cx="68.6" cy="982.88" rx="8" ry="2.97" fill="#2e2e2e"/><ellipse cx="85.4" cy="983.46" rx="8" ry="2.98" fill="#2e2e2e"/><ellipse cx="102.2" cy="983.08" rx="8" ry="3.28" fill="#2e2e2e"/><ellipse cx="119" cy="983.24" rx="8" ry="3.46" fill="#2e2e2e"/><ellipse cx="135.8" cy="983.19" rx="8" ry="3.1" fill="#2e2e2e"/><ellipse cx="152.6" cy="983.31" rx="8" ry="2.95" fill="#2e2e2e"/><ellipse cx="169.4" cy="983.6" rx="8" ry="3.06" fill="#2e2e2e"/><ellipse cx="186.2" cy="983.09" rx="8" ry="3.28" fill="#2e2e2e"/><ellipse cx="203" cy="982.85" rx="8" ry="3.26" fill="#2e2e2e"/><ellipse cx="219.8" cy="983.55" rx="8" ry="3.04" fill="#2e2e2e"/><ellipse cx="236.6" cy="983.65" rx="8" ry="3.17" fill="#2e2e2e"/></g>
<rect x="40.6" y="823.3" width="207" height="23.7" fill="none" stroke="#000" stroke-width="1.3"/>
<rect x="40.6" y="849.6" width="207" height="27.9" fill="none" stroke="#000" stroke-width="1.3"/>
<rect x="40.6" y="880" width="207" height="25" fill="none" stroke="#000" stroke-width="1.3"/>
<rect x="40.6" y="908" width="207" height="35.2" fill="none" stroke="#000" stroke-width="1.3"/>
<rect x="40.6" y="945.8" width="207" height="21.7" fill="none" stroke="#000" stroke-width="1.3"/>
<rect x="40.6" y="969.6" width="207" height="30.4" fill="none" stroke="#000" stroke-width="1.3"/>
<line x1="33.8" y1="843.2" x2="40.6" y2="843.2" stroke="#000" stroke-width="1.2"/>
<text x="31.5" y="847" text-anchor="end">25</text>
<line x1="33.8" y1="869.5" x2="40.6" y2="869.5" stroke="#000" stroke-width="1.2"/>
<text x="31.5" y="873.3" text-anchor="end">50</text>
<line x1="33.8" y1="901.7" x2="40.6" y2="901.7" stroke="#000" stroke-width="1.2"/>
<text x="31.5" y="905.5" text-anchor="end">50</text>
<line x1="33.8" y1="913" x2="40.6" y2="913" stroke="#000" stroke-width="1.2"/>
<text x="31.5" y="916.8" text-anchor="end">20</text>
<line x1="33.8" y1="935.7" x2="40.6" y2="935.7" stroke="#000" stroke-width="1.2"/>
<text x="31.5" y="939.5" text-anchor="end">15</text>
<line x1="33.8" y1="963.7" x2="40.6" y2="963.7" stroke="#000" stroke-width="1.2"/>
<text x="31.5" y="967.5" text-anchor="end">50</text>
<line x1="33.8" y1="984.2" x2="40.6" y2="984.2" stroke="#000" stroke-width="1.2"/>
<text x="31.5" y="988" text-anchor="end">37</text>
<text x="252.5" y="843.7">ENDOG</text>
<text x="253" y="867.6">p-CHK1</text>
<text x="253" y="895.6">p-CHK2</text>
<text x="252.8" y="926.2">LC3B-I</text>
<text x="252.8" y="939.6">LC3B-II</text>
<text x="253.7" y="962.5">SQSTM1</text>
<text x="252" y="987.5">GAPDH</text>
<text x="308.5" y="450.5" font-weight="bold" style="font-size:18.5px;fill:#000">g</text>
<text x="343.3" y="608.5" text-anchor="middle" transform="rotate(-90 343.3 608.5)">Relative protein levels (Fold changes)</text>
<circle cx="404.5" cy="495.5" r="4.5" fill="#000"/>
<text x="415" y="499.7">WT CT</text>
<rect x="400.77" y="513.27" width="8.46" height="8.46" fill="#ff0d0d"/>
<text x="415" y="521.9">KO CT</text>
<polygon points="485.5,491.2 490.1,499.48 480.9,499.48" fill="#878796"/>
<text x="495" y="500">WT Starvation 1h</text>
<polygon points="485.5,521.8 490.1,513.52 480.9,513.52" fill="#f5a3a7"/>
<text x="495" y="521.6">KO Starvation 1h</text>
<polygon points="610.5,491.38 614.62,495.5 610.5,499.62 606.38,495.5" fill="#5e5214"/>
<text x="621.6" y="499.7">WT Starvation 3h</text>
<polygon points="615.86,518 613.43,522.21 608.57,522.21 606.14,518 608.57,513.79 613.43,513.79" fill="#7e1123"/>
<text x="623" y="522.4">KO Starvation 3h</text>
<line x1="358.5" y1="658.2" x2="363" y2="658.2" stroke="#000" stroke-width="1.2"/>
<text x="357.5" y="662" text-anchor="end">0</text>
<line x1="358.5" y1="620.64" x2="363" y2="620.64" stroke="#000" stroke-width="1.2"/>
<text x="357.5" y="624.44" text-anchor="end">2</text>
<line x1="358.5" y1="583.08" x2="363" y2="583.08" stroke="#000" stroke-width="1.2"/>
<text x="357.5" y="586.88" text-anchor="end">4</text>
<line x1="358.5" y1="545.52" x2="363" y2="545.52" stroke="#000" stroke-width="1.2"/>
<text x="357.5" y="549.32" text-anchor="end">6</text>
<path d="M365.2 658.2 V639.42 H370.8 V658.2" fill="none" stroke="#000" stroke-width="1.3"/>
<line x1="368" y1="637.17" x2="368" y2="641.67" stroke="#000" stroke-width="1.1"/>
<line x1="365.8" y1="637.17" x2="370.2" y2="637.17" stroke="#000" stroke-width="1.1"/>
<line x1="365.8" y1="641.67" x2="370.2" y2="641.67" stroke="#000" stroke-width="1.1"/>
<circle cx="366.77" cy="637.05" r="2.1" fill="#000"/>
<circle cx="368" cy="641" r="2.1" fill="#000"/>
<circle cx="369.23" cy="638.97" r="2.1" fill="#000"/>
<circle cx="366.77" cy="639.87" r="2.1" fill="#000"/>
<path d="M374 658.2 V650.69 H379.6 V658.2" fill="none" stroke="#ff0d0d" stroke-width="1.3"/>
<line x1="376.8" y1="649.94" x2="376.8" y2="651.44" stroke="#ff0d0d" stroke-width="1.1"/>
<line x1="374.6" y1="649.94" x2="379" y2="649.94" stroke="#ff0d0d" stroke-width="1.1"/>
<line x1="374.6" y1="651.44" x2="379" y2="651.44" stroke="#ff0d0d" stroke-width="1.1"/>
<rect x="373.64" y="647.97" width="3.86" height="3.86" fill="#ff0d0d"/>
<rect x="374.87" y="649.28" width="3.86" height="3.86" fill="#ff0d0d"/>
<rect x="376.1" y="648.61" width="3.86" height="3.86" fill="#ff0d0d"/>
<rect x="373.64" y="648.91" width="3.86" height="3.86" fill="#ff0d0d"/>
<path d="M382.8 658.2 V636.6 H388.4 V658.2" fill="none" stroke="#878796" stroke-width="1.3"/>
<line x1="385.6" y1="632.85" x2="385.6" y2="640.36" stroke="#878796" stroke-width="1.1"/>
<line x1="383.4" y1="632.85" x2="387.8" y2="632.85" stroke="#878796" stroke-width="1.1"/>
<line x1="383.4" y1="640.36" x2="387.8" y2="640.36" stroke="#878796" stroke-width="1.1"/>
<polygon points="384.37,630.24 386.78,634.59 381.95,634.59" fill="#878796"/>
<polygon points="385.6,636.82 388.02,641.16 383.19,641.16" fill="#878796"/>
<polygon points="386.83,633.44 389.25,637.78 384.42,637.78" fill="#878796"/>
<polygon points="384.37,634.94 386.78,639.29 381.95,639.29" fill="#878796"/>
<path d="M391.6 658.2 V645.05 H397.2 V658.2" fill="none" stroke="#f5a3a7" stroke-width="1.3"/>
<line x1="394.4" y1="643.93" x2="394.4" y2="646.18" stroke="#f5a3a7" stroke-width="1.1"/>
<line x1="392.2" y1="643.93" x2="396.6" y2="643.93" stroke="#f5a3a7" stroke-width="1.1"/>
<line x1="392.2" y1="646.18" x2="396.6" y2="646.18" stroke="#f5a3a7" stroke-width="1.1"/>
<polygon points="393.17,646.29 395.58,641.94 390.75,641.94" fill="#f5a3a7"/>
<polygon points="394.4,648.26 396.81,643.91 391.98,643.91" fill="#f5a3a7"/>
<polygon points="395.63,647.24 398.05,642.9 393.22,642.9" fill="#f5a3a7"/>
<polygon points="393.17,647.69 395.58,643.35 390.75,643.35" fill="#f5a3a7"/>
<path d="M400.4 658.2 V629.09 H406 V658.2" fill="none" stroke="#5e5214" stroke-width="1.3"/>
<line x1="403.2" y1="624.96" x2="403.2" y2="633.22" stroke="#5e5214" stroke-width="1.1"/>
<line x1="401" y1="624.96" x2="405.4" y2="624.96" stroke="#5e5214" stroke-width="1.1"/>
<line x1="401" y1="633.22" x2="405.4" y2="633.22" stroke="#5e5214" stroke-width="1.1"/>
<polygon points="401.97,622.13 404.59,624.75 401.97,627.38 399.34,624.75" fill="#5e5214"/>
<polygon points="403.2,629.36 405.82,631.98 403.2,634.61 400.57,631.98" fill="#5e5214"/>
<polygon points="404.43,625.64 407.06,628.26 404.43,630.89 401.81,628.26" fill="#5e5214"/>
<polygon points="401.97,627.29 404.59,629.92 401.97,632.54 399.34,629.92" fill="#5e5214"/>
<path d="M409.2 658.2 V642.24 H414.8 V658.2" fill="none" stroke="#7e1123" stroke-width="1.3"/>
<line x1="412" y1="640.36" x2="412" y2="644.12" stroke="#7e1123" stroke-width="1.1"/>
<line x1="409.8" y1="640.36" x2="414.2" y2="640.36" stroke="#7e1123" stroke-width="1.1"/>
<line x1="409.8" y1="644.12" x2="414.2" y2="644.12" stroke="#7e1123" stroke-width="1.1"/>
<polygon points="413.04,640.27 411.9,642.23 409.63,642.23 408.5,640.27 409.63,638.3 411.9,638.3" fill="#7e1123"/>
<polygon points="414.27,643.55 413.13,645.52 410.87,645.52 409.73,643.55 410.87,641.59 413.13,641.59" fill="#7e1123"/>
<polygon points="415.5,641.86 414.37,643.83 412.1,643.83 410.96,641.86 412.1,639.9 414.37,639.9" fill="#7e1123"/>
<polygon points="413.04,642.61 411.9,644.58 409.63,644.58 408.5,642.61 409.63,640.65 411.9,640.65" fill="#7e1123"/>
<line x1="390" y1="658.2" x2="390" y2="661.7" stroke="#000" stroke-width="1.2"/>
<text x="393.2" y="668.6" text-anchor="end" transform="rotate(-45 393.2 668.6)">PARP1</text>
<path d="M423.3 658.2 V639.42 H428.9 V658.2" fill="none" stroke="#000" stroke-width="1.3"/>
<line x1="426.1" y1="635.29" x2="426.1" y2="643.55" stroke="#000" stroke-width="1.1"/>
<line x1="423.9" y1="635.29" x2="428.3" y2="635.29" stroke="#000" stroke-width="1.1"/>
<line x1="423.9" y1="643.55" x2="428.3" y2="643.55" stroke="#000" stroke-width="1.1"/>
<circle cx="424.87" cy="635.08" r="2.1" fill="#000"/>
<circle cx="426.1" cy="642.31" r="2.1" fill="#000"/>
<circle cx="427.33" cy="638.59" r="2.1" fill="#000"/>
<circle cx="424.87" cy="640.25" r="2.1" fill="#000"/>
<path d="M432.1 658.2 V651.63 H437.7 V658.2" fill="none" stroke="#ff0d0d" stroke-width="1.3"/>
<line x1="434.9" y1="648.25" x2="434.9" y2="655.01" stroke="#ff0d0d" stroke-width="1.1"/>
<line x1="432.7" y1="648.25" x2="437.1" y2="648.25" stroke="#ff0d0d" stroke-width="1.1"/>
<line x1="432.7" y1="655.01" x2="437.1" y2="655.01" stroke="#ff0d0d" stroke-width="1.1"/>
<rect x="431.74" y="646.15" width="3.86" height="3.86" fill="#ff0d0d"/>
<rect x="432.97" y="652.06" width="3.86" height="3.86" fill="#ff0d0d"/>
<rect x="434.2" y="649.02" width="3.86" height="3.86" fill="#ff0d0d"/>
<rect x="431.74" y="650.37" width="3.86" height="3.86" fill="#ff0d0d"/>
<path d="M440.9 658.2 V642.24 H446.5 V658.2" fill="none" stroke="#878796" stroke-width="1.3"/>
<line x1="443.7" y1="640.73" x2="443.7" y2="643.74" stroke="#878796" stroke-width="1.1"/>
<line x1="441.5" y1="640.73" x2="445.9" y2="640.73" stroke="#878796" stroke-width="1.1"/>
<line x1="441.5" y1="643.74" x2="445.9" y2="643.74" stroke="#878796" stroke-width="1.1"/>
<polygon points="442.47,638.24 444.88,642.59 440.05,642.59" fill="#878796"/>
<polygon points="443.7,640.87 446.12,645.22 441.29,645.22" fill="#878796"/>
<polygon points="444.93,639.52 447.35,643.87 442.52,643.87" fill="#878796"/>
<polygon points="442.47,640.12 444.88,644.47 440.05,644.47" fill="#878796"/>
<path d="M449.7 658.2 V647.31 H455.3 V658.2" fill="none" stroke="#f5a3a7" stroke-width="1.3"/>
<line x1="452.5" y1="644.49" x2="452.5" y2="650.12" stroke="#f5a3a7" stroke-width="1.1"/>
<line x1="450.3" y1="644.49" x2="454.7" y2="644.49" stroke="#f5a3a7" stroke-width="1.1"/>
<line x1="450.3" y1="650.12" x2="454.7" y2="650.12" stroke="#f5a3a7" stroke-width="1.1"/>
<polygon points="451.27,646.76 453.68,642.42 448.85,642.42" fill="#f5a3a7"/>
<polygon points="452.5,651.69 454.92,647.35 450.08,647.35" fill="#f5a3a7"/>
<polygon points="453.73,649.16 456.15,644.81 451.32,644.81" fill="#f5a3a7"/>
<polygon points="451.27,650.29 453.68,645.94 448.85,645.94" fill="#f5a3a7"/>
<path d="M458.5 658.2 V577.45 H464.1 V658.2" fill="none" stroke="#5e5214" stroke-width="1.3"/>
<line x1="461.3" y1="560.54" x2="461.3" y2="594.35" stroke="#5e5214" stroke-width="1.1"/>
<line x1="459.1" y1="560.54" x2="463.5" y2="560.54" stroke="#5e5214" stroke-width="1.1"/>
<line x1="459.1" y1="594.35" x2="463.5" y2="594.35" stroke="#5e5214" stroke-width="1.1"/>
<polygon points="460.07,557.07 462.69,559.7 460.07,562.32 457.44,559.7" fill="#5e5214"/>
<polygon points="461.3,586.65 463.93,589.28 461.3,591.9 458.68,589.28" fill="#5e5214"/>
<polygon points="462.53,571.44 465.16,574.07 462.53,576.69 459.91,574.07" fill="#5e5214"/>
<polygon points="460.07,578.2 462.69,580.83 460.07,583.45 457.44,580.83" fill="#5e5214"/>
<path d="M467.3 658.2 V584.02 H472.9 V658.2" fill="none" stroke="#7e1123" stroke-width="1.3"/>
<line x1="470.1" y1="574.63" x2="470.1" y2="593.41" stroke="#7e1123" stroke-width="1.1"/>
<line x1="467.9" y1="574.63" x2="472.3" y2="574.63" stroke="#7e1123" stroke-width="1.1"/>
<line x1="467.9" y1="593.41" x2="472.3" y2="593.41" stroke="#7e1123" stroke-width="1.1"/>
<polygon points="471.14,574.16 470,576.12 467.73,576.12 466.6,574.16 467.73,572.2 470,572.2" fill="#7e1123"/>
<polygon points="472.37,590.59 471.23,592.56 468.97,592.56 467.83,590.59 468.97,588.63 471.23,588.63" fill="#7e1123"/>
<polygon points="473.6,582.14 472.47,584.11 470.2,584.11 469.06,582.14 470.2,580.18 472.47,580.18" fill="#7e1123"/>
<polygon points="471.14,585.9 470,587.86 467.73,587.86 466.6,585.9 467.73,583.93 470,583.93" fill="#7e1123"/>
<line x1="448.1" y1="658.2" x2="448.1" y2="661.7" stroke="#000" stroke-width="1.2"/>
<text x="451.3" y="668.6" text-anchor="end" transform="rotate(-45 451.3 668.6)">c-PARP1</text>
<path d="M481.4 658.2 V639.42 H487 V658.2" fill="none" stroke="#000" stroke-width="1.3"/>
<line x1="484.2" y1="636.98" x2="484.2" y2="641.86" stroke="#000" stroke-width="1.1"/>
<line x1="482" y1="636.98" x2="486.4" y2="636.98" stroke="#000" stroke-width="1.1"/>
<line x1="482" y1="641.86" x2="486.4" y2="641.86" stroke="#000" stroke-width="1.1"/>
<circle cx="482.97" cy="636.86" r="2.1" fill="#000"/>
<circle cx="484.2" cy="641.13" r="2.1" fill="#000"/>
<circle cx="485.43" cy="638.93" r="2.1" fill="#000"/>
<circle cx="482.97" cy="639.91" r="2.1" fill="#000"/>
<path d="M490.2 658.2 V650.69 H495.8 V658.2" fill="none" stroke="#ff0d0d" stroke-width="1.3"/>
<line x1="493" y1="649.75" x2="493" y2="651.63" stroke="#ff0d0d" stroke-width="1.1"/>
<line x1="490.8" y1="649.75" x2="495.2" y2="649.75" stroke="#ff0d0d" stroke-width="1.1"/>
<line x1="490.8" y1="651.63" x2="495.2" y2="651.63" stroke="#ff0d0d" stroke-width="1.1"/>
<rect x="489.84" y="647.77" width="3.86" height="3.86" fill="#ff0d0d"/>
<rect x="491.07" y="649.41" width="3.86" height="3.86" fill="#ff0d0d"/>
<rect x="492.3" y="648.57" width="3.86" height="3.86" fill="#ff0d0d"/>
<rect x="489.84" y="648.94" width="3.86" height="3.86" fill="#ff0d0d"/>
<path d="M499 658.2 V631.91 H504.6 V658.2" fill="none" stroke="#878796" stroke-width="1.3"/>
<line x1="501.8" y1="630.41" x2="501.8" y2="633.41" stroke="#878796" stroke-width="1.1"/>
<line x1="499.6" y1="630.41" x2="504" y2="630.41" stroke="#878796" stroke-width="1.1"/>
<line x1="499.6" y1="633.41" x2="504" y2="633.41" stroke="#878796" stroke-width="1.1"/>
<polygon points="500.57,627.92 502.98,632.26 498.15,632.26" fill="#878796"/>
<polygon points="501.8,630.54 504.22,634.89 499.38,634.89" fill="#878796"/>
<polygon points="503.03,629.19 505.45,633.54 500.62,633.54" fill="#878796"/>
<polygon points="500.57,629.79 502.98,634.14 498.15,634.14" fill="#878796"/>
<path d="M507.8 658.2 V640.36 H513.4 V658.2" fill="none" stroke="#f5a3a7" stroke-width="1.3"/>
<line x1="510.6" y1="638.11" x2="510.6" y2="642.61" stroke="#f5a3a7" stroke-width="1.1"/>
<line x1="508.4" y1="638.11" x2="512.8" y2="638.11" stroke="#f5a3a7" stroke-width="1.1"/>
<line x1="508.4" y1="642.61" x2="512.8" y2="642.61" stroke="#f5a3a7" stroke-width="1.1"/>
<polygon points="509.37,640.41 511.78,636.06 506.95,636.06" fill="#f5a3a7"/>
<polygon points="510.6,644.35 513.01,640 508.18,640" fill="#f5a3a7"/>
<polygon points="511.83,642.32 514.25,637.98 509.42,637.98" fill="#f5a3a7"/>
<polygon points="509.37,643.22 511.78,638.88 506.95,638.88" fill="#f5a3a7"/>
<path d="M516.6 658.2 V622.52 H522.2 V658.2" fill="none" stroke="#5e5214" stroke-width="1.3"/>
<line x1="519.4" y1="618.76" x2="519.4" y2="626.27" stroke="#5e5214" stroke-width="1.1"/>
<line x1="517.2" y1="618.76" x2="521.6" y2="618.76" stroke="#5e5214" stroke-width="1.1"/>
<line x1="517.2" y1="626.27" x2="521.6" y2="626.27" stroke="#5e5214" stroke-width="1.1"/>
<polygon points="518.17,615.95 520.79,618.57 518.17,621.2 515.54,618.57" fill="#5e5214"/>
<polygon points="519.4,622.52 522.02,625.15 519.4,627.77 516.77,625.15" fill="#5e5214"/>
<polygon points="520.63,619.14 523.26,621.77 520.63,624.39 518.01,621.77" fill="#5e5214"/>
<polygon points="518.17,620.64 520.79,623.27 518.17,625.89 515.54,623.27" fill="#5e5214"/>
<path d="M525.4 658.2 V639.42 H531 V658.2" fill="none" stroke="#7e1123" stroke-width="1.3"/>
<line x1="528.2" y1="637.17" x2="528.2" y2="641.67" stroke="#7e1123" stroke-width="1.1"/>
<line x1="526" y1="637.17" x2="530.4" y2="637.17" stroke="#7e1123" stroke-width="1.1"/>
<line x1="526" y1="641.67" x2="530.4" y2="641.67" stroke="#7e1123" stroke-width="1.1"/>
<polygon points="529.24,637.05 528.1,639.02 525.83,639.02 524.7,637.05 525.83,635.09 528.1,635.09" fill="#7e1123"/>
<polygon points="530.47,641 529.33,642.96 527.07,642.96 525.93,641 527.07,639.03 529.33,639.03" fill="#7e1123"/>
<polygon points="531.7,638.97 530.57,640.93 528.3,640.93 527.16,638.97 528.3,637.01 530.57,637.01" fill="#7e1123"/>
<polygon points="529.24,639.87 528.1,641.83 525.83,641.83 524.7,639.87 525.83,637.91 528.1,637.91" fill="#7e1123"/>
<line x1="506.2" y1="658.2" x2="506.2" y2="661.7" stroke="#000" stroke-width="1.2"/>
<text x="509.4" y="668.6" text-anchor="end" transform="rotate(-45 509.4 668.6)">p-AMPK</text>
<path d="M539.5 658.2 V639.42 H545.1 V658.2" fill="none" stroke="#000" stroke-width="1.3"/>
<line x1="542.3" y1="638.48" x2="542.3" y2="640.36" stroke="#000" stroke-width="1.1"/>
<line x1="540.1" y1="638.48" x2="544.5" y2="638.48" stroke="#000" stroke-width="1.1"/>
<line x1="540.1" y1="640.36" x2="544.5" y2="640.36" stroke="#000" stroke-width="1.1"/>
<circle cx="541.07" cy="638.43" r="2.1" fill="#000"/>
<circle cx="542.3" cy="640.08" r="2.1" fill="#000"/>
<circle cx="543.53" cy="639.23" r="2.1" fill="#000"/>
<circle cx="541.07" cy="639.61" r="2.1" fill="#000"/>
<path d="M548.3 658.2 V651.63 H553.9 V658.2" fill="none" stroke="#ff0d0d" stroke-width="1.3"/>
<line x1="551.1" y1="649.75" x2="551.1" y2="653.51" stroke="#ff0d0d" stroke-width="1.1"/>
<line x1="548.9" y1="649.75" x2="553.3" y2="649.75" stroke="#ff0d0d" stroke-width="1.1"/>
<line x1="548.9" y1="653.51" x2="553.3" y2="653.51" stroke="#ff0d0d" stroke-width="1.1"/>
<rect x="547.94" y="647.72" width="3.86" height="3.86" fill="#ff0d0d"/>
<rect x="549.17" y="651.01" width="3.86" height="3.86" fill="#ff0d0d"/>
<rect x="550.4" y="649.32" width="3.86" height="3.86" fill="#ff0d0d"/>
<rect x="547.94" y="650.07" width="3.86" height="3.86" fill="#ff0d0d"/>
<path d="M557.1 658.2 V623.46 H562.7 V658.2" fill="none" stroke="#878796" stroke-width="1.3"/>
<line x1="559.9" y1="619.7" x2="559.9" y2="627.21" stroke="#878796" stroke-width="1.1"/>
<line x1="557.7" y1="619.7" x2="562.1" y2="619.7" stroke="#878796" stroke-width="1.1"/>
<line x1="557.7" y1="627.21" x2="562.1" y2="627.21" stroke="#878796" stroke-width="1.1"/>
<polygon points="558.67,617.1 561.08,621.45 556.25,621.45" fill="#878796"/>
<polygon points="559.9,623.67 562.31,628.02 557.49,628.02" fill="#878796"/>
<polygon points="561.13,620.29 563.55,624.64 558.72,624.64" fill="#878796"/>
<polygon points="558.67,621.79 561.08,626.14 556.25,626.14" fill="#878796"/>
<path d="M565.9 658.2 V640.36 H571.5 V658.2" fill="none" stroke="#f5a3a7" stroke-width="1.3"/>
<line x1="568.7" y1="638.86" x2="568.7" y2="641.86" stroke="#f5a3a7" stroke-width="1.1"/>
<line x1="566.5" y1="638.86" x2="570.9" y2="638.86" stroke="#f5a3a7" stroke-width="1.1"/>
<line x1="566.5" y1="641.86" x2="570.9" y2="641.86" stroke="#f5a3a7" stroke-width="1.1"/>
<polygon points="567.47,641.2 569.88,636.85 565.05,636.85" fill="#f5a3a7"/>
<polygon points="568.7,643.83 571.11,639.48 566.28,639.48" fill="#f5a3a7"/>
<polygon points="569.93,642.47 572.35,638.13 567.52,638.13" fill="#f5a3a7"/>
<polygon points="567.47,643.07 569.88,638.73 565.05,638.73" fill="#f5a3a7"/>
<path d="M574.7 658.2 V620.64 H580.3 V658.2" fill="none" stroke="#5e5214" stroke-width="1.3"/>
<line x1="577.5" y1="615.95" x2="577.5" y2="625.34" stroke="#5e5214" stroke-width="1.1"/>
<line x1="575.3" y1="615.95" x2="579.7" y2="615.95" stroke="#5e5214" stroke-width="1.1"/>
<line x1="575.3" y1="625.34" x2="579.7" y2="625.34" stroke="#5e5214" stroke-width="1.1"/>
<polygon points="576.27,613.09 578.89,615.71 576.27,618.34 573.64,615.71" fill="#5e5214"/>
<polygon points="577.5,621.3 580.12,623.93 577.5,626.55 574.88,623.93" fill="#5e5214"/>
<polygon points="578.73,617.08 581.36,619.7 578.73,622.33 576.11,619.7" fill="#5e5214"/>
<polygon points="576.27,618.95 578.89,621.58 576.27,624.2 573.64,621.58" fill="#5e5214"/>
<path d="M583.5 658.2 V632.85 H589.1 V658.2" fill="none" stroke="#7e1123" stroke-width="1.3"/>
<line x1="586.3" y1="627.21" x2="586.3" y2="638.48" stroke="#7e1123" stroke-width="1.1"/>
<line x1="584.1" y1="627.21" x2="588.5" y2="627.21" stroke="#7e1123" stroke-width="1.1"/>
<line x1="584.1" y1="638.48" x2="588.5" y2="638.48" stroke="#7e1123" stroke-width="1.1"/>
<polygon points="587.34,626.93 586.2,628.9 583.93,628.9 582.8,626.93 583.93,624.97 586.2,624.97" fill="#7e1123"/>
<polygon points="588.57,636.79 587.43,638.75 585.17,638.75 584.03,636.79 585.17,634.83 587.43,634.83" fill="#7e1123"/>
<polygon points="589.8,631.72 588.67,633.68 586.4,633.68 585.26,631.72 586.4,629.76 588.67,629.76" fill="#7e1123"/>
<polygon points="587.34,633.97 586.2,635.94 583.93,635.94 582.8,633.97 583.93,632.01 586.2,632.01" fill="#7e1123"/>
<line x1="564.3" y1="658.2" x2="564.3" y2="661.7" stroke="#000" stroke-width="1.2"/>
<text x="567.5" y="668.6" text-anchor="end" transform="rotate(-45 567.5 668.6)">p-TSC2</text>
<path d="M597.6 658.2 V639.42 H603.2 V658.2" fill="none" stroke="#000" stroke-width="1.3"/>
<line x1="600.4" y1="638.29" x2="600.4" y2="640.55" stroke="#000" stroke-width="1.1"/>
<line x1="598.2" y1="638.29" x2="602.6" y2="638.29" stroke="#000" stroke-width="1.1"/>
<line x1="598.2" y1="640.55" x2="602.6" y2="640.55" stroke="#000" stroke-width="1.1"/>
<circle cx="599.17" cy="638.24" r="2.1" fill="#000"/>
<circle cx="600.4" cy="640.21" r="2.1" fill="#000"/>
<circle cx="601.63" cy="639.19" r="2.1" fill="#000"/>
<circle cx="599.17" cy="639.65" r="2.1" fill="#000"/>
<path d="M606.4 658.2 V625.34 H612 V658.2" fill="none" stroke="#ff0d0d" stroke-width="1.3"/>
<line x1="609.2" y1="618.76" x2="609.2" y2="631.91" stroke="#ff0d0d" stroke-width="1.1"/>
<line x1="607" y1="618.76" x2="611.4" y2="618.76" stroke="#ff0d0d" stroke-width="1.1"/>
<line x1="607" y1="631.91" x2="611.4" y2="631.91" stroke="#ff0d0d" stroke-width="1.1"/>
<rect x="606.04" y="616.5" width="3.86" height="3.86" fill="#ff0d0d"/>
<rect x="607.27" y="628" width="3.86" height="3.86" fill="#ff0d0d"/>
<rect x="608.5" y="622.09" width="3.86" height="3.86" fill="#ff0d0d"/>
<rect x="606.04" y="624.72" width="3.86" height="3.86" fill="#ff0d0d"/>
<path d="M615.2 658.2 V650.69 H620.8 V658.2" fill="none" stroke="#878796" stroke-width="1.3"/>
<line x1="618" y1="649.75" x2="618" y2="651.63" stroke="#878796" stroke-width="1.1"/>
<line x1="615.8" y1="649.75" x2="620.2" y2="649.75" stroke="#878796" stroke-width="1.1"/>
<line x1="615.8" y1="651.63" x2="620.2" y2="651.63" stroke="#878796" stroke-width="1.1"/>
<polygon points="616.77,647.29 619.18,651.63 614.35,651.63" fill="#878796"/>
<polygon points="618,648.93 620.41,653.28 615.59,653.28" fill="#878796"/>
<polygon points="619.23,648.09 621.65,652.43 616.82,652.43" fill="#878796"/>
<polygon points="616.77,648.46 619.18,652.81 614.35,652.81" fill="#878796"/>
<path d="M624 658.2 V643.18 H629.6 V658.2" fill="none" stroke="#f5a3a7" stroke-width="1.3"/>
<line x1="626.8" y1="636.6" x2="626.8" y2="649.75" stroke="#f5a3a7" stroke-width="1.1"/>
<line x1="624.6" y1="636.6" x2="629" y2="636.6" stroke="#f5a3a7" stroke-width="1.1"/>
<line x1="624.6" y1="649.75" x2="629" y2="649.75" stroke="#f5a3a7" stroke-width="1.1"/>
<polygon points="625.57,638.69 627.98,634.34 623.15,634.34" fill="#f5a3a7"/>
<polygon points="626.8,650.19 629.21,645.85 624.38,645.85" fill="#f5a3a7"/>
<polygon points="628.03,644.28 630.45,639.93 625.62,639.93" fill="#f5a3a7"/>
<polygon points="625.57,646.91 627.98,642.56 623.15,642.56" fill="#f5a3a7"/>
<path d="M632.8 658.2 V641.3 H638.4 V658.2" fill="none" stroke="#5e5214" stroke-width="1.3"/>
<line x1="635.6" y1="638.48" x2="635.6" y2="644.12" stroke="#5e5214" stroke-width="1.1"/>
<line x1="633.4" y1="638.48" x2="637.8" y2="638.48" stroke="#5e5214" stroke-width="1.1"/>
<line x1="633.4" y1="644.12" x2="637.8" y2="644.12" stroke="#5e5214" stroke-width="1.1"/>
<polygon points="634.37,635.72 636.99,638.34 634.37,640.97 631.74,638.34" fill="#5e5214"/>
<polygon points="635.6,640.64 638.23,643.27 635.6,645.89 632.98,643.27" fill="#5e5214"/>
<polygon points="636.83,638.11 639.46,640.73 636.83,643.36 634.21,640.73" fill="#5e5214"/>
<polygon points="634.37,639.24 636.99,641.86 634.37,644.49 631.74,641.86" fill="#5e5214"/>
<path d="M641.6 658.2 V623.46 H647.2 V658.2" fill="none" stroke="#7e1123" stroke-width="1.3"/>
<line x1="644.4" y1="617.82" x2="644.4" y2="629.09" stroke="#7e1123" stroke-width="1.1"/>
<line x1="642.2" y1="617.82" x2="646.6" y2="617.82" stroke="#7e1123" stroke-width="1.1"/>
<line x1="642.2" y1="629.09" x2="646.6" y2="629.09" stroke="#7e1123" stroke-width="1.1"/>
<polygon points="645.44,617.54 644.3,619.51 642.03,619.51 640.9,617.54 642.03,615.58 644.3,615.58" fill="#7e1123"/>
<polygon points="646.67,627.4 645.53,629.36 643.27,629.36 642.13,627.4 643.27,625.44 645.53,625.44" fill="#7e1123"/>
<polygon points="647.9,622.33 646.77,624.29 644.5,624.29 643.36,622.33 644.5,620.37 646.77,620.37" fill="#7e1123"/>
<polygon points="645.44,624.58 644.3,626.55 642.03,626.55 640.9,624.58 642.03,622.62 644.3,622.62" fill="#7e1123"/>
<line x1="622.4" y1="658.2" x2="622.4" y2="661.7" stroke="#000" stroke-width="1.2"/>
<text x="625.6" y="668.6" text-anchor="end" transform="rotate(-45 625.6 668.6)">p-mTOR</text>
<path d="M655.7 658.2 V639.42 H661.3 V658.2" fill="none" stroke="#000" stroke-width="1.3"/>
<line x1="658.5" y1="637.92" x2="658.5" y2="640.92" stroke="#000" stroke-width="1.1"/>
<line x1="656.3" y1="637.92" x2="660.7" y2="637.92" stroke="#000" stroke-width="1.1"/>
<line x1="656.3" y1="640.92" x2="660.7" y2="640.92" stroke="#000" stroke-width="1.1"/>
<circle cx="657.27" cy="637.84" r="2.1" fill="#000"/>
<circle cx="658.5" cy="640.47" r="2.1" fill="#000"/>
<circle cx="659.73" cy="639.12" r="2.1" fill="#000"/>
<circle cx="657.27" cy="639.72" r="2.1" fill="#000"/>
<path d="M664.5 658.2 V627.21 H670.1 V658.2" fill="none" stroke="#ff0d0d" stroke-width="1.3"/>
<line x1="667.3" y1="622.52" x2="667.3" y2="631.91" stroke="#ff0d0d" stroke-width="1.1"/>
<line x1="665.1" y1="622.52" x2="669.5" y2="622.52" stroke="#ff0d0d" stroke-width="1.1"/>
<line x1="665.1" y1="631.91" x2="669.5" y2="631.91" stroke="#ff0d0d" stroke-width="1.1"/>
<rect x="664.14" y="620.35" width="3.86" height="3.86" fill="#ff0d0d"/>
<rect x="665.37" y="628.57" width="3.86" height="3.86" fill="#ff0d0d"/>
<rect x="666.6" y="624.34" width="3.86" height="3.86" fill="#ff0d0d"/>
<rect x="664.14" y="626.22" width="3.86" height="3.86" fill="#ff0d0d"/>
<path d="M673.3 658.2 V656.32 H678.9 V658.2" fill="none" stroke="#878796" stroke-width="1.3"/>
<line x1="676.1" y1="655.57" x2="676.1" y2="657.07" stroke="#878796" stroke-width="1.1"/>
<line x1="673.9" y1="655.57" x2="678.3" y2="655.57" stroke="#878796" stroke-width="1.1"/>
<line x1="673.9" y1="657.07" x2="678.3" y2="657.07" stroke="#878796" stroke-width="1.1"/>
<polygon points="674.87,653.12 677.28,657.47 672.45,657.47" fill="#878796"/>
<polygon points="676.1,654.43 678.51,658.78 673.69,658.78" fill="#878796"/>
<polygon points="677.33,653.76 679.75,658.1 674.92,658.1" fill="#878796"/>
<polygon points="674.87,654.06 677.28,658.4 672.45,658.4" fill="#878796"/>
<path d="M682.1 658.2 V655.38 H687.7 V658.2" fill="none" stroke="#f5a3a7" stroke-width="1.3"/>
<line x1="684.9" y1="654.63" x2="684.9" y2="656.13" stroke="#f5a3a7" stroke-width="1.1"/>
<line x1="682.7" y1="654.63" x2="687.1" y2="654.63" stroke="#f5a3a7" stroke-width="1.1"/>
<line x1="682.7" y1="656.13" x2="687.1" y2="656.13" stroke="#f5a3a7" stroke-width="1.1"/>
<polygon points="683.67,657.01 686.08,652.66 681.25,652.66" fill="#f5a3a7"/>
<polygon points="684.9,658.32 687.31,653.98 682.49,653.98" fill="#f5a3a7"/>
<polygon points="686.13,657.65 688.55,653.3 683.72,653.3" fill="#f5a3a7"/>
<polygon points="683.67,657.95 686.08,653.6 681.25,653.6" fill="#f5a3a7"/>
<path d="M690.9 658.2 V657.26 H696.5 V658.2" fill="none" stroke="#5e5214" stroke-width="1.3"/>
<line x1="693.7" y1="656.89" x2="693.7" y2="657.64" stroke="#5e5214" stroke-width="1.1"/>
<line x1="691.5" y1="656.89" x2="695.9" y2="656.89" stroke="#5e5214" stroke-width="1.1"/>
<line x1="691.5" y1="657.64" x2="695.9" y2="657.64" stroke="#5e5214" stroke-width="1.1"/>
<polygon points="692.47,654.24 695.09,656.87 692.47,659.49 689.84,656.87" fill="#5e5214"/>
<polygon points="693.7,654.9 696.33,657.52 693.7,660.15 691.08,657.52" fill="#5e5214"/>
<polygon points="694.93,654.56 697.56,657.19 694.93,659.81 692.31,657.19" fill="#5e5214"/>
<polygon points="692.47,654.71 695.09,657.34 692.47,659.96 689.84,657.34" fill="#5e5214"/>
<path d="M699.7 658.2 V656.32 H705.3 V658.2" fill="none" stroke="#7e1123" stroke-width="1.3"/>
<line x1="702.5" y1="655.76" x2="702.5" y2="656.89" stroke="#7e1123" stroke-width="1.1"/>
<line x1="700.3" y1="655.76" x2="704.7" y2="655.76" stroke="#7e1123" stroke-width="1.1"/>
<line x1="700.3" y1="656.89" x2="704.7" y2="656.89" stroke="#7e1123" stroke-width="1.1"/>
<polygon points="703.54,655.73 702.4,657.69 700.13,657.69 699,655.73 700.13,653.77 702.4,653.77" fill="#7e1123"/>
<polygon points="704.77,656.72 703.63,658.68 701.37,658.68 700.23,656.72 701.37,654.75 703.63,654.75" fill="#7e1123"/>
<polygon points="706,656.21 704.87,658.17 702.6,658.17 701.46,656.21 702.6,654.25 704.87,654.25" fill="#7e1123"/>
<polygon points="703.54,656.43 702.4,658.4 700.13,658.4 699,656.43 700.13,654.47 702.4,654.47" fill="#7e1123"/>
<line x1="680.5" y1="658.2" x2="680.5" y2="661.7" stroke="#000" stroke-width="1.2"/>
<text x="683.7" y="668.6" text-anchor="end" transform="rotate(-45 683.7 668.6)">p-ULK1</text>
<path d="M713.8 658.2 V641.3 H719.4 V658.2" fill="none" stroke="#000" stroke-width="1.3"/>
<line x1="716.6" y1="634.73" x2="716.6" y2="647.87" stroke="#000" stroke-width="1.1"/>
<line x1="714.4" y1="634.73" x2="718.8" y2="634.73" stroke="#000" stroke-width="1.1"/>
<line x1="714.4" y1="647.87" x2="718.8" y2="647.87" stroke="#000" stroke-width="1.1"/>
<circle cx="715.37" cy="634.4" r="2.1" fill="#000"/>
<circle cx="716.6" cy="645.9" r="2.1" fill="#000"/>
<circle cx="717.83" cy="639.98" r="2.1" fill="#000"/>
<circle cx="715.37" cy="642.61" r="2.1" fill="#000"/>
<path d="M722.6 658.2 V598.1 H728.2 V658.2" fill="none" stroke="#ff0d0d" stroke-width="1.3"/>
<line x1="725.4" y1="584.96" x2="725.4" y2="611.25" stroke="#ff0d0d" stroke-width="1.1"/>
<line x1="723.2" y1="584.96" x2="727.6" y2="584.96" stroke="#ff0d0d" stroke-width="1.1"/>
<line x1="723.2" y1="611.25" x2="727.6" y2="611.25" stroke="#ff0d0d" stroke-width="1.1"/>
<rect x="722.24" y="582.37" width="3.86" height="3.86" fill="#ff0d0d"/>
<rect x="723.47" y="605.37" width="3.86" height="3.86" fill="#ff0d0d"/>
<rect x="724.7" y="593.54" width="3.86" height="3.86" fill="#ff0d0d"/>
<rect x="722.24" y="598.8" width="3.86" height="3.86" fill="#ff0d0d"/>
<path d="M731.4 658.2 V623.46 H737 V658.2" fill="none" stroke="#878796" stroke-width="1.3"/>
<line x1="734.2" y1="617.82" x2="734.2" y2="629.09" stroke="#878796" stroke-width="1.1"/>
<line x1="732" y1="617.82" x2="736.4" y2="617.82" stroke="#878796" stroke-width="1.1"/>
<line x1="732" y1="629.09" x2="736.4" y2="629.09" stroke="#878796" stroke-width="1.1"/>
<polygon points="732.97,615.13 735.38,619.47 730.55,619.47" fill="#878796"/>
<polygon points="734.2,624.99 736.62,629.33 731.79,629.33" fill="#878796"/>
<polygon points="735.43,619.92 737.85,624.26 733.02,624.26" fill="#878796"/>
<polygon points="732.97,622.17 735.38,626.52 730.55,626.52" fill="#878796"/>
<path d="M740.2 658.2 V592.47 H745.8 V658.2" fill="none" stroke="#f5a3a7" stroke-width="1.3"/>
<line x1="743" y1="582.14" x2="743" y2="602.8" stroke="#f5a3a7" stroke-width="1.1"/>
<line x1="740.8" y1="582.14" x2="745.2" y2="582.14" stroke="#f5a3a7" stroke-width="1.1"/>
<line x1="740.8" y1="602.8" x2="745.2" y2="602.8" stroke="#f5a3a7" stroke-width="1.1"/>
<polygon points="741.77,584.04 744.18,579.69 739.35,579.69" fill="#f5a3a7"/>
<polygon points="743,602.12 745.41,597.77 740.59,597.77" fill="#f5a3a7"/>
<polygon points="744.23,592.82 746.65,588.47 741.82,588.47" fill="#f5a3a7"/>
<polygon points="741.77,596.95 744.18,592.6 739.35,592.6" fill="#f5a3a7"/>
<path d="M749 658.2 V657.64 H754.6 V658.2" fill="none" stroke="#5e5214" stroke-width="1.3"/>
<polygon points="751.8,655.01 754.43,657.64 751.8,660.26 749.18,657.64" fill="#5e5214"/>
<path d="M757.8 658.2 V642.24 H763.4 V658.2" fill="none" stroke="#7e1123" stroke-width="1.3"/>
<line x1="760.6" y1="630.97" x2="760.6" y2="653.51" stroke="#7e1123" stroke-width="1.1"/>
<line x1="758.4" y1="630.97" x2="762.8" y2="630.97" stroke="#7e1123" stroke-width="1.1"/>
<line x1="758.4" y1="653.51" x2="762.8" y2="653.51" stroke="#7e1123" stroke-width="1.1"/>
<polygon points="761.64,630.41 760.5,632.37 758.23,632.37 757.1,630.41 758.23,628.44 760.5,628.44" fill="#7e1123"/>
<polygon points="762.87,650.12 761.73,652.09 759.47,652.09 758.33,650.12 759.47,648.16 761.73,648.16" fill="#7e1123"/>
<polygon points="764.1,639.98 762.97,641.95 760.7,641.95 759.56,639.98 760.7,638.02 762.97,638.02" fill="#7e1123"/>
<polygon points="761.64,644.49 760.5,646.45 758.23,646.45 757.1,644.49 758.23,642.53 760.5,642.53" fill="#7e1123"/>
<line x1="738.6" y1="658.2" x2="738.6" y2="661.7" stroke="#000" stroke-width="1.2"/>
<text x="741.8" y="668.6" text-anchor="end" transform="rotate(-45 741.8 668.6)">p-p70S6K</text>
<line x1="363" y1="545" x2="363" y2="658.8" stroke="#000" stroke-width="1.3"/>
<line x1="362.4" y1="658.2" x2="768" y2="658.2" stroke="#000" stroke-width="1.4"/>
<path d="M366.5 628.24 V623.64 H378.3 V628.24" fill="none" stroke="#000" stroke-width="1.1"/>
<text x="372.4" y="625.04" text-anchor="middle" style="font-size:9.3px">***</text>
<path d="M384.1 627.12 V622.52 H395.9 V627.12" fill="none" stroke="#000" stroke-width="1.1"/>
<text x="390" y="623.92" text-anchor="middle" style="font-size:9.3px">*</text>
<path d="M401.7 619.61 V615.01 H413.5 V619.61" fill="none" stroke="#000" stroke-width="1.1"/>
<text x="407.6" y="616.41" text-anchor="middle" style="font-size:9.3px">***</text>
<path d="M424.6 630.5 V625.9 H436.4 V630.5" fill="none" stroke="#000" stroke-width="1.1"/>
<text x="430.5" y="627.3" text-anchor="middle" style="font-size:9.3px">**</text>
<path d="M442.2 629 V624.4 H454 V629" fill="none" stroke="#000" stroke-width="1.1"/>
<text x="448.1" y="625.8" text-anchor="middle" style="font-size:9.3px">**</text>
<path d="M482.7 629.94 V625.34 H494.5 V629.94" fill="none" stroke="#000" stroke-width="1.1"/>
<text x="488.6" y="626.74" text-anchor="middle" style="font-size:9.3px">***</text>
<path d="M500.3 623.74 V619.14 H512.1 V623.74" fill="none" stroke="#000" stroke-width="1.1"/>
<text x="506.2" y="620.54" text-anchor="middle" style="font-size:9.3px">***</text>
<path d="M517.9 611.72 V607.12 H529.7 V611.72" fill="none" stroke="#000" stroke-width="1.1"/>
<text x="523.8" y="608.52" text-anchor="middle" style="font-size:9.3px">***</text>
<path d="M540.8 633.69 V629.09 H552.6 V633.69" fill="none" stroke="#000" stroke-width="1.1"/>
<text x="546.7" y="630.49" text-anchor="middle" style="font-size:9.3px">***</text>
<path d="M558.4 611.72 V607.12 H570.2 V611.72" fill="none" stroke="#000" stroke-width="1.1"/>
<text x="564.3" y="608.52" text-anchor="middle" style="font-size:9.3px">***</text>
<path d="M576 608.34 V603.74 H587.8 V608.34" fill="none" stroke="#000" stroke-width="1.1"/>
<text x="581.9" y="605.14" text-anchor="middle" style="font-size:9.3px">*</text>
<path d="M598.9 613.6 V609 H610.7 V613.6" fill="none" stroke="#000" stroke-width="1.1"/>
<text x="604.8" y="610.4" text-anchor="middle" style="font-size:9.3px">**</text>
<path d="M634.1 612.85 V608.25 H645.9 V612.85" fill="none" stroke="#000" stroke-width="1.1"/>
<text x="640" y="609.65" text-anchor="middle" style="font-size:9.3px">**</text>
<path d="M657 618.67 V614.07 H668.8 V618.67" fill="none" stroke="#000" stroke-width="1.1"/>
<text x="662.9" y="615.47" text-anchor="middle" style="font-size:9.3px">**</text>
<path d="M674.6 648.72 V644.12 H686.4 V648.72" fill="none" stroke="#000" stroke-width="1.1"/>
<text x="680.5" y="645.51" text-anchor="middle" style="font-size:9.3px">*</text>
<path d="M692.2 651.53 V646.93 H704 V651.53" fill="none" stroke="#000" stroke-width="1.1"/>
<text x="698.1" y="648.33" text-anchor="middle" style="font-size:9.3px">***</text>
<path d="M715.1 576.41 V571.81 H726.9 V576.41" fill="none" stroke="#000" stroke-width="1.1"/>
<text x="721" y="573.21" text-anchor="middle" style="font-size:9.3px">**</text>
<path d="M732.7 574.91 V570.31 H744.5 V574.91" fill="none" stroke="#000" stroke-width="1.1"/>
<text x="738.6" y="571.71" text-anchor="middle" style="font-size:9.3px">**</text>
<path d="M750.3 624.3 V619.7 H762.1 V624.3" fill="none" stroke="#000" stroke-width="1.1"/>
<text x="756.2" y="621.1" text-anchor="middle" style="font-size:9.3px">*</text>
<text x="296" y="778.5" font-weight="bold" style="font-size:18.5px;fill:#000">i</text>
<text x="332.2" y="892" text-anchor="middle" transform="rotate(-90 332.2 892)">Relative protein levels (Fold changes)</text>
<circle cx="392" cy="783" r="4.2" fill="#000"/>
<text x="400.7" y="787.4" style="font-size:12.35px">WT CT</text>
<rect x="388.34" y="800.84" width="7.73" height="7.73" fill="#ff0d0d"/>
<text x="400.7" y="807.3" style="font-size:12.35px">KO CT</text>
<polygon points="473,779.04 477.25,786.7 468.75,786.7" fill="#878796"/>
<text x="482.5" y="787.7" style="font-size:12.35px">WT Starvation 1h</text>
<polygon points="473,808.96 477.25,801.3 468.75,801.3" fill="#f5a3a7"/>
<text x="482.5" y="807.3" style="font-size:12.35px">KO Starvation 1h</text>
<polygon points="597.5,779.33 601.38,783.2 597.5,787.08 593.62,783.2" fill="#5e5214"/>
<text x="605.6" y="787.6" style="font-size:12.35px">WT Starvation 3h</text>
<polygon points="601.93,803.8 599.71,807.63 595.29,807.63 593.07,803.8 595.29,799.97 599.71,799.97" fill="#7e1123"/>
<text x="605.6" y="807.3" style="font-size:12.35px">KO Starvation 3h</text>
<line x1="349.7" y1="973.2" x2="354.2" y2="973.2" stroke="#000" stroke-width="1.2"/>
<text x="347.7" y="977" text-anchor="end">0</text>
<line x1="349.7" y1="933" x2="354.2" y2="933" stroke="#000" stroke-width="1.2"/>
<text x="347.7" y="936.8" text-anchor="end">1</text>
<line x1="349.7" y1="892.8" x2="354.2" y2="892.8" stroke="#000" stroke-width="1.2"/>
<text x="347.7" y="896.6" text-anchor="end">2</text>
<line x1="349.7" y1="852.6" x2="354.2" y2="852.6" stroke="#000" stroke-width="1.2"/>
<text x="347.7" y="856.4" text-anchor="end">3</text>
<line x1="349.7" y1="812.4" x2="354.2" y2="812.4" stroke="#000" stroke-width="1.2"/>
<text x="347.7" y="816.2" text-anchor="end">4</text>
<path d="M358.9 973.2 V933 H367.7 V973.2" fill="none" stroke="#000" stroke-width="1.3"/>
<line x1="363.3" y1="928.98" x2="363.3" y2="937.02" stroke="#000" stroke-width="1.1"/>
<line x1="360" y1="928.98" x2="366.6" y2="928.98" stroke="#000" stroke-width="1.1"/>
<line x1="360" y1="937.02" x2="366.6" y2="937.02" stroke="#000" stroke-width="1.1"/>
<circle cx="361.36" cy="928.58" r="1.9" fill="#000"/>
<circle cx="363.3" cy="936.62" r="1.9" fill="#000"/>
<circle cx="365.24" cy="931.79" r="1.9" fill="#000"/>
<circle cx="361.36" cy="934.61" r="1.9" fill="#000"/>
<path d="M373 973.2 V957.12 H381.8 V973.2" fill="none" stroke="#ff0d0d" stroke-width="1.3"/>
<line x1="377.4" y1="949.08" x2="377.4" y2="965.16" stroke="#ff0d0d" stroke-width="1.1"/>
<line x1="374.1" y1="949.08" x2="380.7" y2="949.08" stroke="#ff0d0d" stroke-width="1.1"/>
<line x1="374.1" y1="965.16" x2="380.7" y2="965.16" stroke="#ff0d0d" stroke-width="1.1"/>
<rect x="373.72" y="946.53" width="3.5" height="3.5" fill="#ff0d0d"/>
<rect x="375.65" y="962.61" width="3.5" height="3.5" fill="#ff0d0d"/>
<rect x="377.59" y="952.96" width="3.5" height="3.5" fill="#ff0d0d"/>
<rect x="373.72" y="958.59" width="3.5" height="3.5" fill="#ff0d0d"/>
<path d="M387.1 973.2 V890.79 H395.9 V973.2" fill="none" stroke="#878796" stroke-width="1.3"/>
<line x1="391.5" y1="885.56" x2="391.5" y2="896.02" stroke="#878796" stroke-width="1.1"/>
<line x1="388.2" y1="885.56" x2="394.8" y2="885.56" stroke="#878796" stroke-width="1.1"/>
<line x1="388.2" y1="896.02" x2="394.8" y2="896.02" stroke="#878796" stroke-width="1.1"/>
<polygon points="389.56,882.86 391.75,886.79 387.38,886.79" fill="#878796"/>
<polygon points="391.5,893.31 393.69,897.24 389.31,897.24" fill="#878796"/>
<polygon points="393.44,887.04 395.62,890.97 391.25,890.97" fill="#878796"/>
<polygon points="389.56,890.7 391.75,894.63 387.38,894.63" fill="#878796"/>
<path d="M401.2 973.2 V949.88 H410 V973.2" fill="none" stroke="#f5a3a7" stroke-width="1.3"/>
<line x1="405.6" y1="947.87" x2="405.6" y2="951.89" stroke="#f5a3a7" stroke-width="1.1"/>
<line x1="402.3" y1="947.87" x2="408.9" y2="947.87" stroke="#f5a3a7" stroke-width="1.1"/>
<line x1="402.3" y1="951.89" x2="408.9" y2="951.89" stroke="#f5a3a7" stroke-width="1.1"/>
<polygon points="403.66,949.86 405.85,945.92 401.48,945.92" fill="#f5a3a7"/>
<polygon points="405.6,953.88 407.79,949.95 403.42,949.95" fill="#f5a3a7"/>
<polygon points="407.54,951.47 409.72,947.53 405.35,947.53" fill="#f5a3a7"/>
<polygon points="403.66,952.87 405.85,948.94 401.48,948.94" fill="#f5a3a7"/>
<path d="M415.3 973.2 V868.68 H424.1 V973.2" fill="none" stroke="#5e5214" stroke-width="1.3"/>
<line x1="419.7" y1="855.41" x2="419.7" y2="881.95" stroke="#5e5214" stroke-width="1.1"/>
<line x1="416.4" y1="855.41" x2="423" y2="855.41" stroke="#5e5214" stroke-width="1.1"/>
<line x1="416.4" y1="881.95" x2="423" y2="881.95" stroke="#5e5214" stroke-width="1.1"/>
<polygon points="417.76,851.71 420.14,854.09 417.76,856.46 415.39,854.09" fill="#5e5214"/>
<polygon points="419.7,878.24 422.07,880.62 419.7,882.99 417.32,880.62" fill="#5e5214"/>
<polygon points="421.64,862.33 424.01,864.7 421.64,867.08 419.26,864.7" fill="#5e5214"/>
<polygon points="417.76,871.61 420.14,873.99 417.76,876.36 415.39,873.99" fill="#5e5214"/>
<path d="M429.4 973.2 V900.84 H438.2 V973.2" fill="none" stroke="#7e1123" stroke-width="1.3"/>
<line x1="433.8" y1="898.43" x2="433.8" y2="903.25" stroke="#7e1123" stroke-width="1.1"/>
<line x1="430.5" y1="898.43" x2="437.1" y2="898.43" stroke="#7e1123" stroke-width="1.1"/>
<line x1="430.5" y1="903.25" x2="437.1" y2="903.25" stroke="#7e1123" stroke-width="1.1"/>
<polygon points="433.92,898.19 432.89,899.96 430.84,899.96 429.81,898.19 430.84,896.41 432.89,896.41" fill="#7e1123"/>
<polygon points="435.85,903.01 434.83,904.79 432.77,904.79 431.75,903.01 432.77,901.23 434.83,901.23" fill="#7e1123"/>
<polygon points="437.79,900.12 436.76,901.89 434.71,901.89 433.68,900.12 434.71,898.34 436.76,898.34" fill="#7e1123"/>
<polygon points="433.92,901.8 432.89,903.58 430.84,903.58 429.81,901.8 430.84,900.03 432.89,900.03" fill="#7e1123"/>
<line x1="397.5" y1="973.2" x2="397.5" y2="976.7" stroke="#000" stroke-width="1.2"/>
<text x="397.5" y="988.7" text-anchor="middle">p-CHK1</text>
<path d="M453.1 973.2 V933 H461.9 V973.2" fill="none" stroke="#000" stroke-width="1.3"/>
<line x1="457.5" y1="931.79" x2="457.5" y2="934.21" stroke="#000" stroke-width="1.1"/>
<line x1="454.2" y1="931.79" x2="460.8" y2="931.79" stroke="#000" stroke-width="1.1"/>
<line x1="454.2" y1="934.21" x2="460.8" y2="934.21" stroke="#000" stroke-width="1.1"/>
<circle cx="455.56" cy="931.67" r="1.9" fill="#000"/>
<circle cx="457.5" cy="934.09" r="1.9" fill="#000"/>
<circle cx="459.44" cy="932.64" r="1.9" fill="#000"/>
<circle cx="455.56" cy="933.48" r="1.9" fill="#000"/>
<path d="M467.2 973.2 V955.11 H476 V973.2" fill="none" stroke="#ff0d0d" stroke-width="1.3"/>
<line x1="471.6" y1="953.5" x2="471.6" y2="956.72" stroke="#ff0d0d" stroke-width="1.1"/>
<line x1="468.3" y1="953.5" x2="474.9" y2="953.5" stroke="#ff0d0d" stroke-width="1.1"/>
<line x1="468.3" y1="956.72" x2="474.9" y2="956.72" stroke="#ff0d0d" stroke-width="1.1"/>
<rect x="467.92" y="951.59" width="3.5" height="3.5" fill="#ff0d0d"/>
<rect x="469.85" y="954.81" width="3.5" height="3.5" fill="#ff0d0d"/>
<rect x="471.79" y="952.88" width="3.5" height="3.5" fill="#ff0d0d"/>
<rect x="467.92" y="954.01" width="3.5" height="3.5" fill="#ff0d0d"/>
<path d="M481.3 973.2 V892 H490.1 V973.2" fill="none" stroke="#878796" stroke-width="1.3"/>
<line x1="485.7" y1="877.93" x2="485.7" y2="906.07" stroke="#878796" stroke-width="1.1"/>
<line x1="482.4" y1="877.93" x2="489" y2="877.93" stroke="#878796" stroke-width="1.1"/>
<line x1="482.4" y1="906.07" x2="489" y2="906.07" stroke="#878796" stroke-width="1.1"/>
<polygon points="483.76,874.33 485.95,878.27 481.58,878.27" fill="#878796"/>
<polygon points="485.7,902.47 487.88,906.41 483.51,906.41" fill="#878796"/>
<polygon points="487.64,885.59 489.82,889.52 485.45,889.52" fill="#878796"/>
<polygon points="483.76,895.44 485.95,899.37 481.58,899.37" fill="#878796"/>
<path d="M495.4 973.2 V924.96 H504.2 V973.2" fill="none" stroke="#f5a3a7" stroke-width="1.3"/>
<line x1="499.8" y1="916.92" x2="499.8" y2="933" stroke="#f5a3a7" stroke-width="1.1"/>
<line x1="496.5" y1="916.92" x2="503.1" y2="916.92" stroke="#f5a3a7" stroke-width="1.1"/>
<line x1="496.5" y1="933" x2="503.1" y2="933" stroke="#f5a3a7" stroke-width="1.1"/>
<polygon points="497.86,918.3 500.05,914.37 495.68,914.37" fill="#f5a3a7"/>
<polygon points="499.8,934.38 501.99,930.45 497.62,930.45" fill="#f5a3a7"/>
<polygon points="501.74,924.73 503.92,920.8 499.55,920.8" fill="#f5a3a7"/>
<polygon points="497.86,930.36 500.05,926.43 495.68,926.43" fill="#f5a3a7"/>
<path d="M509.5 973.2 V918.93 H518.3 V973.2" fill="none" stroke="#5e5214" stroke-width="1.3"/>
<line x1="513.9" y1="905.66" x2="513.9" y2="932.2" stroke="#5e5214" stroke-width="1.1"/>
<line x1="510.6" y1="905.66" x2="517.2" y2="905.66" stroke="#5e5214" stroke-width="1.1"/>
<line x1="510.6" y1="932.2" x2="517.2" y2="932.2" stroke="#5e5214" stroke-width="1.1"/>
<polygon points="511.96,901.96 514.34,904.34 511.96,906.71 509.59,904.34" fill="#5e5214"/>
<polygon points="513.9,928.49 516.27,930.87 513.9,933.24 511.52,930.87" fill="#5e5214"/>
<polygon points="515.84,912.58 518.21,914.95 515.84,917.33 513.46,914.95" fill="#5e5214"/>
<polygon points="511.96,921.86 514.34,924.24 511.96,926.61 509.59,924.24" fill="#5e5214"/>
<path d="M523.6 973.2 V935.81 H532.4 V973.2" fill="none" stroke="#7e1123" stroke-width="1.3"/>
<line x1="528" y1="927.77" x2="528" y2="943.85" stroke="#7e1123" stroke-width="1.1"/>
<line x1="524.7" y1="927.77" x2="531.3" y2="927.77" stroke="#7e1123" stroke-width="1.1"/>
<line x1="524.7" y1="943.85" x2="531.3" y2="943.85" stroke="#7e1123" stroke-width="1.1"/>
<polygon points="528.12,926.97 527.09,928.75 525.04,928.75 524.01,926.97 525.04,925.19 527.09,925.19" fill="#7e1123"/>
<polygon points="530.05,943.05 529.03,944.83 526.97,944.83 525.95,943.05 526.97,941.27 529.03,941.27" fill="#7e1123"/>
<polygon points="531.99,933.4 530.96,935.18 528.91,935.18 527.88,933.4 528.91,931.62 530.96,931.62" fill="#7e1123"/>
<polygon points="528.12,939.03 527.09,940.81 525.04,940.81 524.01,939.03 525.04,937.25 527.09,937.25" fill="#7e1123"/>
<line x1="491.7" y1="973.2" x2="491.7" y2="976.7" stroke="#000" stroke-width="1.2"/>
<text x="491.7" y="988.7" text-anchor="middle">LC3B-II</text>
<circle cx="551.3" cy="928.58" r="1.9" fill="#000"/>
<circle cx="551.3" cy="936.62" r="1.9" fill="#000"/>
<circle cx="551.3" cy="931.79" r="1.9" fill="#000"/>
<circle cx="551.3" cy="934.61" r="1.9" fill="#000"/>
<path d="M561 973.2 V882.75 H569.8 V973.2" fill="none" stroke="#ff0d0d" stroke-width="1.3"/>
<line x1="565.4" y1="864.66" x2="565.4" y2="900.84" stroke="#ff0d0d" stroke-width="1.1"/>
<line x1="562.1" y1="864.66" x2="568.7" y2="864.66" stroke="#ff0d0d" stroke-width="1.1"/>
<line x1="562.1" y1="900.84" x2="568.7" y2="900.84" stroke="#ff0d0d" stroke-width="1.1"/>
<rect x="561.72" y="861.1" width="3.5" height="3.5" fill="#ff0d0d"/>
<rect x="563.65" y="897.28" width="3.5" height="3.5" fill="#ff0d0d"/>
<rect x="565.59" y="875.58" width="3.5" height="3.5" fill="#ff0d0d"/>
<rect x="561.72" y="888.24" width="3.5" height="3.5" fill="#ff0d0d"/>
<path d="M575.1 973.2 V944.26 H583.9 V973.2" fill="none" stroke="#878796" stroke-width="1.3"/>
<line x1="579.5" y1="943.45" x2="579.5" y2="945.06" stroke="#878796" stroke-width="1.1"/>
<line x1="576.2" y1="943.45" x2="582.8" y2="943.45" stroke="#878796" stroke-width="1.1"/>
<line x1="576.2" y1="945.06" x2="582.8" y2="945.06" stroke="#878796" stroke-width="1.1"/>
<polygon points="577.56,941.19 579.75,945.12 575.38,945.12" fill="#878796"/>
<polygon points="579.5,942.79 581.68,946.73 577.32,946.73" fill="#878796"/>
<polygon points="581.44,941.83 583.62,945.76 579.25,945.76" fill="#878796"/>
<polygon points="577.56,942.39 579.75,946.33 575.38,946.33" fill="#878796"/>
<path d="M589.2 973.2 V897.62 H598 V973.2" fill="none" stroke="#f5a3a7" stroke-width="1.3"/>
<line x1="593.6" y1="895.61" x2="593.6" y2="899.63" stroke="#f5a3a7" stroke-width="1.1"/>
<line x1="590.3" y1="895.61" x2="596.9" y2="895.61" stroke="#f5a3a7" stroke-width="1.1"/>
<line x1="590.3" y1="899.63" x2="596.9" y2="899.63" stroke="#f5a3a7" stroke-width="1.1"/>
<polygon points="591.66,897.6 593.85,893.66 589.48,893.66" fill="#f5a3a7"/>
<polygon points="593.6,901.62 595.78,897.68 591.42,897.68" fill="#f5a3a7"/>
<polygon points="595.54,899.21 597.72,895.27 593.35,895.27" fill="#f5a3a7"/>
<polygon points="591.66,900.61 593.85,896.68 589.48,896.68" fill="#f5a3a7"/>
<path d="M603.3 973.2 V939.03 H612.1 V973.2" fill="none" stroke="#5e5214" stroke-width="1.3"/>
<line x1="607.7" y1="928.98" x2="607.7" y2="949.08" stroke="#5e5214" stroke-width="1.1"/>
<line x1="604.4" y1="928.98" x2="611" y2="928.98" stroke="#5e5214" stroke-width="1.1"/>
<line x1="604.4" y1="949.08" x2="611" y2="949.08" stroke="#5e5214" stroke-width="1.1"/>
<polygon points="605.76,925.6 608.14,927.98 605.76,930.35 603.39,927.98" fill="#5e5214"/>
<polygon points="607.7,945.7 610.08,948.08 607.7,950.45 605.33,948.08" fill="#5e5214"/>
<polygon points="609.64,933.64 612.01,936.02 609.64,938.39 607.26,936.02" fill="#5e5214"/>
<polygon points="605.76,940.68 608.14,943.05 605.76,945.43 603.39,943.05" fill="#5e5214"/>
<path d="M617.4 973.2 V912.9 H626.2 V973.2" fill="none" stroke="#7e1123" stroke-width="1.3"/>
<line x1="621.8" y1="906.87" x2="621.8" y2="918.93" stroke="#7e1123" stroke-width="1.1"/>
<line x1="618.5" y1="906.87" x2="625.1" y2="906.87" stroke="#7e1123" stroke-width="1.1"/>
<line x1="618.5" y1="918.93" x2="625.1" y2="918.93" stroke="#7e1123" stroke-width="1.1"/>
<polygon points="621.92,906.27 620.89,908.04 618.84,908.04 617.81,906.27 618.84,904.49 620.89,904.49" fill="#7e1123"/>
<polygon points="623.85,918.33 622.83,920.1 620.77,920.1 619.75,918.33 620.77,916.55 622.83,916.55" fill="#7e1123"/>
<polygon points="625.79,911.09 624.76,912.87 622.71,912.87 621.68,911.09 622.71,909.31 624.76,909.31" fill="#7e1123"/>
<polygon points="621.92,915.31 620.89,917.09 618.84,917.09 617.81,915.31 618.84,913.53 620.89,913.53" fill="#7e1123"/>
<line x1="585.5" y1="973.2" x2="585.5" y2="976.7" stroke="#000" stroke-width="1.2"/>
<text x="585.5" y="988.7" text-anchor="middle">SQSTM1</text>
<line x1="354.2" y1="812" x2="354.2" y2="973.8" stroke="#000" stroke-width="1.3"/>
<line x1="353.6" y1="973.2" x2="631.5" y2="973.2" stroke="#000" stroke-width="1.4"/>
<path d="M363.6 920 V915 H377.1 V920" fill="none" stroke="#000" stroke-width="1.1"/>
<text x="370.35" y="916.4" text-anchor="middle" style="font-size:9.5px">**</text>
<path d="M391.8 880 V875 H405.3 V880" fill="none" stroke="#000" stroke-width="1.1"/>
<text x="398.55" y="876.4" text-anchor="middle" style="font-size:9.5px">***</text>
<path d="M420 845.5 V840.5 H433.5 V845.5" fill="none" stroke="#000" stroke-width="1.1"/>
<text x="426.75" y="841.9" text-anchor="middle" style="font-size:9.5px">**</text>
<path d="M457.8 927.5 V922.5 H471.3 V927.5" fill="none" stroke="#000" stroke-width="1.1"/>
<text x="464.55" y="923.9" text-anchor="middle" style="font-size:9.5px">***</text>
<path d="M486 870.5 V865.5 H499.5 V870.5" fill="none" stroke="#000" stroke-width="1.1"/>
<text x="492.75" y="866.9" text-anchor="middle" style="font-size:9.5px">**</text>
<path d="M514.2 895 V890 H527.7 V895" fill="none" stroke="#000" stroke-width="1.1"/>
<text x="520.95" y="891.4" text-anchor="middle" style="font-size:9.5px">*</text>
<path d="M551.6 854.4 V849.4 H565.1 V854.4" fill="none" stroke="#000" stroke-width="1.1"/>
<text x="558.35" y="850.8" text-anchor="middle" style="font-size:9.5px">**</text>
<path d="M579.8 888.3 V883.3 H593.3 V888.3" fill="none" stroke="#000" stroke-width="1.1"/>
<text x="586.55" y="884.7" text-anchor="middle" style="font-size:9.5px">***</text>
<path d="M608 900.6 V895.6 H621.5 V900.6" fill="none" stroke="#000" stroke-width="1.1"/>
<text x="614.75" y="897" text-anchor="middle" style="font-size:9.5px">**</text>
<line x1="656.5" y1="871.4" x2="661" y2="871.4" stroke="#000" stroke-width="1.2"/>
<text x="655.5" y="875.2" text-anchor="end">500</text>
<line x1="656.5" y1="847.2" x2="661" y2="847.2" stroke="#000" stroke-width="1.2"/>
<text x="655.5" y="851" text-anchor="end">1000</text>
<line x1="656.5" y1="823" x2="661" y2="823" stroke="#000" stroke-width="1.2"/>
<text x="655.5" y="826.8" text-anchor="end">1500</text>
<line x1="656.5" y1="973.2" x2="661" y2="973.2" stroke="#000" stroke-width="1.2"/>
<text x="655.5" y="977" text-anchor="end">0</text>
<line x1="656.5" y1="943.35" x2="661" y2="943.35" stroke="#000" stroke-width="1.2"/>
<text x="655.5" y="947.15" text-anchor="end">10</text>
<line x1="656.5" y1="913.5" x2="661" y2="913.5" stroke="#000" stroke-width="1.2"/>
<text x="655.5" y="917.3" text-anchor="end">20</text>
<circle cx="669.8" cy="970.51" r="1.8" fill="#000"/>
<rect x="683.24" y="970.95" width="3.31" height="3.31" fill="#ff0d0d"/>
<circle cx="672.2" cy="969.71" r="1.8" fill="#000"/>
<rect x="685.64" y="969.45" width="3.31" height="3.31" fill="#ff0d0d"/>
<circle cx="674.6" cy="970.51" r="1.8" fill="#000"/>
<rect x="688.04" y="967.96" width="3.31" height="3.31" fill="#ff0d0d"/>
<circle cx="677" cy="969.71" r="1.8" fill="#000"/>
<rect x="690.44" y="966.47" width="3.31" height="3.31" fill="#ff0d0d"/>
<path d="M698.6 973.2 V899.5 M708.2 973.2 V899.5" fill="none" stroke="#878796" stroke-width="1.3"/>
<path d="M698.6 892.6 V882.05 H708.2 V892.6" fill="none" stroke="#878796" stroke-width="1.3"/>
<line x1="703.4" y1="873.82" x2="703.4" y2="890.28" stroke="#878796" stroke-width="1.1"/>
<line x1="700.1" y1="873.82" x2="706.7" y2="873.82" stroke="#878796" stroke-width="1.1"/>
<polygon points="702.9,870.18 705.08,874.12 700.72,874.12" fill="#878796"/>
<polygon points="699.9,882.28 702.08,886.22 697.72,886.22" fill="#878796"/>
<polygon points="706.9,880.83 709.08,884.76 704.72,884.76" fill="#878796"/>
<polygon points="700.4,887.61 702.58,891.54 698.22,891.54" fill="#878796"/>
<polygon points="706.4,887.12 708.58,891.06 704.22,891.06" fill="#878796"/>
<path d="M713.8 973.2 V933.8 H723.4 V973.2" fill="none" stroke="#f5a3a7" stroke-width="1.3"/>
<line x1="718.6" y1="914.1" x2="718.6" y2="952.9" stroke="#f5a3a7" stroke-width="1.1"/>
<line x1="715.3" y1="914.1" x2="721.9" y2="914.1" stroke="#f5a3a7" stroke-width="1.1"/>
<line x1="715.3" y1="952.9" x2="721.9" y2="952.9" stroke="#f5a3a7" stroke-width="1.1"/>
<circle cx="718.6" cy="906.93" r="1.9" fill="#f5a3a7"/>
<polygon points="716.4,933.7 718.58,937.64 714.22,937.64" fill="#f5a3a7"/>
<polygon points="719.1,938.18 721.28,942.11 716.92,942.11" fill="#f5a3a7"/>
<polygon points="718.1,949.52 720.28,953.46 715.92,953.46" fill="#f5a3a7"/>
<path d="M728.9 973.2 V899.5 M738.5 973.2 V899.5" fill="none" stroke="#5e5214" stroke-width="1.3"/>
<path d="M728.9 892.6 V864.14 H738.5 V892.6" fill="none" stroke="#5e5214" stroke-width="1.3"/>
<line x1="733.7" y1="840.91" x2="733.7" y2="882.53" stroke="#5e5214" stroke-width="1.1"/>
<line x1="730.4" y1="840.91" x2="737" y2="840.91" stroke="#5e5214" stroke-width="1.1"/>
<line x1="730.4" y1="882.53" x2="737" y2="882.53" stroke="#5e5214" stroke-width="1.1"/>
<polygon points="733.7,844.06 735.88,840.13 731.52,840.13" fill="#5e5214"/>
<polygon points="734.2,854.22 736.38,850.29 732.02,850.29" fill="#5e5214"/>
<polygon points="733.7,878.91 735.88,874.98 731.52,874.98" fill="#5e5214"/>
<polygon points="733.7,883.26 735.88,879.33 731.52,879.33" fill="#5e5214"/>
<line x1="749.2" y1="955.89" x2="749.2" y2="972.6" stroke="#7e1123" stroke-width="1.1"/>
<line x1="744.7" y1="964.84" x2="753.7" y2="964.84" stroke="#7e1123" stroke-width="1.2"/>
<line x1="745.9" y1="955.89" x2="752.5" y2="955.89" stroke="#7e1123" stroke-width="1.1"/>
<polygon points="751.25,954.39 750.23,956.17 748.17,956.17 747.15,954.39 748.17,952.62 750.23,952.62" fill="#7e1123"/>
<polygon points="748.05,966.63 747.03,968.41 744.97,968.41 743.95,966.63 744.97,964.86 747.03,964.86" fill="#7e1123"/>
<polygon points="754.45,966.04 753.43,967.81 751.37,967.81 750.35,966.04 751.37,964.26 753.43,964.26" fill="#7e1123"/>
<polygon points="751.25,971.41 750.23,973.19 748.17,973.19 747.15,971.41 748.17,969.63 750.23,969.63" fill="#7e1123"/>
<line x1="661" y1="822.4" x2="661" y2="892.6" stroke="#000" stroke-width="1.3"/>
<line x1="661" y1="899.5" x2="661" y2="973.8" stroke="#000" stroke-width="1.3"/>
<line x1="658" y1="892.6" x2="664" y2="892.6" stroke="#000" stroke-width="1.2"/>
<line x1="658" y1="899.5" x2="664" y2="899.5" stroke="#000" stroke-width="1.2"/>
<line x1="660.4" y1="973.2" x2="759.6" y2="973.2" stroke="#000" stroke-width="1.4"/>
<line x1="710.5" y1="973.2" x2="710.5" y2="976.7" stroke="#000" stroke-width="1.2"/>
<text x="710" y="988.7" text-anchor="middle">pCHK2</text>
<path d="M704.7 862.7 V857.5 H718 V862.7" fill="none" stroke="#000" stroke-width="1.1"/>
<text x="711.35" y="858.9" text-anchor="middle" style="font-size:9.5px">***</text>
<path d="M732.5 835.8 V830.4 H746 V835.8" fill="none" stroke="#000" stroke-width="1.1"/>
<text x="739.25" y="831.8" text-anchor="middle" style="font-size:9.5px">***</text>
</svg>
</body></html>
